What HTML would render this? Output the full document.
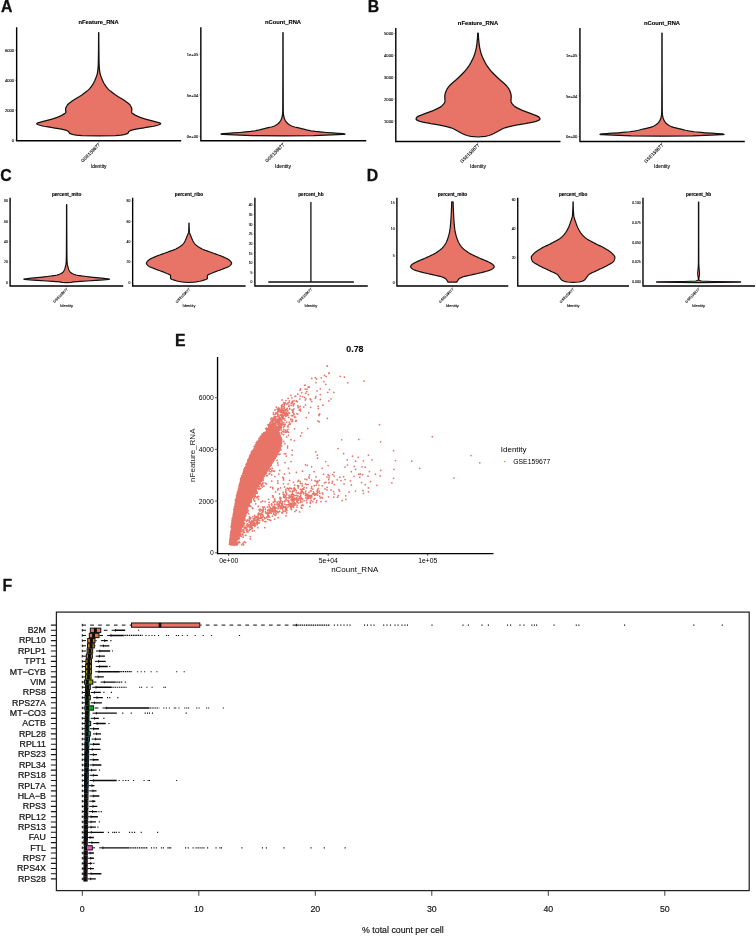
<!DOCTYPE html>
<html lang="en"><head><meta charset="utf-8"><title>QC figure</title>
<style>html,body{margin:0;padding:0;background:#fff;}body{width:756px;height:936px;overflow:hidden;}svg{display:block;font-family:'Liberation Sans', Arial, sans-serif;}</style></head><body>
<svg width="756" height="936" viewBox="0 0 756 936">
<rect width="756" height="936" fill="#fff"/>
<text x="0.95" y="11.9" font-size="15.8" text-anchor="start" font-weight="bold" fill="#111" stroke="#111" stroke-width="0.3">A</text>
<text x="367.7" y="11.9" font-size="15.8" text-anchor="start" font-weight="bold" fill="#111" stroke="#111" stroke-width="0.3">B</text>
<text x="0.2" y="180.8" font-size="15.8" text-anchor="start" font-weight="bold" fill="#111" stroke="#111" stroke-width="0.3">C</text>
<text x="366.7" y="180.8" font-size="15.8" text-anchor="start" font-weight="bold" fill="#111" stroke="#111" stroke-width="0.3">D</text>
<text x="174.9" y="346.4" font-size="15.8" text-anchor="start" font-weight="bold" fill="#111" stroke="#111" stroke-width="0.3">E</text>
<text x="2.45" y="591" font-size="15.8" text-anchor="start" font-weight="bold" fill="#111" stroke="#111" stroke-width="0.3">F</text>
<text x="98.6" y="24.2" font-size="5.8" text-anchor="middle" font-weight="bold" fill="#000" stroke="#000" stroke-width="0.12">nFeature_RNA</text>
<path d="M16.65 27.2 V140.8 H181.2" fill="none" stroke="#000" stroke-width="1.4" stroke-linejoin="miter"/>
<path d="M15.35 50.2H16.65" stroke="#111" stroke-width="0.55"/>
<text x="14.05" y="51.88" font-size="4.1" text-anchor="end" fill="#000" stroke="#000" stroke-width="0.1">6000</text>
<path d="M15.35 80.3H16.65" stroke="#111" stroke-width="0.55"/>
<text x="14.05" y="81.98" font-size="4.1" text-anchor="end" fill="#000" stroke="#000" stroke-width="0.1">4000</text>
<path d="M15.35 110.2H16.65" stroke="#111" stroke-width="0.55"/>
<text x="14.05" y="111.88" font-size="4.1" text-anchor="end" fill="#000" stroke="#000" stroke-width="0.1">2000</text>
<path d="M15.35 140.1H16.65" stroke="#111" stroke-width="0.55"/>
<text x="14.05" y="141.78" font-size="4.1" text-anchor="end" fill="#000" stroke="#000" stroke-width="0.1">0</text>
<path d="M98.6 32.7 L98.6 33.44 L98.6 34.18 L98.6 34.93 L98.6 35.67 L98.59 36.41 L98.59 37.15 L98.59 37.9 L98.59 38.64 L98.58 39.38 L98.58 40.12 L98.57 40.87 L98.57 41.61 L98.57 42.35 L98.56 43.09 L98.55 43.84 L98.55 44.58 L98.54 45.32 L98.54 46.06 L98.53 46.81 L98.52 47.55 L98.52 48.29 L98.51 49.03 L98.5 49.78 L98.5 50.52 L98.49 51.26 L98.48 52 L98.47 52.75 L98.47 53.49 L98.46 54.23 L98.45 54.97 L98.45 55 L98.44 55.72 L98.43 56.46 L98.42 57.2 L98.41 57.94 L98.4 58.69 L98.39 59.43 L98.38 60.17 L98.36 60.91 L98.35 61.66 L98.33 62.4 L98.31 63.14 L98.29 63.88 L98.27 64.63 L98.25 65.2 L98.24 65.37 L98.21 66.11 L98.17 66.85 L98.11 67.59 L98.04 68.34 L97.97 69.08 L97.88 69.82 L97.79 70.56 L97.69 71.31 L97.58 72.05 L97.5 72.6 L97.47 72.79 L97.32 73.53 L97.14 74.28 L96.93 75.02 L96.69 75.76 L96.43 76.5 L96.15 77.25 L95.85 77.99 L95.54 78.73 L95.23 79.47 L95 80 L94.91 80.22 L94.57 80.96 L94.22 81.7 L93.85 82.44 L93.45 83.19 L93.03 83.93 L92.58 84.67 L92.1 85.41 L91.59 86.16 L91.06 86.9 L90.6 87.5 L90.49 87.64 L89.85 88.38 L89.14 89.13 L88.36 89.87 L87.53 90.61 L86.64 91.35 L85.72 92.1 L84.76 92.84 L83.78 93.58 L82.78 94.32 L82 94.9 L81.77 95.07 L80.68 95.81 L79.5 96.55 L78.25 97.29 L76.97 98.04 L75.7 98.78 L74.46 99.52 L73.3 100.26 L72.23 101.01 L72.1 101.1 L71.22 101.75 L70.2 102.49 L69.22 103.23 L68.33 103.97 L67.6 104.72 L67.1 105.4 L67.07 105.46 L66.64 106.2 L66.24 106.94 L65.91 107.69 L65.69 108.43 L65.6 109.17 L65.6 109.2 L65.63 109.91 L65.69 110.66 L65.76 111.4 L65.8 112.14 L65.8 112.3 L65.52 112.88 L64.59 113.63 L63.35 114.37 L62.8 114.7 L62.1 115.11 L60.64 115.85 L58.94 116.6 L57.06 117.34 L55.04 118.08 L54.7 118.2 L52.75 118.82 L50.05 119.57 L47.17 120.31 L44.29 121.05 L42.3 121.6 L41.59 121.79 L38.74 122.54 L37.3 123.1 L37.05 123.28 L36.7 123.7 L36.92 124.02 L37.3 124.3 L38.27 124.76 L40.75 125.51 L42.3 125.9 L43.85 126.25 L48 126.99 L52.56 127.73 L54.7 128.1 L56.91 128.48 L61.41 129.22 L64.6 129.9 L64.81 129.96 L67.12 130.7 L68.55 131.45 L68.6 131.5 L68.97 132.19 L69.25 132.93 L69.5 133.3 L70.09 133.67 L72.5 134.42 L73.3 134.6 L76.5 135.16 L82 135.6 L98.7 135.9 L98.7 135.9 L115.4 135.6 L120.9 135.16 L124.1 134.6 L124.9 134.42 L127.31 133.67 L127.9 133.3 L128.15 132.93 L128.43 132.19 L128.8 131.5 L128.85 131.45 L130.28 130.7 L132.59 129.96 L132.8 129.9 L135.99 129.22 L140.49 128.48 L142.7 128.1 L144.84 127.73 L149.4 126.99 L153.55 126.25 L155.1 125.9 L156.65 125.51 L159.13 124.76 L160.1 124.3 L160.48 124.02 L160.7 123.7 L160.35 123.28 L160.1 123.1 L158.66 122.54 L155.81 121.79 L155.1 121.6 L153.11 121.05 L150.23 120.31 L147.35 119.57 L144.65 118.82 L142.7 118.2 L142.36 118.08 L140.34 117.34 L138.46 116.6 L136.76 115.85 L135.3 115.11 L134.6 114.7 L134.05 114.37 L132.81 113.63 L131.88 112.88 L131.6 112.3 L131.6 112.14 L131.64 111.4 L131.71 110.66 L131.77 109.91 L131.8 109.2 L131.8 109.17 L131.71 108.43 L131.49 107.69 L131.16 106.94 L130.76 106.2 L130.33 105.46 L130.3 105.4 L129.8 104.72 L129.07 103.97 L128.18 103.23 L127.2 102.49 L126.18 101.75 L125.3 101.1 L125.17 101.01 L124.1 100.26 L122.94 99.52 L121.7 98.78 L120.43 98.04 L119.15 97.29 L117.9 96.55 L116.72 95.81 L115.63 95.07 L115.4 94.9 L114.62 94.32 L113.62 93.58 L112.64 92.84 L111.68 92.1 L110.76 91.35 L109.87 90.61 L109.04 89.87 L108.26 89.13 L107.55 88.38 L106.91 87.64 L106.8 87.5 L106.34 86.9 L105.81 86.16 L105.3 85.41 L104.82 84.67 L104.37 83.93 L103.95 83.19 L103.55 82.44 L103.18 81.7 L102.83 80.96 L102.49 80.22 L102.4 80 L102.17 79.47 L101.86 78.73 L101.55 77.99 L101.25 77.25 L100.97 76.5 L100.71 75.76 L100.47 75.02 L100.26 74.28 L100.08 73.53 L99.93 72.79 L99.9 72.6 L99.82 72.05 L99.71 71.31 L99.61 70.56 L99.52 69.82 L99.43 69.08 L99.36 68.34 L99.29 67.59 L99.23 66.85 L99.19 66.11 L99.16 65.37 L99.15 65.2 L99.13 64.63 L99.11 63.88 L99.09 63.14 L99.07 62.4 L99.05 61.66 L99.04 60.91 L99.02 60.17 L99.01 59.43 L99 58.69 L98.99 57.94 L98.98 57.2 L98.97 56.46 L98.96 55.72 L98.95 55 L98.95 54.97 L98.94 54.23 L98.93 53.49 L98.93 52.75 L98.92 52 L98.91 51.26 L98.9 50.52 L98.9 49.78 L98.89 49.03 L98.88 48.29 L98.88 47.55 L98.87 46.81 L98.86 46.06 L98.86 45.32 L98.85 44.58 L98.85 43.84 L98.84 43.09 L98.83 42.35 L98.83 41.61 L98.83 40.87 L98.82 40.12 L98.82 39.38 L98.81 38.64 L98.81 37.9 L98.81 37.15 L98.81 36.41 L98.8 35.67 L98.8 34.93 L98.8 34.18 L98.8 33.44 L98.8 32.7 Z" fill="#E87468" stroke="#111" stroke-width="1.25" stroke-linejoin="round"/>
<path d="M98.7 141.4V142.6" stroke="#111" stroke-width="0.4"/>
<text x="100.4" y="145.1" font-size="4.59" text-anchor="end" fill="#000" stroke="#000" stroke-width="0.1" transform="rotate(-45 100.4 145.1)">GSE159677</text>
<text x="98.7" y="167.7" font-size="4.9" text-anchor="middle" fill="#000" stroke="#000" stroke-width="0.1">Identity</text>
<text x="283" y="24.2" font-size="5.8" text-anchor="middle" font-weight="bold" fill="#000" stroke="#000" stroke-width="0.12">nCount_RNA</text>
<path d="M200.85 27.2 V140.8 H366.2" fill="none" stroke="#000" stroke-width="1.4" stroke-linejoin="miter"/>
<path d="M199.55 54.3H200.85" stroke="#111" stroke-width="0.55"/>
<text x="198.25" y="55.98" font-size="4.1" text-anchor="end" fill="#000" stroke="#000" stroke-width="0.1">1e+05</text>
<path d="M199.55 95.2H200.85" stroke="#111" stroke-width="0.55"/>
<text x="198.25" y="96.88" font-size="4.1" text-anchor="end" fill="#000" stroke="#000" stroke-width="0.1">5e+04</text>
<path d="M199.55 136.1H200.85" stroke="#111" stroke-width="0.55"/>
<text x="198.25" y="137.78" font-size="4.1" text-anchor="end" fill="#000" stroke="#000" stroke-width="0.1">0e+00</text>
<path d="M282.9 32.7 L282.9 33.44 L282.9 34.18 L282.9 34.93 L282.9 35.67 L282.9 36.41 L282.9 37.15 L282.9 37.9 L282.9 38.64 L282.9 39.38 L282.9 40.12 L282.9 40.87 L282.9 41.61 L282.9 42.35 L282.9 43.09 L282.9 43.84 L282.9 44.58 L282.9 45.32 L282.9 46.06 L282.9 46.81 L282.9 47.55 L282.89 48.29 L282.89 49.03 L282.89 49.78 L282.89 50.52 L282.89 51.26 L282.89 52 L282.89 52.75 L282.89 53.49 L282.89 54.23 L282.89 54.97 L282.89 55.72 L282.89 56.46 L282.89 57.2 L282.89 57.94 L282.89 58.69 L282.88 59.43 L282.88 60.17 L282.88 60.91 L282.88 61.66 L282.88 62.4 L282.88 63.14 L282.88 63.88 L282.88 64.63 L282.88 65.37 L282.88 66.11 L282.87 66.85 L282.87 67.59 L282.87 68.34 L282.87 69.08 L282.87 69.82 L282.87 70.56 L282.87 71.31 L282.87 72.05 L282.86 72.79 L282.86 73.53 L282.86 74.28 L282.86 75.02 L282.86 75.76 L282.86 76.5 L282.86 77.25 L282.85 77.99 L282.85 78.73 L282.85 79.47 L282.85 80.22 L282.85 80.96 L282.85 81.7 L282.85 82.44 L282.84 83.19 L282.84 83.93 L282.84 84.67 L282.84 85.41 L282.84 86.16 L282.84 86.9 L282.83 87.64 L282.83 88.38 L282.83 89.13 L282.83 89.87 L282.83 90.61 L282.82 91.35 L282.82 92.1 L282.82 92.84 L282.82 93.58 L282.82 94.32 L282.81 95.07 L282.81 95.81 L282.81 96.55 L282.81 97.29 L282.81 98.04 L282.8 98.78 L282.8 99.52 L282.8 100 L282.8 100.26 L282.8 101.01 L282.79 101.75 L282.79 102.49 L282.79 103.23 L282.79 103.97 L282.78 104.72 L282.78 105.46 L282.77 106.2 L282.77 106.94 L282.76 107.69 L282.75 108.43 L282.75 109.17 L282.74 109.91 L282.73 110.66 L282.71 111.4 L282.7 112.14 L282.7 112.3 L282.68 112.88 L282.62 113.63 L282.53 114.37 L282.42 115.11 L282.28 115.85 L282.13 116.6 L282 117.2 L281.97 117.34 L281.76 118.08 L281.48 118.82 L281.14 119.57 L280.75 120.31 L280.3 121.05 L279.79 121.79 L279.5 122.2 L279.24 122.54 L278.54 123.28 L277.67 124.02 L276.61 124.76 L275.35 125.51 L274.6 125.9 L273.78 126.25 L271.33 126.99 L268.32 127.73 L265.2 128.48 L264.7 128.6 L262.34 129.22 L259.43 129.96 L255.84 130.7 L254.7 130.9 L250.74 131.45 L243.49 132.19 L239.9 132.5 L233.31 132.93 L227.5 133.3 L222.62 133.67 L221.7 133.8 L221 134.05 L221.7 134.3 L223.15 134.42 L233.7 134.8 L240.41 135.16 L252.3 135.6 L283 135.9 L283 135.9 L313.7 135.6 L325.59 135.16 L332.3 134.8 L342.85 134.42 L344.3 134.3 L345 134.05 L344.3 133.8 L343.38 133.67 L338.5 133.3 L332.69 132.93 L326.1 132.5 L322.51 132.19 L315.26 131.45 L311.3 130.9 L310.16 130.7 L306.57 129.96 L303.66 129.22 L301.3 128.6 L300.8 128.48 L297.68 127.73 L294.67 126.99 L292.22 126.25 L291.4 125.9 L290.65 125.51 L289.39 124.76 L288.33 124.02 L287.46 123.28 L286.76 122.54 L286.5 122.2 L286.21 121.79 L285.7 121.05 L285.25 120.31 L284.86 119.57 L284.52 118.82 L284.24 118.08 L284.03 117.34 L284 117.2 L283.87 116.6 L283.72 115.85 L283.58 115.11 L283.47 114.37 L283.38 113.63 L283.32 112.88 L283.3 112.3 L283.3 112.14 L283.29 111.4 L283.27 110.66 L283.26 109.91 L283.25 109.17 L283.25 108.43 L283.24 107.69 L283.23 106.94 L283.23 106.2 L283.22 105.46 L283.22 104.72 L283.21 103.97 L283.21 103.23 L283.21 102.49 L283.21 101.75 L283.2 101.01 L283.2 100.26 L283.2 100 L283.2 99.52 L283.2 98.78 L283.19 98.04 L283.19 97.29 L283.19 96.55 L283.19 95.81 L283.19 95.07 L283.18 94.32 L283.18 93.58 L283.18 92.84 L283.18 92.1 L283.18 91.35 L283.17 90.61 L283.17 89.87 L283.17 89.13 L283.17 88.38 L283.17 87.64 L283.16 86.9 L283.16 86.16 L283.16 85.41 L283.16 84.67 L283.16 83.93 L283.16 83.19 L283.15 82.44 L283.15 81.7 L283.15 80.96 L283.15 80.22 L283.15 79.47 L283.15 78.73 L283.15 77.99 L283.14 77.25 L283.14 76.5 L283.14 75.76 L283.14 75.02 L283.14 74.28 L283.14 73.53 L283.14 72.79 L283.13 72.05 L283.13 71.31 L283.13 70.56 L283.13 69.82 L283.13 69.08 L283.13 68.34 L283.13 67.59 L283.13 66.85 L283.12 66.11 L283.12 65.37 L283.12 64.63 L283.12 63.88 L283.12 63.14 L283.12 62.4 L283.12 61.66 L283.12 60.91 L283.12 60.17 L283.12 59.43 L283.11 58.69 L283.11 57.94 L283.11 57.2 L283.11 56.46 L283.11 55.72 L283.11 54.97 L283.11 54.23 L283.11 53.49 L283.11 52.75 L283.11 52 L283.11 51.26 L283.11 50.52 L283.11 49.78 L283.11 49.03 L283.11 48.29 L283.1 47.55 L283.1 46.81 L283.1 46.06 L283.1 45.32 L283.1 44.58 L283.1 43.84 L283.1 43.09 L283.1 42.35 L283.1 41.61 L283.1 40.87 L283.1 40.12 L283.1 39.38 L283.1 38.64 L283.1 37.9 L283.1 37.15 L283.1 36.41 L283.1 35.67 L283.1 34.93 L283.1 34.18 L283.1 33.44 L283.1 32.7 Z" fill="#E87468" stroke="#111" stroke-width="1.25" stroke-linejoin="round"/>
<path d="M283 141.4V142.6" stroke="#111" stroke-width="0.4"/>
<text x="284.7" y="145.1" font-size="4.59" text-anchor="end" fill="#000" stroke="#000" stroke-width="0.1" transform="rotate(-45 284.7 145.1)">GSE159677</text>
<text x="283" y="167.7" font-size="4.9" text-anchor="middle" fill="#000" stroke="#000" stroke-width="0.1">Identity</text>
<text x="478" y="24.8" font-size="5.8" text-anchor="middle" font-weight="bold" fill="#000" stroke="#000" stroke-width="0.12">nFeature_RNA</text>
<path d="M395.8 28 V141.5 H560.5" fill="none" stroke="#000" stroke-width="1.4" stroke-linejoin="miter"/>
<path d="M394.5 33.4H395.8" stroke="#111" stroke-width="0.55"/>
<text x="393.2" y="35.08" font-size="4.1" text-anchor="end" fill="#000" stroke="#000" stroke-width="0.1">5000</text>
<path d="M394.5 55.3H395.8" stroke="#111" stroke-width="0.55"/>
<text x="393.2" y="56.98" font-size="4.1" text-anchor="end" fill="#000" stroke="#000" stroke-width="0.1">4000</text>
<path d="M394.5 77.1H395.8" stroke="#111" stroke-width="0.55"/>
<text x="393.2" y="78.78" font-size="4.1" text-anchor="end" fill="#000" stroke="#000" stroke-width="0.1">3000</text>
<path d="M394.5 99H395.8" stroke="#111" stroke-width="0.55"/>
<text x="393.2" y="100.68" font-size="4.1" text-anchor="end" fill="#000" stroke="#000" stroke-width="0.1">2000</text>
<path d="M394.5 120.9H395.8" stroke="#111" stroke-width="0.55"/>
<text x="393.2" y="122.58" font-size="4.1" text-anchor="end" fill="#000" stroke="#000" stroke-width="0.1">1000</text>
<path d="M477.7 33.2 L477.69 33.95 L477.66 34.69 L477.63 35.44 L477.59 36.19 L477.54 36.93 L477.49 37.68 L477.43 38.43 L477.37 39.17 L477.3 39.92 L477.23 40.67 L477.15 41.41 L477.08 42.16 L477 42.9 L477 42.91 L476.92 43.65 L476.82 44.4 L476.71 45.15 L476.6 45.89 L476.47 46.64 L476.34 47.39 L476.19 48.14 L476.04 48.88 L475.88 49.63 L475.71 50.38 L475.53 51.12 L475.34 51.87 L475.15 52.62 L475.1 52.8 L474.94 53.36 L474.71 54.11 L474.46 54.86 L474.19 55.6 L473.89 56.35 L473.58 57.1 L473.25 57.84 L472.91 58.59 L472.55 59.34 L472.18 60.08 L471.79 60.83 L471.4 61.58 L471 62.32 L470.8 62.7 L470.6 63.07 L470.16 63.82 L469.71 64.56 L469.22 65.31 L468.72 66.06 L468.2 66.8 L467.65 67.55 L467.09 68.3 L466.51 69.04 L465.92 69.79 L465.31 70.54 L464.7 71.28 L464.6 71.4 L464.06 72.03 L463.38 72.78 L462.67 73.53 L461.94 74.27 L461.18 75.02 L460.41 75.77 L459.62 76.51 L458.83 77.26 L458.04 78.01 L457.25 78.75 L457.2 78.8 L456.44 79.5 L455.58 80.25 L454.7 80.99 L453.8 81.74 L452.92 82.49 L452.05 83.23 L451.24 83.98 L450.48 84.73 L449.81 85.47 L449.7 85.6 L449.19 86.22 L448.59 86.97 L448.02 87.71 L447.48 88.46 L446.99 89.21 L446.55 89.95 L446.19 90.7 L446 91.2 L445.91 91.45 L445.65 92.19 L445.41 92.94 L445.19 93.69 L445 94.43 L444.87 95.18 L444.81 95.93 L444.8 96.2 L444.81 96.67 L444.83 97.42 L444.87 98.17 L444.92 98.92 L444.96 99.66 L444.99 100.41 L445 101.1 L445 101.16 L444.87 101.9 L444.55 102.65 L444.08 103.4 L443.5 104.14 L442.85 104.89 L442.3 105.5 L442.17 105.64 L441.29 106.38 L440.14 107.13 L438.8 107.88 L437.33 108.62 L435.79 109.37 L434.9 109.8 L434.22 110.12 L432.4 110.86 L430.41 111.61 L428.32 112.36 L426.25 113.1 L424.31 113.85 L423.7 114.1 L422.45 114.6 L420.46 115.34 L418.62 116.09 L417.28 116.84 L416.9 117.2 L416.62 117.58 L416.19 118.33 L416 119.08 L416 119.1 L416.6 119.82 L418.06 120.57 L418.8 120.9 L419.98 121.32 L423.03 122.06 L426.73 122.81 L428.7 123.2 L430.65 123.56 L435.31 124.31 L439.83 125.05 L441.1 125.3 L443.43 125.8 L446.67 126.55 L449.46 127.29 L451 127.8 L451.63 128.04 L453.35 128.79 L454.82 129.53 L456.15 130.28 L457.49 131.03 L458.4 131.5 L458.93 131.77 L460.31 132.52 L461.68 133.27 L463.2 134.01 L464.6 134.6 L465.01 134.76 L466.98 135.51 L469.98 136.25 L470.8 136.4 L478 137 L478 137 L485.2 136.4 L486.02 136.25 L489.02 135.51 L490.99 134.76 L491.4 134.6 L492.8 134.01 L494.32 133.27 L495.69 132.52 L497.07 131.77 L497.6 131.5 L498.51 131.03 L499.85 130.28 L501.18 129.53 L502.65 128.79 L504.37 128.04 L505 127.8 L506.54 127.29 L509.33 126.55 L512.57 125.8 L514.9 125.3 L516.17 125.05 L520.69 124.31 L525.35 123.56 L527.3 123.2 L529.27 122.81 L532.97 122.06 L536.02 121.32 L537.2 120.9 L537.94 120.57 L539.4 119.82 L540 119.1 L540 119.08 L539.81 118.33 L539.38 117.58 L539.1 117.2 L538.72 116.84 L537.38 116.09 L535.54 115.34 L533.55 114.6 L532.3 114.1 L531.69 113.85 L529.75 113.1 L527.68 112.36 L525.59 111.61 L523.6 110.86 L521.78 110.12 L521.1 109.8 L520.21 109.37 L518.67 108.62 L517.2 107.88 L515.86 107.13 L514.71 106.38 L513.83 105.64 L513.7 105.5 L513.15 104.89 L512.5 104.14 L511.92 103.4 L511.45 102.65 L511.13 101.9 L511 101.16 L511 101.1 L511.01 100.41 L511.04 99.66 L511.08 98.92 L511.13 98.17 L511.17 97.42 L511.19 96.67 L511.2 96.2 L511.19 95.93 L511.13 95.18 L511 94.43 L510.81 93.69 L510.59 92.94 L510.35 92.19 L510.09 91.45 L510 91.2 L509.81 90.7 L509.45 89.95 L509.01 89.21 L508.52 88.46 L507.98 87.71 L507.41 86.97 L506.81 86.22 L506.3 85.6 L506.19 85.47 L505.52 84.73 L504.76 83.98 L503.95 83.23 L503.08 82.49 L502.2 81.74 L501.3 80.99 L500.42 80.25 L499.56 79.5 L498.8 78.8 L498.75 78.75 L497.96 78.01 L497.17 77.26 L496.38 76.51 L495.59 75.77 L494.82 75.02 L494.06 74.27 L493.33 73.53 L492.62 72.78 L491.94 72.03 L491.4 71.4 L491.3 71.28 L490.69 70.54 L490.08 69.79 L489.49 69.04 L488.91 68.3 L488.35 67.55 L487.8 66.8 L487.28 66.06 L486.78 65.31 L486.29 64.56 L485.84 63.82 L485.4 63.07 L485.2 62.7 L485 62.32 L484.6 61.58 L484.21 60.83 L483.82 60.08 L483.45 59.34 L483.09 58.59 L482.75 57.84 L482.42 57.1 L482.11 56.35 L481.81 55.6 L481.54 54.86 L481.29 54.11 L481.06 53.36 L480.9 52.8 L480.85 52.62 L480.66 51.87 L480.47 51.12 L480.29 50.38 L480.12 49.63 L479.96 48.88 L479.81 48.14 L479.66 47.39 L479.53 46.64 L479.4 45.89 L479.29 45.15 L479.18 44.4 L479.08 43.65 L479 42.91 L479 42.9 L478.92 42.16 L478.85 41.41 L478.77 40.67 L478.7 39.92 L478.63 39.17 L478.57 38.43 L478.51 37.68 L478.46 36.93 L478.41 36.19 L478.37 35.44 L478.34 34.69 L478.31 33.95 L478.3 33.2 Z" fill="#E87468" stroke="#111" stroke-width="1.25" stroke-linejoin="round"/>
<path d="M478 142V143.2" stroke="#111" stroke-width="0.4"/>
<text x="479.7" y="145.7" font-size="4.59" text-anchor="end" fill="#000" stroke="#000" stroke-width="0.1" transform="rotate(-45 479.7 145.7)">GSE159677</text>
<text x="478" y="168.3" font-size="4.9" text-anchor="middle" fill="#000" stroke="#000" stroke-width="0.1">Identity</text>
<text x="662" y="25" font-size="5.8" text-anchor="middle" font-weight="bold" fill="#000" stroke="#000" stroke-width="0.12">nCount_RNA</text>
<path d="M579.95 28 V141.5 H744.8" fill="none" stroke="#000" stroke-width="1.4" stroke-linejoin="miter"/>
<path d="M578.7 55H580" stroke="#111" stroke-width="0.55"/>
<text x="577.4" y="56.68" font-size="4.1" text-anchor="end" fill="#000" stroke="#000" stroke-width="0.1">1e+05</text>
<path d="M578.7 95.9H580" stroke="#111" stroke-width="0.55"/>
<text x="577.4" y="97.58" font-size="4.1" text-anchor="end" fill="#000" stroke="#000" stroke-width="0.1">5e+04</text>
<path d="M578.7 136.6H580" stroke="#111" stroke-width="0.55"/>
<text x="577.4" y="138.28" font-size="4.1" text-anchor="end" fill="#000" stroke="#000" stroke-width="0.1">0e+00</text>
<path d="M661.9 33 L661.9 33.74 L661.9 34.48 L661.9 35.23 L661.9 35.97 L661.9 36.71 L661.9 37.45 L661.9 38.2 L661.9 38.94 L661.9 39.68 L661.9 40.42 L661.9 41.17 L661.9 41.91 L661.9 42.65 L661.9 43.39 L661.9 44.14 L661.9 44.88 L661.9 45.62 L661.9 46.36 L661.9 47.11 L661.9 47.85 L661.89 48.59 L661.89 49.33 L661.89 50.08 L661.89 50.82 L661.89 51.56 L661.89 52.3 L661.89 53.05 L661.89 53.79 L661.89 54.53 L661.89 55.27 L661.89 56.02 L661.89 56.76 L661.89 57.5 L661.89 58.24 L661.89 58.99 L661.88 59.73 L661.88 60.47 L661.88 61.21 L661.88 61.96 L661.88 62.7 L661.88 63.44 L661.88 64.18 L661.88 64.93 L661.88 65.67 L661.88 66.41 L661.87 67.15 L661.87 67.89 L661.87 68.64 L661.87 69.38 L661.87 70.12 L661.87 70.86 L661.87 71.61 L661.87 72.35 L661.86 73.09 L661.86 73.83 L661.86 74.58 L661.86 75.32 L661.86 76.06 L661.86 76.8 L661.86 77.55 L661.85 78.29 L661.85 79.03 L661.85 79.77 L661.85 80.52 L661.85 81.26 L661.85 82 L661.85 82.74 L661.84 83.49 L661.84 84.23 L661.84 84.97 L661.84 85.71 L661.84 86.46 L661.84 87.2 L661.83 87.94 L661.83 88.68 L661.83 89.43 L661.83 90.17 L661.83 90.91 L661.82 91.65 L661.82 92.4 L661.82 93.14 L661.82 93.88 L661.82 94.62 L661.81 95.37 L661.81 96.11 L661.81 96.85 L661.81 97.59 L661.81 98.34 L661.8 99.08 L661.8 99.82 L661.8 100.3 L661.8 100.56 L661.8 101.31 L661.79 102.05 L661.79 102.79 L661.79 103.53 L661.79 104.27 L661.78 105.02 L661.78 105.76 L661.77 106.5 L661.77 107.24 L661.76 107.99 L661.75 108.73 L661.75 109.47 L661.74 110.21 L661.73 110.96 L661.71 111.7 L661.7 112.44 L661.7 112.6 L661.68 113.18 L661.62 113.93 L661.53 114.67 L661.42 115.41 L661.28 116.15 L661.13 116.9 L661 117.5 L660.97 117.64 L660.76 118.38 L660.48 119.12 L660.14 119.87 L659.75 120.61 L659.3 121.35 L658.79 122.09 L658.5 122.5 L658.24 122.84 L657.54 123.58 L656.67 124.32 L655.61 125.06 L654.35 125.81 L653.6 126.2 L652.78 126.55 L650.33 127.29 L647.32 128.03 L644.2 128.78 L643.7 128.9 L641.34 129.52 L638.43 130.26 L634.84 131 L633.7 131.2 L629.74 131.75 L622.49 132.49 L618.9 132.8 L612.31 133.23 L606.5 133.6 L601.62 133.97 L600.7 134.1 L600 134.35 L600.7 134.6 L602.15 134.72 L612.7 135.1 L619.41 135.46 L631.3 135.9 L662 136.2 L662 136.2 L692.7 135.9 L704.59 135.46 L711.3 135.1 L721.85 134.72 L723.3 134.6 L724 134.35 L723.3 134.1 L722.38 133.97 L717.5 133.6 L711.69 133.23 L705.1 132.8 L701.51 132.49 L694.26 131.75 L690.3 131.2 L689.16 131 L685.57 130.26 L682.66 129.52 L680.3 128.9 L679.8 128.78 L676.68 128.03 L673.67 127.29 L671.22 126.55 L670.4 126.2 L669.65 125.81 L668.39 125.06 L667.33 124.32 L666.46 123.58 L665.76 122.84 L665.5 122.5 L665.21 122.09 L664.7 121.35 L664.25 120.61 L663.86 119.87 L663.52 119.12 L663.24 118.38 L663.03 117.64 L663 117.5 L662.87 116.9 L662.72 116.15 L662.58 115.41 L662.47 114.67 L662.38 113.93 L662.32 113.18 L662.3 112.6 L662.3 112.44 L662.29 111.7 L662.27 110.96 L662.26 110.21 L662.25 109.47 L662.25 108.73 L662.24 107.99 L662.23 107.24 L662.23 106.5 L662.22 105.76 L662.22 105.02 L662.21 104.27 L662.21 103.53 L662.21 102.79 L662.21 102.05 L662.2 101.31 L662.2 100.56 L662.2 100.3 L662.2 99.82 L662.2 99.08 L662.19 98.34 L662.19 97.59 L662.19 96.85 L662.19 96.11 L662.19 95.37 L662.18 94.62 L662.18 93.88 L662.18 93.14 L662.18 92.4 L662.18 91.65 L662.17 90.91 L662.17 90.17 L662.17 89.43 L662.17 88.68 L662.17 87.94 L662.16 87.2 L662.16 86.46 L662.16 85.71 L662.16 84.97 L662.16 84.23 L662.16 83.49 L662.15 82.74 L662.15 82 L662.15 81.26 L662.15 80.52 L662.15 79.77 L662.15 79.03 L662.15 78.29 L662.14 77.55 L662.14 76.8 L662.14 76.06 L662.14 75.32 L662.14 74.58 L662.14 73.83 L662.14 73.09 L662.13 72.35 L662.13 71.61 L662.13 70.86 L662.13 70.12 L662.13 69.38 L662.13 68.64 L662.13 67.89 L662.13 67.15 L662.12 66.41 L662.12 65.67 L662.12 64.93 L662.12 64.18 L662.12 63.44 L662.12 62.7 L662.12 61.96 L662.12 61.21 L662.12 60.47 L662.12 59.73 L662.11 58.99 L662.11 58.24 L662.11 57.5 L662.11 56.76 L662.11 56.02 L662.11 55.27 L662.11 54.53 L662.11 53.79 L662.11 53.05 L662.11 52.3 L662.11 51.56 L662.11 50.82 L662.11 50.08 L662.11 49.33 L662.11 48.59 L662.1 47.85 L662.1 47.11 L662.1 46.36 L662.1 45.62 L662.1 44.88 L662.1 44.14 L662.1 43.39 L662.1 42.65 L662.1 41.91 L662.1 41.17 L662.1 40.42 L662.1 39.68 L662.1 38.94 L662.1 38.2 L662.1 37.45 L662.1 36.71 L662.1 35.97 L662.1 35.23 L662.1 34.48 L662.1 33.74 L662.1 33 Z" fill="#E87468" stroke="#111" stroke-width="1.25" stroke-linejoin="round"/>
<path d="M662 141.8V143" stroke="#111" stroke-width="0.4"/>
<text x="663.7" y="145.5" font-size="4.59" text-anchor="end" fill="#000" stroke="#000" stroke-width="0.1" transform="rotate(-45 663.7 145.5)">GSE159677</text>
<text x="662" y="168.1" font-size="4.9" text-anchor="middle" fill="#000" stroke="#000" stroke-width="0.1">Identity</text>
<text x="66.6" y="195.5" font-size="4.7" text-anchor="middle" font-weight="bold" fill="#000" stroke="#000" stroke-width="0.12">percent_mito</text>
<path d="M10.1 197.7 V286 H123.2" fill="none" stroke="#000" stroke-width="1.35" stroke-linejoin="miter"/>
<path d="M9.1 200.9H10.1" stroke="#111" stroke-width="0.55"/>
<text x="7.8" y="202.32" font-size="3.4" text-anchor="end" fill="#000" stroke="#000" stroke-width="0.1">80</text>
<path d="M9.1 221.3H10.1" stroke="#111" stroke-width="0.55"/>
<text x="7.8" y="222.72" font-size="3.4" text-anchor="end" fill="#000" stroke="#000" stroke-width="0.1">60</text>
<path d="M9.1 241.6H10.1" stroke="#111" stroke-width="0.55"/>
<text x="7.8" y="243.02" font-size="3.4" text-anchor="end" fill="#000" stroke="#000" stroke-width="0.1">40</text>
<path d="M9.1 261.7H10.1" stroke="#111" stroke-width="0.55"/>
<text x="7.8" y="263.12" font-size="3.4" text-anchor="end" fill="#000" stroke="#000" stroke-width="0.1">20</text>
<path d="M9.1 282.1H10.1" stroke="#111" stroke-width="0.55"/>
<text x="7.8" y="283.52" font-size="3.4" text-anchor="end" fill="#000" stroke="#000" stroke-width="0.1">0</text>
<path d="M66.55 204.5 L66.55 205.06 L66.55 205.63 L66.55 206.19 L66.55 206.75 L66.55 207.31 L66.55 207.88 L66.55 208.44 L66.55 209 L66.55 209.56 L66.55 210.13 L66.55 210.69 L66.55 211.25 L66.55 211.81 L66.55 212.38 L66.54 212.94 L66.54 213.5 L66.54 214.06 L66.54 214.63 L66.54 215.19 L66.54 215.75 L66.54 216.31 L66.54 216.88 L66.54 217.44 L66.54 218 L66.53 218.56 L66.53 219.13 L66.53 219.69 L66.53 220.25 L66.53 220.82 L66.53 221.38 L66.53 221.94 L66.53 222.5 L66.52 223.07 L66.52 223.63 L66.52 224.19 L66.52 224.75 L66.52 225.32 L66.52 225.88 L66.51 226.44 L66.51 227 L66.51 227.57 L66.51 228.13 L66.51 228.69 L66.5 229.25 L66.5 229.82 L66.5 230.38 L66.5 230.94 L66.5 231.5 L66.49 232.07 L66.49 232.63 L66.49 233.19 L66.49 233.75 L66.48 234.32 L66.48 234.88 L66.48 235.44 L66.48 236.01 L66.47 236.57 L66.47 237.13 L66.47 237.69 L66.47 238.26 L66.46 238.82 L66.46 239.38 L66.46 239.94 L66.45 240.51 L66.45 241.07 L66.45 241.63 L66.45 242.19 L66.44 242.76 L66.44 243.32 L66.44 243.88 L66.43 244.44 L66.43 245.01 L66.43 245.57 L66.42 246.13 L66.42 246.69 L66.42 247.26 L66.41 247.82 L66.41 248.38 L66.41 248.94 L66.4 249.51 L66.4 250 L66.4 250.07 L66.4 250.63 L66.39 251.19 L66.39 251.76 L66.38 252.32 L66.38 252.88 L66.37 253.45 L66.37 254.01 L66.36 254.57 L66.35 255.13 L66.34 255.7 L66.34 256.26 L66.33 256.82 L66.32 257.38 L66.31 257.95 L66.29 258.51 L66.28 259.07 L66.27 259.63 L66.25 260.2 L66.24 260.76 L66.22 261.32 L66.2 261.88 L66.2 261.9 L66.17 262.45 L66.12 263.01 L66.05 263.57 L65.97 264.13 L65.86 264.7 L65.75 265.26 L65.63 265.82 L65.49 266.38 L65.35 266.95 L65.2 267.51 L65.15 267.7 L65.05 268.07 L64.88 268.64 L64.68 269.2 L64.46 269.76 L64.2 270.32 L63.89 270.89 L63.53 271.45 L63.12 272.01 L63.05 272.1 L62.57 272.57 L61.76 273.14 L60.68 273.7 L59.33 274.26 L57.71 274.82 L57.15 275 L55.45 275.39 L51.76 275.95 L47.25 276.51 L44.05 276.9 L42.56 277.07 L37.06 277.64 L31.39 278.2 L29.55 278.4 L25.82 278.76 L23.85 279.1 L24.48 279.32 L30.04 279.89 L36.85 280.4 L37.49 280.45 L46.43 281.01 L52.85 281.4 L55.8 281.57 L60.15 281.9 L60.98 282.14 L62.25 282.5 L66.65 282.7 L66.65 282.7 L71.05 282.5 L72.32 282.14 L73.15 281.9 L77.5 281.57 L80.45 281.4 L86.87 281.01 L95.81 280.45 L96.45 280.4 L103.26 279.89 L108.82 279.32 L109.45 279.1 L107.48 278.76 L103.75 278.4 L101.91 278.2 L96.24 277.64 L90.74 277.07 L89.25 276.9 L86.05 276.51 L81.54 275.95 L77.85 275.39 L76.15 275 L75.59 274.82 L73.97 274.26 L72.62 273.7 L71.54 273.14 L70.73 272.57 L70.25 272.1 L70.18 272.01 L69.77 271.45 L69.41 270.89 L69.1 270.32 L68.84 269.76 L68.62 269.2 L68.42 268.64 L68.25 268.07 L68.15 267.7 L68.1 267.51 L67.95 266.95 L67.81 266.38 L67.67 265.82 L67.55 265.26 L67.44 264.7 L67.33 264.13 L67.25 263.57 L67.18 263.01 L67.13 262.45 L67.1 261.9 L67.1 261.88 L67.08 261.32 L67.06 260.76 L67.05 260.2 L67.03 259.63 L67.02 259.07 L67.01 258.51 L66.99 257.95 L66.98 257.38 L66.97 256.82 L66.96 256.26 L66.96 255.7 L66.95 255.13 L66.94 254.57 L66.93 254.01 L66.93 253.45 L66.92 252.88 L66.92 252.32 L66.91 251.76 L66.91 251.19 L66.9 250.63 L66.9 250.07 L66.9 250 L66.9 249.51 L66.89 248.94 L66.89 248.38 L66.89 247.82 L66.88 247.26 L66.88 246.69 L66.88 246.13 L66.87 245.57 L66.87 245.01 L66.87 244.44 L66.86 243.88 L66.86 243.32 L66.86 242.76 L66.85 242.19 L66.85 241.63 L66.85 241.07 L66.85 240.51 L66.84 239.94 L66.84 239.38 L66.84 238.82 L66.83 238.26 L66.83 237.69 L66.83 237.13 L66.83 236.57 L66.82 236.01 L66.82 235.44 L66.82 234.88 L66.82 234.32 L66.81 233.75 L66.81 233.19 L66.81 232.63 L66.81 232.07 L66.8 231.5 L66.8 230.94 L66.8 230.38 L66.8 229.82 L66.8 229.25 L66.79 228.69 L66.79 228.13 L66.79 227.57 L66.79 227 L66.79 226.44 L66.78 225.88 L66.78 225.32 L66.78 224.75 L66.78 224.19 L66.78 223.63 L66.78 223.07 L66.77 222.5 L66.77 221.94 L66.77 221.38 L66.77 220.82 L66.77 220.25 L66.77 219.69 L66.77 219.13 L66.77 218.56 L66.76 218 L66.76 217.44 L66.76 216.88 L66.76 216.31 L66.76 215.75 L66.76 215.19 L66.76 214.63 L66.76 214.06 L66.76 213.5 L66.76 212.94 L66.75 212.38 L66.75 211.81 L66.75 211.25 L66.75 210.69 L66.75 210.13 L66.75 209.56 L66.75 209 L66.75 208.44 L66.75 207.88 L66.75 207.31 L66.75 206.75 L66.75 206.19 L66.75 205.63 L66.75 205.06 L66.75 204.5 Z" fill="#E87468" stroke="#111" stroke-width="1.2" stroke-linejoin="round"/>
<path d="M66.65 286.5V287.5" stroke="#111" stroke-width="0.4"/>
<text x="68.06" y="289.57" font-size="3.5" text-anchor="end" fill="#000" stroke="#000" stroke-width="0.1" transform="rotate(-45 68.06 289.57)">GSE159677</text>
<text x="66.65" y="306.9" font-size="4" text-anchor="middle" fill="#000" stroke="#000" stroke-width="0.1">Identity</text>
<text x="189" y="195.5" font-size="4.7" text-anchor="middle" font-weight="bold" fill="#000" stroke="#000" stroke-width="0.12">percent_ribo</text>
<path d="M132.65 197.7 V286 H245.6" fill="none" stroke="#000" stroke-width="1.35" stroke-linejoin="miter"/>
<path d="M131.7 201H132.7" stroke="#111" stroke-width="0.55"/>
<text x="130.4" y="202.42" font-size="3.4" text-anchor="end" fill="#000" stroke="#000" stroke-width="0.1">80</text>
<path d="M131.7 221.5H132.7" stroke="#111" stroke-width="0.55"/>
<text x="130.4" y="222.92" font-size="3.4" text-anchor="end" fill="#000" stroke="#000" stroke-width="0.1">60</text>
<path d="M131.7 241.7H132.7" stroke="#111" stroke-width="0.55"/>
<text x="130.4" y="243.12" font-size="3.4" text-anchor="end" fill="#000" stroke="#000" stroke-width="0.1">40</text>
<path d="M131.7 262H132.7" stroke="#111" stroke-width="0.55"/>
<text x="130.4" y="263.42" font-size="3.4" text-anchor="end" fill="#000" stroke="#000" stroke-width="0.1">20</text>
<path d="M131.7 282.3H132.7" stroke="#111" stroke-width="0.55"/>
<text x="130.4" y="283.72" font-size="3.4" text-anchor="end" fill="#000" stroke="#000" stroke-width="0.1">0</text>
<path d="M188.9 223.2 L188.9 223.63 L188.9 224.05 L188.89 224.48 L188.89 224.91 L188.88 225.33 L188.87 225.76 L188.87 226.19 L188.86 226.61 L188.84 227.04 L188.83 227.47 L188.82 227.89 L188.8 228.32 L188.78 228.75 L188.77 229.17 L188.75 229.6 L188.73 230.03 L188.7 230.45 L188.68 230.88 L188.66 231.31 L188.65 231.4 L188.62 231.73 L188.55 232.16 L188.46 232.59 L188.34 233.01 L188.2 233.44 L188.05 233.87 L187.88 234.29 L187.7 234.72 L187.52 235.15 L187.33 235.57 L187.15 236 L186.97 236.43 L186.9 236.6 L186.8 236.85 L186.63 237.28 L186.47 237.71 L186.3 238.13 L186.13 238.56 L185.96 238.98 L185.78 239.41 L185.59 239.84 L185.4 240.26 L185.19 240.69 L184.98 241.12 L184.75 241.54 L184.51 241.97 L184.25 242.4 L183.97 242.82 L183.68 243.25 L183.5 243.5 L183.36 243.68 L183 244.1 L182.58 244.53 L182.12 244.96 L181.6 245.38 L181.05 245.81 L180.46 246.24 L179.83 246.66 L179.17 247.09 L178.47 247.52 L177.75 247.94 L177.01 248.37 L176.6 248.6 L176.23 248.8 L175.35 249.22 L174.35 249.65 L173.28 250.08 L172.14 250.5 L170.95 250.93 L169.75 251.36 L168.54 251.78 L167.35 252.21 L166.3 252.6 L166.2 252.64 L165.05 253.06 L163.86 253.49 L162.65 253.92 L161.44 254.34 L160.24 254.77 L159.06 255.2 L157.92 255.62 L156.84 256.05 L156 256.4 L155.82 256.48 L154.82 256.9 L153.81 257.33 L152.82 257.76 L151.87 258.18 L150.99 258.61 L150.2 259.04 L149.53 259.46 L149.1 259.8 L149 259.89 L148.51 260.32 L148.03 260.74 L147.58 261.17 L147.18 261.6 L146.84 262.02 L146.59 262.45 L146.44 262.88 L146.4 263.2 L146.4 263.3 L146.5 263.73 L146.72 264.16 L147.03 264.58 L147.41 265.01 L147.83 265.44 L148.2 265.8 L148.27 265.86 L148.84 266.29 L149.61 266.72 L150.52 267.14 L151.54 267.57 L152.63 267.99 L153.75 268.42 L154.87 268.85 L155.94 269.27 L156 269.3 L157.01 269.7 L158.14 270.13 L159.33 270.55 L160.54 270.98 L161.75 271.41 L162.93 271.83 L164.07 272.26 L165.14 272.69 L166.12 273.11 L166.3 273.2 L167.06 273.54 L168.09 273.97 L169.07 274.39 L169.89 274.82 L170.44 275.25 L170.6 275.6 L170.6 275.67 L170.6 276.1 L170.6 276.53 L170.6 276.95 L170.6 277.38 L170.6 277.81 L170.6 278.23 L170.6 278.4 L170.71 278.66 L171.3 279.09 L172.27 279.51 L173.49 279.94 L174.8 280.37 L174.9 280.4 L176.3 280.79 L178.28 281.22 L180.77 281.65 L181.8 281.8 L184.16 282.07 L189 282.5 L189 282.5 L193.84 282.07 L196.2 281.8 L197.23 281.65 L199.72 281.22 L201.7 280.79 L203.1 280.4 L203.2 280.37 L204.51 279.94 L205.73 279.51 L206.7 279.09 L207.29 278.66 L207.4 278.4 L207.4 278.23 L207.4 277.81 L207.4 277.38 L207.4 276.95 L207.4 276.53 L207.4 276.1 L207.4 275.67 L207.4 275.6 L207.56 275.25 L208.11 274.82 L208.93 274.39 L209.91 273.97 L210.94 273.54 L211.7 273.2 L211.88 273.11 L212.86 272.69 L213.93 272.26 L215.07 271.83 L216.25 271.41 L217.46 270.98 L218.67 270.55 L219.86 270.13 L220.99 269.7 L222 269.3 L222.06 269.27 L223.13 268.85 L224.25 268.42 L225.37 267.99 L226.46 267.57 L227.48 267.14 L228.39 266.72 L229.16 266.29 L229.73 265.86 L229.8 265.8 L230.17 265.44 L230.59 265.01 L230.97 264.58 L231.28 264.16 L231.5 263.73 L231.6 263.3 L231.6 263.2 L231.56 262.88 L231.41 262.45 L231.16 262.02 L230.82 261.6 L230.42 261.17 L229.97 260.74 L229.49 260.32 L229 259.89 L228.9 259.8 L228.47 259.46 L227.8 259.04 L227.01 258.61 L226.13 258.18 L225.18 257.76 L224.19 257.33 L223.18 256.9 L222.18 256.48 L222 256.4 L221.16 256.05 L220.08 255.62 L218.94 255.2 L217.76 254.77 L216.56 254.34 L215.35 253.92 L214.14 253.49 L212.95 253.06 L211.8 252.64 L211.7 252.6 L210.65 252.21 L209.46 251.78 L208.25 251.36 L207.05 250.93 L205.86 250.5 L204.72 250.08 L203.65 249.65 L202.65 249.22 L201.77 248.8 L201.4 248.6 L200.99 248.37 L200.25 247.94 L199.53 247.52 L198.83 247.09 L198.17 246.66 L197.54 246.24 L196.95 245.81 L196.4 245.38 L195.88 244.96 L195.42 244.53 L195 244.1 L194.64 243.68 L194.5 243.5 L194.32 243.25 L194.03 242.82 L193.75 242.4 L193.49 241.97 L193.25 241.54 L193.02 241.12 L192.81 240.69 L192.6 240.26 L192.41 239.84 L192.22 239.41 L192.04 238.98 L191.87 238.56 L191.7 238.13 L191.53 237.71 L191.37 237.28 L191.2 236.85 L191.1 236.6 L191.03 236.43 L190.85 236 L190.67 235.57 L190.48 235.15 L190.3 234.72 L190.12 234.29 L189.95 233.87 L189.8 233.44 L189.66 233.01 L189.54 232.59 L189.45 232.16 L189.38 231.73 L189.35 231.4 L189.34 231.31 L189.32 230.88 L189.3 230.45 L189.27 230.03 L189.25 229.6 L189.23 229.17 L189.22 228.75 L189.2 228.32 L189.18 227.89 L189.17 227.47 L189.16 227.04 L189.14 226.61 L189.13 226.19 L189.13 225.76 L189.12 225.33 L189.11 224.91 L189.11 224.48 L189.1 224.05 L189.1 223.63 L189.1 223.2 Z" fill="#E87468" stroke="#111" stroke-width="1.2" stroke-linejoin="round"/>
<path d="M189 286.6V287.6" stroke="#111" stroke-width="0.4"/>
<text x="190.41" y="289.67" font-size="3.5" text-anchor="end" fill="#000" stroke="#000" stroke-width="0.1" transform="rotate(-45 190.41 289.67)">GSE159677</text>
<text x="189" y="307" font-size="4" text-anchor="middle" fill="#000" stroke="#000" stroke-width="0.1">Identity</text>
<text x="310.9" y="195.5" font-size="4.7" text-anchor="middle" font-weight="bold" fill="#000" stroke="#000" stroke-width="0.12">percent_hb</text>
<path d="M254.9 197.7 V286 H367.8" fill="none" stroke="#000" stroke-width="1.35" stroke-linejoin="miter"/>
<path d="M253.8 205H254.8" stroke="#111" stroke-width="0.55"/>
<text x="252.5" y="206.42" font-size="3.4" text-anchor="end" fill="#000" stroke="#000" stroke-width="0.1">40</text>
<path d="M253.8 214.6H254.8" stroke="#111" stroke-width="0.55"/>
<text x="252.5" y="216.02" font-size="3.4" text-anchor="end" fill="#000" stroke="#000" stroke-width="0.1">35</text>
<path d="M253.8 224.3H254.8" stroke="#111" stroke-width="0.55"/>
<text x="252.5" y="225.72" font-size="3.4" text-anchor="end" fill="#000" stroke="#000" stroke-width="0.1">30</text>
<path d="M253.8 233.9H254.8" stroke="#111" stroke-width="0.55"/>
<text x="252.5" y="235.32" font-size="3.4" text-anchor="end" fill="#000" stroke="#000" stroke-width="0.1">25</text>
<path d="M253.8 243.5H254.8" stroke="#111" stroke-width="0.55"/>
<text x="252.5" y="244.92" font-size="3.4" text-anchor="end" fill="#000" stroke="#000" stroke-width="0.1">20</text>
<path d="M253.8 253.1H254.8" stroke="#111" stroke-width="0.55"/>
<text x="252.5" y="254.52" font-size="3.4" text-anchor="end" fill="#000" stroke="#000" stroke-width="0.1">15</text>
<path d="M253.8 262.8H254.8" stroke="#111" stroke-width="0.55"/>
<text x="252.5" y="264.22" font-size="3.4" text-anchor="end" fill="#000" stroke="#000" stroke-width="0.1">10</text>
<path d="M253.8 272.4H254.8" stroke="#111" stroke-width="0.55"/>
<text x="252.5" y="273.82" font-size="3.4" text-anchor="end" fill="#000" stroke="#000" stroke-width="0.1">5</text>
<path d="M253.8 282H254.8" stroke="#111" stroke-width="0.55"/>
<text x="252.5" y="283.42" font-size="3.4" text-anchor="end" fill="#000" stroke="#000" stroke-width="0.1">0</text>
<path d="M310.9 202V282M268.3 282H353.9" fill="none" stroke="#111" stroke-width="1.3"/>
<path d="M310.9 286.5V287.5" stroke="#111" stroke-width="0.4"/>
<text x="312.31" y="289.57" font-size="3.5" text-anchor="end" fill="#000" stroke="#000" stroke-width="0.1" transform="rotate(-45 312.31 289.57)">GSE159677</text>
<text x="310.9" y="306.9" font-size="4" text-anchor="middle" fill="#000" stroke="#000" stroke-width="0.1">Identity</text>
<text x="452.4" y="195.7" font-size="4.7" text-anchor="middle" font-weight="bold" fill="#000" stroke="#000" stroke-width="0.12">percent_mito</text>
<path d="M396.9 197.8 V286 H508.3" fill="none" stroke="#000" stroke-width="1.35" stroke-linejoin="miter"/>
<path d="M395.9 202.4H396.9" stroke="#111" stroke-width="0.55"/>
<text x="394.6" y="203.82" font-size="3.4" text-anchor="end" fill="#000" stroke="#000" stroke-width="0.1">15</text>
<path d="M395.9 228.9H396.9" stroke="#111" stroke-width="0.55"/>
<text x="394.6" y="230.32" font-size="3.4" text-anchor="end" fill="#000" stroke="#000" stroke-width="0.1">10</text>
<path d="M395.9 255.6H396.9" stroke="#111" stroke-width="0.55"/>
<text x="394.6" y="257.02" font-size="3.4" text-anchor="end" fill="#000" stroke="#000" stroke-width="0.1">5</text>
<path d="M395.9 282.2H396.9" stroke="#111" stroke-width="0.55"/>
<text x="394.6" y="283.62" font-size="3.4" text-anchor="end" fill="#000" stroke="#000" stroke-width="0.1">0</text>
<path d="M451.7 201.9 L451.69 202.48 L451.68 203.06 L451.66 203.63 L451.64 204.21 L451.63 204.79 L451.61 205.37 L451.59 205.94 L451.57 206.52 L451.55 207.1 L451.53 207.68 L451.5 208.25 L451.48 208.83 L451.45 209.41 L451.43 209.99 L451.4 210.57 L451.37 211.14 L451.34 211.72 L451.32 212.3 L451.29 212.88 L451.26 213.45 L451.22 214.03 L451.19 214.61 L451.16 215.19 L451.13 215.76 L451.1 216.3 L451.1 216.34 L451.06 216.92 L451.03 217.5 L451 218.08 L450.96 218.65 L450.92 219.23 L450.89 219.81 L450.85 220.39 L450.81 220.96 L450.76 221.54 L450.72 222.12 L450.68 222.7 L450.63 223.27 L450.58 223.85 L450.53 224.43 L450.47 225.01 L450.42 225.59 L450.36 226.16 L450.3 226.74 L450.24 227.32 L450.17 227.9 L450.1 228.47 L450.03 229.05 L450 229.3 L449.96 229.63 L449.87 230.21 L449.78 230.78 L449.68 231.36 L449.56 231.94 L449.45 232.52 L449.32 233.1 L449.18 233.67 L449.04 234.25 L448.89 234.83 L448.74 235.41 L448.57 235.98 L448.41 236.56 L448.23 237.14 L448.05 237.72 L447.87 238.29 L447.8 238.5 L447.68 238.87 L447.47 239.45 L447.25 240.03 L447.02 240.61 L446.77 241.18 L446.51 241.76 L446.23 242.34 L445.93 242.92 L445.61 243.49 L445.28 244.07 L444.93 244.65 L444.56 245.23 L444.17 245.81 L444.1 245.9 L443.74 246.38 L443.26 246.96 L442.74 247.54 L442.16 248.12 L441.54 248.69 L440.88 249.27 L440.17 249.85 L439.44 250.43 L438.67 251 L437.87 251.58 L437.05 252.16 L436.7 252.4 L436.19 252.74 L435.23 253.32 L434.19 253.89 L433.07 254.47 L431.9 255.05 L430.68 255.63 L429.43 256.2 L428.16 256.78 L426.89 257.36 L425.64 257.94 L425.5 258 L424.35 258.51 L422.99 259.09 L421.58 259.67 L420.17 260.25 L418.8 260.83 L417.51 261.4 L416.34 261.98 L416.3 262 L415.22 262.56 L414.11 263.14 L413.09 263.71 L412.24 264.29 L411.7 264.8 L411.64 264.87 L411.17 265.45 L410.79 266.02 L410.6 266.6 L410.6 266.7 L410.71 267.18 L411.09 267.76 L411.67 268.34 L412.36 268.91 L412.6 269.1 L413.23 269.49 L414.58 270.07 L416.31 270.65 L418.29 271.22 L420.37 271.8 L421.8 272.2 L422.45 272.38 L424.78 272.96 L427.33 273.53 L429.96 274.11 L432.53 274.69 L433 274.8 L435.09 275.27 L437.79 275.85 L440.28 276.42 L442.2 277 L442.2 277 L443.63 277.58 L444.83 278.16 L445.71 278.73 L445.9 278.9 L446.27 279.31 L446.68 279.89 L447.02 280.47 L447.36 281.04 L447.4 281.1 L447.74 281.62 L448.1 282.2 L456.7 282.2 L457.06 281.62 L457.4 281.1 L457.44 281.04 L457.78 280.47 L458.12 279.89 L458.53 279.31 L458.9 278.9 L459.09 278.73 L459.97 278.16 L461.17 277.58 L462.6 277 L462.6 277 L464.52 276.42 L467.01 275.85 L469.71 275.27 L471.8 274.8 L472.27 274.69 L474.84 274.11 L477.47 273.53 L480.02 272.96 L482.35 272.38 L483 272.2 L484.43 271.8 L486.51 271.22 L488.49 270.65 L490.22 270.07 L491.57 269.49 L492.2 269.1 L492.44 268.91 L493.13 268.34 L493.71 267.76 L494.09 267.18 L494.2 266.7 L494.2 266.6 L494.01 266.02 L493.63 265.45 L493.16 264.87 L493.1 264.8 L492.56 264.29 L491.71 263.71 L490.69 263.14 L489.58 262.56 L488.5 262 L488.46 261.98 L487.29 261.4 L486 260.83 L484.63 260.25 L483.22 259.67 L481.81 259.09 L480.45 258.51 L479.3 258 L479.16 257.94 L477.91 257.36 L476.64 256.78 L475.37 256.2 L474.12 255.63 L472.9 255.05 L471.73 254.47 L470.61 253.89 L469.57 253.32 L468.61 252.74 L468.1 252.4 L467.75 252.16 L466.93 251.58 L466.13 251 L465.36 250.43 L464.63 249.85 L463.92 249.27 L463.26 248.69 L462.64 248.12 L462.06 247.54 L461.54 246.96 L461.06 246.38 L460.7 245.9 L460.63 245.81 L460.24 245.23 L459.87 244.65 L459.52 244.07 L459.19 243.49 L458.87 242.92 L458.57 242.34 L458.29 241.76 L458.03 241.18 L457.78 240.61 L457.55 240.03 L457.33 239.45 L457.12 238.87 L457 238.5 L456.93 238.29 L456.75 237.72 L456.57 237.14 L456.39 236.56 L456.23 235.98 L456.06 235.41 L455.91 234.83 L455.76 234.25 L455.62 233.67 L455.48 233.1 L455.35 232.52 L455.24 231.94 L455.12 231.36 L455.02 230.78 L454.93 230.21 L454.84 229.63 L454.8 229.3 L454.77 229.05 L454.7 228.47 L454.63 227.9 L454.56 227.32 L454.5 226.74 L454.44 226.16 L454.38 225.59 L454.33 225.01 L454.27 224.43 L454.22 223.85 L454.17 223.27 L454.12 222.7 L454.08 222.12 L454.04 221.54 L453.99 220.96 L453.95 220.39 L453.91 219.81 L453.88 219.23 L453.84 218.65 L453.8 218.08 L453.77 217.5 L453.74 216.92 L453.7 216.34 L453.7 216.3 L453.67 215.76 L453.64 215.19 L453.61 214.61 L453.58 214.03 L453.54 213.45 L453.51 212.88 L453.48 212.3 L453.46 211.72 L453.43 211.14 L453.4 210.57 L453.37 209.99 L453.35 209.41 L453.32 208.83 L453.3 208.25 L453.27 207.68 L453.25 207.1 L453.23 206.52 L453.21 205.94 L453.19 205.37 L453.17 204.79 L453.16 204.21 L453.14 203.63 L453.12 203.06 L453.11 202.48 L453.1 201.9 Z" fill="#E87468" stroke="#111" stroke-width="1.2" stroke-linejoin="round"/>
<path d="M452.4 286.6V287.6" stroke="#111" stroke-width="0.4"/>
<text x="453.81" y="289.67" font-size="3.5" text-anchor="end" fill="#000" stroke="#000" stroke-width="0.1" transform="rotate(-45 453.81 289.67)">GSE159677</text>
<text x="452.4" y="307" font-size="4" text-anchor="middle" fill="#000" stroke="#000" stroke-width="0.1">Identity</text>
<text x="573.1" y="195.7" font-size="4.7" text-anchor="middle" font-weight="bold" fill="#000" stroke="#000" stroke-width="0.12">percent_ribo</text>
<path d="M517.75 197.8 V286 H629" fill="none" stroke="#000" stroke-width="1.35" stroke-linejoin="miter"/>
<path d="M516.8 199.3H517.8" stroke="#111" stroke-width="0.55"/>
<text x="515.5" y="200.72" font-size="3.4" text-anchor="end" fill="#000" stroke="#000" stroke-width="0.1">60</text>
<path d="M516.8 228.3H517.8" stroke="#111" stroke-width="0.55"/>
<text x="515.5" y="229.72" font-size="3.4" text-anchor="end" fill="#000" stroke="#000" stroke-width="0.1">40</text>
<path d="M516.8 257.2H517.8" stroke="#111" stroke-width="0.55"/>
<text x="515.5" y="258.62" font-size="3.4" text-anchor="end" fill="#000" stroke="#000" stroke-width="0.1">20</text>
<path d="M573 201.9 L573 202.48 L573 203.06 L572.99 203.64 L572.98 204.22 L572.97 204.8 L572.96 205.37 L572.95 205.95 L572.93 206.53 L572.92 207.11 L572.9 207.69 L572.87 208.27 L572.85 208.85 L572.83 209.43 L572.8 210.01 L572.77 210.59 L572.74 211.17 L572.71 211.75 L572.68 212.32 L572.65 212.9 L572.61 213.48 L572.57 214.06 L572.55 214.4 L572.53 214.64 L572.47 215.22 L572.38 215.8 L572.28 216.38 L572.15 216.96 L572.01 217.54 L571.85 218.12 L571.68 218.69 L571.5 219.27 L571.31 219.85 L571.11 220.43 L570.91 221.01 L570.71 221.59 L570.51 222.17 L570.32 222.75 L570.3 222.8 L570.12 223.33 L569.92 223.91 L569.71 224.49 L569.49 225.07 L569.26 225.64 L569.03 226.22 L568.78 226.8 L568.52 227.38 L568.26 227.96 L567.98 228.54 L567.69 229.12 L567.39 229.7 L567.07 230.28 L566.74 230.86 L566.6 231.1 L566.4 231.44 L566.03 232.02 L565.64 232.59 L565.22 233.17 L564.78 233.75 L564.31 234.33 L563.81 234.91 L563.28 235.49 L562.73 236.07 L562.14 236.65 L561.52 237.23 L561.1 237.6 L560.86 237.81 L560.1 238.39 L559.25 238.96 L558.32 239.54 L557.33 240.12 L556.28 240.7 L555.21 241.28 L554.11 241.86 L553.02 242.44 L551.95 243.02 L551.8 243.1 L550.86 243.6 L549.72 244.18 L548.53 244.76 L547.31 245.34 L546.09 245.91 L544.88 246.49 L543.7 247.07 L542.57 247.65 L541.5 248.23 L540.7 248.7 L540.52 248.81 L539.57 249.39 L538.64 249.97 L537.73 250.55 L536.86 251.13 L536.05 251.71 L535.3 252.28 L534.64 252.86 L534.2 253.3 L534.06 253.44 L533.5 254.02 L532.94 254.6 L532.41 255.18 L531.95 255.76 L531.59 256.34 L531.36 256.92 L531.3 257.4 L531.3 257.5 L531.35 258.08 L531.46 258.66 L531.62 259.23 L531.83 259.81 L532.07 260.39 L532.34 260.97 L532.4 261.1 L532.7 261.55 L533.3 262.13 L534.08 262.71 L535.01 263.29 L536.03 263.87 L537.09 264.45 L538.14 265.03 L538.8 265.4 L539.16 265.61 L540.21 266.18 L541.33 266.76 L542.5 267.34 L543.7 267.92 L544.94 268.5 L546.18 269.08 L547.42 269.66 L548.64 270.24 L549.83 270.82 L550 270.9 L551.05 271.4 L552.36 271.98 L553.68 272.55 L554.95 273.13 L556.09 273.71 L557.02 274.29 L557.4 274.6 L557.68 274.87 L558.19 275.45 L558.62 276.03 L559.02 276.61 L559.43 277.19 L559.6 277.4 L559.88 277.77 L560.28 278.35 L560.69 278.93 L561.19 279.5 L561.84 280.08 L562 280.2 L562.75 280.66 L564.18 281.24 L566.53 281.82 L567.5 282 L573.1 282.4 L573.1 282.4 L578.7 282 L579.67 281.82 L582.02 281.24 L583.45 280.66 L584.2 280.2 L584.36 280.08 L585.01 279.5 L585.51 278.93 L585.92 278.35 L586.32 277.77 L586.6 277.4 L586.77 277.19 L587.18 276.61 L587.58 276.03 L588.01 275.45 L588.52 274.87 L588.8 274.6 L589.18 274.29 L590.11 273.71 L591.25 273.13 L592.52 272.55 L593.84 271.98 L595.15 271.4 L596.2 270.9 L596.37 270.82 L597.56 270.24 L598.78 269.66 L600.02 269.08 L601.26 268.5 L602.5 267.92 L603.7 267.34 L604.87 266.76 L605.99 266.18 L607.04 265.61 L607.4 265.4 L608.06 265.03 L609.11 264.45 L610.17 263.87 L611.19 263.29 L612.12 262.71 L612.9 262.13 L613.5 261.55 L613.8 261.1 L613.86 260.97 L614.13 260.39 L614.37 259.81 L614.58 259.23 L614.74 258.66 L614.85 258.08 L614.9 257.5 L614.9 257.4 L614.84 256.92 L614.61 256.34 L614.25 255.76 L613.79 255.18 L613.26 254.6 L612.7 254.02 L612.14 253.44 L612 253.3 L611.56 252.86 L610.9 252.28 L610.15 251.71 L609.34 251.13 L608.47 250.55 L607.56 249.97 L606.63 249.39 L605.68 248.81 L605.5 248.7 L604.7 248.23 L603.63 247.65 L602.5 247.07 L601.32 246.49 L600.11 245.91 L598.89 245.34 L597.67 244.76 L596.48 244.18 L595.34 243.6 L594.4 243.1 L594.25 243.02 L593.18 242.44 L592.09 241.86 L590.99 241.28 L589.92 240.7 L588.87 240.12 L587.88 239.54 L586.95 238.96 L586.1 238.39 L585.34 237.81 L585.1 237.6 L584.68 237.23 L584.06 236.65 L583.47 236.07 L582.92 235.49 L582.39 234.91 L581.89 234.33 L581.42 233.75 L580.98 233.17 L580.56 232.59 L580.17 232.02 L579.8 231.44 L579.6 231.1 L579.46 230.86 L579.13 230.28 L578.81 229.7 L578.51 229.12 L578.22 228.54 L577.94 227.96 L577.68 227.38 L577.42 226.8 L577.17 226.22 L576.94 225.64 L576.71 225.07 L576.49 224.49 L576.28 223.91 L576.08 223.33 L575.9 222.8 L575.88 222.75 L575.69 222.17 L575.49 221.59 L575.29 221.01 L575.09 220.43 L574.89 219.85 L574.7 219.27 L574.52 218.69 L574.35 218.12 L574.19 217.54 L574.05 216.96 L573.92 216.38 L573.82 215.8 L573.73 215.22 L573.67 214.64 L573.65 214.4 L573.63 214.06 L573.59 213.48 L573.55 212.9 L573.52 212.32 L573.49 211.75 L573.46 211.17 L573.43 210.59 L573.4 210.01 L573.37 209.43 L573.35 208.85 L573.33 208.27 L573.3 207.69 L573.28 207.11 L573.27 206.53 L573.25 205.95 L573.24 205.37 L573.23 204.8 L573.22 204.22 L573.21 203.64 L573.2 203.06 L573.2 202.48 L573.2 201.9 Z" fill="#E87468" stroke="#111" stroke-width="1.2" stroke-linejoin="round"/>
<path d="M573.1 286.6V287.6" stroke="#111" stroke-width="0.4"/>
<text x="574.51" y="289.67" font-size="3.5" text-anchor="end" fill="#000" stroke="#000" stroke-width="0.1" transform="rotate(-45 574.51 289.67)">GSE159677</text>
<text x="573.1" y="307" font-size="4" text-anchor="middle" fill="#000" stroke="#000" stroke-width="0.1">Identity</text>
<text x="698.6" y="195.7" font-size="4.7" text-anchor="middle" font-weight="bold" fill="#000" stroke="#000" stroke-width="0.12">percent_hb</text>
<path d="M643 197.8 V286 H755" fill="none" stroke="#000" stroke-width="1.35" stroke-linejoin="miter"/>
<path d="M642 202.4H643" stroke="#111" stroke-width="0.55"/>
<text x="640.7" y="203.82" font-size="3.4" text-anchor="end" fill="#000" stroke="#000" stroke-width="0.1">0.100</text>
<path d="M642 222.4H643" stroke="#111" stroke-width="0.55"/>
<text x="640.7" y="223.82" font-size="3.4" text-anchor="end" fill="#000" stroke="#000" stroke-width="0.1">0.075</text>
<path d="M642 242.2H643" stroke="#111" stroke-width="0.55"/>
<text x="640.7" y="243.62" font-size="3.4" text-anchor="end" fill="#000" stroke="#000" stroke-width="0.1">0.050</text>
<path d="M642 262H643" stroke="#111" stroke-width="0.55"/>
<text x="640.7" y="263.42" font-size="3.4" text-anchor="end" fill="#000" stroke="#000" stroke-width="0.1">0.025</text>
<path d="M642 282H643" stroke="#111" stroke-width="0.55"/>
<text x="640.7" y="283.42" font-size="3.4" text-anchor="end" fill="#000" stroke="#000" stroke-width="0.1">0.000</text>
<path d="M698.4 201.9 L698.4 202.48 L698.4 203.06 L698.4 203.64 L698.4 204.22 L698.4 204.8 L698.4 205.38 L698.4 205.96 L698.4 206.54 L698.4 207.13 L698.4 207.71 L698.4 208.29 L698.4 208.87 L698.4 209.45 L698.4 210.03 L698.4 210.61 L698.4 211.19 L698.4 211.77 L698.4 212.35 L698.4 212.93 L698.4 213.51 L698.4 214.09 L698.4 214.67 L698.4 215.25 L698.4 215.83 L698.4 216.41 L698.4 216.99 L698.4 217.58 L698.4 218.16 L698.4 218.74 L698.4 219.32 L698.4 219.9 L698.4 220.48 L698.4 221.06 L698.4 221.64 L698.4 222.22 L698.4 222.8 L698.4 223.38 L698.4 223.96 L698.4 224.54 L698.4 225.12 L698.4 225.7 L698.39 226.28 L698.39 226.86 L698.39 227.45 L698.39 228.03 L698.39 228.61 L698.39 229.19 L698.39 229.77 L698.39 230.35 L698.39 230.93 L698.39 231.51 L698.39 232.09 L698.39 232.67 L698.39 233.25 L698.39 233.83 L698.39 234.41 L698.39 234.99 L698.39 235.57 L698.39 236.15 L698.39 236.73 L698.39 237.32 L698.39 237.9 L698.39 238.48 L698.39 239.06 L698.39 239.64 L698.38 240.22 L698.38 240.8 L698.38 241.38 L698.38 241.96 L698.38 242.54 L698.38 243.12 L698.38 243.7 L698.38 244.28 L698.38 244.86 L698.38 245.44 L698.38 246.02 L698.38 246.6 L698.38 247.18 L698.38 247.77 L698.37 248.35 L698.37 248.93 L698.37 249.51 L698.37 250.09 L698.37 250.67 L698.37 251.25 L698.37 251.83 L698.37 252.41 L698.37 252.99 L698.37 253.57 L698.37 254.15 L698.36 254.73 L698.36 255.31 L698.36 255.89 L698.36 256.47 L698.36 257.05 L698.36 257.64 L698.36 258.22 L698.36 258.8 L698.36 259.38 L698.35 259.96 L698.35 260.54 L698.35 261.12 L698.35 261.7 L698.35 262 L698.35 262.28 L698.34 262.86 L698.33 263.44 L698.31 264.02 L698.28 264.6 L698.26 265.18 L698.23 265.76 L698.2 266.34 L698.16 266.92 L698.13 267.51 L698.1 268 L698.09 268.09 L698.05 268.67 L698 269.25 L697.94 269.83 L697.89 270.41 L697.83 270.99 L697.78 271.57 L697.75 272 L697.74 272.15 L697.7 272.73 L697.67 273.31 L697.65 273.89 L697.65 274 L697.67 274.47 L697.75 275.05 L697.85 275.63 L697.9 276 L697.93 276.21 L698.03 276.79 L698.14 277.37 L698.22 277.96 L698.25 278.5 L698.25 278.54 L698.24 279.12 L698.21 279.7 L698.15 280.28 L698.15 280.3 L696.49 280.86 L695.6 281 L684.6 281.4 L682.61 281.44 L656.6 281.8 L656.6 282.02 L656.6 282.3 L698.6 282.6 L698.6 282.6 L740.6 282.3 L740.6 282.02 L740.6 281.8 L714.59 281.44 L712.6 281.4 L701.6 281 L700.71 280.86 L699.05 280.3 L699.05 280.28 L698.99 279.7 L698.96 279.12 L698.95 278.54 L698.95 278.5 L698.98 277.96 L699.06 277.37 L699.17 276.79 L699.27 276.21 L699.3 276 L699.35 275.63 L699.45 275.05 L699.53 274.47 L699.55 274 L699.55 273.89 L699.53 273.31 L699.5 272.73 L699.46 272.15 L699.45 272 L699.42 271.57 L699.37 270.99 L699.31 270.41 L699.26 269.83 L699.2 269.25 L699.15 268.67 L699.11 268.09 L699.1 268 L699.07 267.51 L699.04 266.92 L699 266.34 L698.97 265.76 L698.94 265.18 L698.92 264.6 L698.89 264.02 L698.87 263.44 L698.86 262.86 L698.85 262.28 L698.85 262 L698.85 261.7 L698.85 261.12 L698.85 260.54 L698.85 259.96 L698.84 259.38 L698.84 258.8 L698.84 258.22 L698.84 257.64 L698.84 257.05 L698.84 256.47 L698.84 255.89 L698.84 255.31 L698.84 254.73 L698.83 254.15 L698.83 253.57 L698.83 252.99 L698.83 252.41 L698.83 251.83 L698.83 251.25 L698.83 250.67 L698.83 250.09 L698.83 249.51 L698.83 248.93 L698.83 248.35 L698.82 247.77 L698.82 247.18 L698.82 246.6 L698.82 246.02 L698.82 245.44 L698.82 244.86 L698.82 244.28 L698.82 243.7 L698.82 243.12 L698.82 242.54 L698.82 241.96 L698.82 241.38 L698.82 240.8 L698.82 240.22 L698.81 239.64 L698.81 239.06 L698.81 238.48 L698.81 237.9 L698.81 237.32 L698.81 236.73 L698.81 236.15 L698.81 235.57 L698.81 234.99 L698.81 234.41 L698.81 233.83 L698.81 233.25 L698.81 232.67 L698.81 232.09 L698.81 231.51 L698.81 230.93 L698.81 230.35 L698.81 229.77 L698.81 229.19 L698.81 228.61 L698.81 228.03 L698.81 227.45 L698.81 226.86 L698.81 226.28 L698.8 225.7 L698.8 225.12 L698.8 224.54 L698.8 223.96 L698.8 223.38 L698.8 222.8 L698.8 222.22 L698.8 221.64 L698.8 221.06 L698.8 220.48 L698.8 219.9 L698.8 219.32 L698.8 218.74 L698.8 218.16 L698.8 217.58 L698.8 216.99 L698.8 216.41 L698.8 215.83 L698.8 215.25 L698.8 214.67 L698.8 214.09 L698.8 213.51 L698.8 212.93 L698.8 212.35 L698.8 211.77 L698.8 211.19 L698.8 210.61 L698.8 210.03 L698.8 209.45 L698.8 208.87 L698.8 208.29 L698.8 207.71 L698.8 207.13 L698.8 206.54 L698.8 205.96 L698.8 205.38 L698.8 204.8 L698.8 204.22 L698.8 203.64 L698.8 203.06 L698.8 202.48 L698.8 201.9 Z" fill="#E87468" stroke="#111" stroke-width="1.05" stroke-linejoin="round"/>
<path d="M698.6 286.6V287.6" stroke="#111" stroke-width="0.4"/>
<text x="700.01" y="289.67" font-size="3.5" text-anchor="end" fill="#000" stroke="#000" stroke-width="0.1" transform="rotate(-45 700.01 289.67)">GSE159677</text>
<text x="698.6" y="307" font-size="4" text-anchor="middle" fill="#000" stroke="#000" stroke-width="0.1">Identity</text>
<text x="354.9" y="351.5" font-size="8.9" text-anchor="middle" font-weight="bold" fill="#111" stroke="#000" stroke-width="0.12">0.78</text>
<path d="M217.55 357 V553.6 H493.5" fill="none" stroke="#000" stroke-width="1.35" stroke-linejoin="miter"/>
<path d="M215 552.8H217.2" stroke="#111" stroke-width="0.7"/>
<text x="213.8" y="555.2" font-size="6.8" text-anchor="end" fill="#000">0</text>
<path d="M215 501.1H217.2" stroke="#111" stroke-width="0.7"/>
<text x="213.8" y="503.5" font-size="6.8" text-anchor="end" fill="#000">2000</text>
<path d="M215 449.4H217.2" stroke="#111" stroke-width="0.7"/>
<text x="213.8" y="451.8" font-size="6.8" text-anchor="end" fill="#000">4000</text>
<path d="M215 397.7H217.2" stroke="#111" stroke-width="0.7"/>
<text x="213.8" y="400.1" font-size="6.8" text-anchor="end" fill="#000">6000</text>
<path d="M228.7 553.6V555.9" stroke="#111" stroke-width="0.7"/>
<text x="228.7" y="562.6" font-size="6.8" text-anchor="middle" fill="#000">0e+00</text>
<path d="M328.2 553.6V555.9" stroke="#111" stroke-width="0.7"/>
<text x="328.2" y="562.6" font-size="6.8" text-anchor="middle" fill="#000">5e+04</text>
<path d="M427.7 553.6V555.9" stroke="#111" stroke-width="0.7"/>
<text x="427.7" y="562.6" font-size="6.8" text-anchor="middle" fill="#000">1e+05</text>
<text x="354.7" y="572.2" font-size="8" text-anchor="middle" fill="#000">nCount_RNA</text>
<text x="194.8" y="455.2" font-size="8" text-anchor="middle" fill="#222" transform="rotate(-90 194.8 455.2)">nFeature_RNA</text>
<text x="500.8" y="452.3" font-size="8" text-anchor="start" fill="#000">Identity</text>
<circle cx="504.7" cy="461.6" r="0.75" fill="#E87468"/>
<text x="513.3" y="464" font-size="6.8" text-anchor="start" fill="#000">GSE159677</text>
<path d="M229.1 544.74 L230.38 534.49 L232.09 523.8 L234.44 509.91 L237.65 494.96 L240.85 482.14 L245.13 469.32 L250.47 457.14 L255.81 446.45 L261.15 437.91 L266.71 430.43 L270.98 427.65 L277.39 428.93 L282.09 439.4 L280.38 449.44 L275.68 457.99 L269.49 467.82 L263.08 478.5 L256.67 489.19 L250.26 502.01 L244.91 514.83 L239.79 529.15 L236.79 538.76 L235.3 544.74 Z" fill="#E87468" stroke="#E87468" stroke-width="1" stroke-linejoin="round"/>
<path d="M242.76 491.92h0M243.87 487.72h0M239.47 487.02h0M290.28 423.95h0M239.89 487.97h0M252.01 457.68h0M238.08 502.74h0M250.2 464.25h0M237.58 512.51h0M237.03 515.81h0M269.92 423.53h0M260.11 449.99h0M276.73 422.73h0M240.6 498.63h0M240.25 483.25h0M239.74 503.48h0M260.96 444.54h0M239.65 512.2h0M244.12 470.48h0M247.48 466.84h0M260.43 447.7h0M240.64 494.65h0M243.91 508.44h0M239.05 491.53h0M245.28 478.55h0M232.3 544.5h0M235.96 544.15h0M253.11 462.11h0M249.97 458.91h0M254.42 449.34h0M237.04 511.77h0M235.44 544.81h0M240.18 488.9h0M245.42 486.63h0M295.61 417.35h0M243.32 529.79h0M240.22 507.73h0M240.87 523.33h0M254.6 486.55h0M240.11 504.43h0M239.75 504.67h0M244.63 499.93h0M276.32 422.56h0M256 445.81h0M240.45 501.75h0M248.37 467.17h0M252.88 483.07h0M252.06 459.36h0M247.99 511.38h0M239.76 494.23h0M233.03 532.97h0M271.76 432.75h0M242.88 482.13h0M248.75 462.84h0M246.89 520.94h0M256.68 474.13h0M258.28 460.15h0M251.85 459.9h0M268.19 430.76h0M267.57 464.19h0M241.82 476.96h0M239.5 486.4h0M246.61 476.27h0M247.98 468.06h0M263.19 442.89h0M247.06 500.53h0M252.08 473.68h0M241.44 479.73h0M252.33 479.68h0M237.41 507.58h0M247.96 499.15h0M242.47 479.64h0M236.77 509.46h0M237.14 495.78h0M243.49 506.19h0M289.78 409.09h0M273.44 425.46h0M237.87 494.47h0M255.39 463.47h0M299.86 398.85h0M254.61 447.45h0M233.48 544.34h0M269.08 437.35h0M234.56 510.44h0M237.59 493.93h0M239.51 508.36h0M260.48 517.84h0M235.03 544.83h0M263.3 436.54h0M267.01 468.29h0M246.32 482.62h0M242.39 486h0M256.78 483.54h0M242.71 521.97h0M242.18 483.02h0M259.63 474.82h0M276.71 422.95h0M258.04 479.92h0M245.75 471.28h0M236.64 542.5h0M239.97 487.45h0M239.34 496.34h0M240.58 485.22h0M243.76 489.85h0M237.53 525.16h0M246.8 486.88h0M243.2 537.15h0M271.72 470.31h0M241.58 502.69h0M265.9 434.47h0M256.21 482.98h0M236.78 503.45h0M247.88 464.71h0M234.56 527.01h0M240.57 534.62h0M246.5 463.55h0M262.72 442.17h0M252.06 494.82h0M268.41 450.15h0M233.31 530.9h0M239.9 505.96h0M237.77 500.62h0M233.98 544.7h0M253.09 450.68h0M239.24 530.32h0M245.19 491.3h0M238.9 505.43h0M263.34 480.2h0M242.54 523.34h0M242.03 502.43h0M237.87 533.56h0M239.46 494.57h0M297.77 394.21h0M237.24 500.74h0M241.77 491.33h0M246.5 464.66h0M256.25 490.31h0M260.15 446.21h0M239.94 500.91h0M249.21 484.53h0M232.19 518.35h0M243.92 519.32h0M237.08 507.8h0M300.6 388.97h0M234.44 544.9h0M239.97 498.77h0M236.38 506.18h0M232 531.58h0M242.35 477.74h0M255.05 452.22h0M239.51 524.89h0M273.22 427.78h0M269.08 454.47h0M249.87 475.73h0M251.16 461.01h0M253.65 478.36h0M281.04 449.91h0M256.81 468.36h0M257.36 461.31h0M244.04 482.5h0M233.97 527.96h0M256.71 465.72h0M240.83 500.8h0M244.74 483.35h0M233.55 542.29h0M245.08 484.8h0M250 499.52h0M246.87 490.54h0M256.95 483.51h0M237.48 501.83h0M256.23 451.21h0M238.93 491.63h0M235.58 505.08h0M249.58 474.3h0M238.43 510.62h0M237.66 502.34h0M236.77 543.13h0M234.87 519.18h0M238.98 489.42h0M243.52 471.8h0M249.11 480.18h0M263.82 432.7h0M244.03 484.64h0M239.64 499.11h0M234.45 516.7h0M277.65 415.97h0M272.09 433.26h0M315.38 377.6h0M238.53 500.9h0M306.72 391.69h0M247.28 473.77h0M241.12 528.75h0M263.37 446.6h0M263.77 476.12h0M295.12 396.41h0M236.05 507.16h0M267.14 432.93h0M261.79 436.29h0M249.84 501.04h0M240.87 482.41h0M272.52 431.94h0M254.83 449.19h0M240.76 510.23h0M247.14 499.95h0M241.62 481.25h0M232.85 544.54h0M245.76 481.17h0M258.93 476.25h0M246.57 487.23h0M281.41 405.76h0M239.95 518.26h0M238.76 511.12h0M251.97 478.34h0M265.97 458.04h0M248.61 469.19h0M239.4 531.63h0M239.81 491.44h0M238.64 514.73h0M237.12 544.84h0M250.15 473.37h0M238.89 491.49h0M245.74 467.63h0M269.98 439.15h0M234.43 544.32h0M293.32 404.47h0M285.17 402.8h0M251.47 462.78h0M269.06 469.81h0M234.2 518.04h0M247.06 488.72h0M247.33 498.96h0M234.83 526.05h0M271.74 428.34h0M243.9 477.79h0M233.86 544.64h0M240.88 522.51h0M252.76 453.83h0M239.85 529.26h0M247.8 489.22h0M260 437.05h0M254.37 451.98h0M242.93 496.29h0M255.03 484.13h0M241.65 477.49h0M243.2 515h0M260.62 461.08h0M258.01 468.15h0M238.42 489.15h0M236.51 505.78h0M246.25 466.09h0M266.51 447.1h0M242.63 508.04h0M247.05 480.85h0M264.03 443.44h0M245.52 490.74h0M254.47 453.31h0M246.72 476.82h0M258.5 444.53h0M265.82 451.36h0M247.64 494.64h0M291.61 421.44h0M254.49 468.51h0M235.24 503.88h0M252.58 495.54h0M240.71 486.61h0M248.14 469.69h0M271.98 437.75h0M280.87 426.35h0M253.8 470.44h0M329.12 372.94h0M263.92 486.21h0M275.59 425.45h0M269.36 438.24h0M243.06 478.93h0M256.97 463.25h0M248.7 484.67h0M260.43 468.43h0M249.94 468.97h0M259.48 483.47h0M239.8 483.41h0M248.8 505.62h0M243.43 476.13h0M236.83 506.18h0M234.37 537.1h0M255.79 458.34h0M247.5 482.25h0M233.85 520.28h0M247.04 468.37h0M233.83 530.48h0M250 460.11h0M245.96 469.83h0M240.4 500.75h0M268.49 499.28h0M244.33 505.25h0M250.78 506.37h0M237.39 502.17h0M285.29 414.59h0M238.78 505.26h0M242.28 485.46h0M241.24 504.73h0M262.67 501.19h0M245.43 513.11h0M252.24 460.95h0M250.02 479.69h0M247.96 486.4h0M232.09 522.87h0M251.67 469.46h0M243.13 484.27h0M238.06 514.33h0M232.22 540.67h0M251.72 457.12h0M293.52 413.39h0M234.01 540.77h0M243.17 483.11h0M243.58 473.09h0M247.37 479.82h0M237.39 493.47h0M246.39 467.77h0M240.55 482.66h0M252.25 454.17h0M310.9 399.75h0M244.47 476.94h0M253.74 454.32h0M243.02 510.35h0M230.95 544.59h0M257.67 476.75h0M242.69 480.6h0M244 496.11h0M269.15 471.01h0M236.36 505.2h0M250.33 467.67h0M241.23 493.99h0M282.2 410.18h0M239.51 495.42h0M241.6 491.08h0M251.34 458.99h0M249.4 461.02h0M237.9 493.27h0M233.86 527.63h0M234.99 533.54h0M245.32 491.34h0M238.64 542.73h0M239.24 496.77h0M248.09 505.12h0M244.36 516.36h0M250.56 499.42h0M240.2 520.25h0M243.7 484.96h0M243.38 517.61h0M246.59 466.41h0M250.8 467.59h0M235.56 521.22h0M245.93 499.12h0M247.79 462.27h0M256.33 461.88h0M249.89 505.67h0M246.12 480.26h0M250.38 471.18h0M267.78 448.3h0M267.84 430.72h0M246.74 480.14h0M249.85 460.47h0M232.92 520.14h0M246.51 477.58h0M244.62 469.67h0M238.91 498.54h0M237.36 498.63h0M249.45 461.04h0M282.06 414.86h0M259.1 458.4h0M264.51 434.85h0M231.7 524.64h0M238.59 501.9h0M248.12 472.17h0M260.88 440.56h0M252.66 453.07h0M232.21 544.21h0M238.39 517.42h0M280.52 425.23h0M249.75 465.81h0M247.22 465.81h0M256.1 449.18h0M238.34 504.13h0M246.62 467.55h0M240.4 523.01h0M238.6 511.04h0M242.03 498.66h0M262.14 446.53h0M251.89 459.14h0M241.06 489.19h0M252.61 474.19h0M242.5 511.7h0M237.6 495.86h0M239.66 507.32h0M233.73 531.41h0M252.23 482.88h0M250.42 471.57h0M289.21 424.17h0M247.88 470.63h0M239.51 492.85h0M240.67 515.94h0M242.69 495.98h0M269.14 447.17h0M257.76 446.79h0M238.21 490.93h0M241.73 508.17h0M245.61 475.67h0M236.03 499.59h0M256.87 491.66h0M240.89 507.48h0M260.15 460.06h0M255.95 451.85h0M241.43 484.86h0M233.91 521.54h0M246.38 469.68h0M237.55 523.87h0M233.57 513.83h0M260.77 464.82h0M244.29 487.6h0M260.18 465.75h0M243.07 481.25h0M259.03 458.48h0M245.5 485.54h0M254.82 475.56h0M249.75 471h0M239.04 522.25h0M241.73 476.04h0M248.13 474.42h0M248.74 474.21h0M274.71 443.18h0M244.08 516.11h0M239.68 493.43h0M236.77 500.84h0M277.06 413.79h0M275.6 416.65h0M252.17 490.46h0M255.38 484.31h0M241.26 491.4h0M236.56 503.92h0M249.39 506.06h0M236.61 540.79h0M285.75 432.26h0M283.49 441.73h0M241.91 487.76h0M252.26 464.27h0M271.54 420.31h0M252.97 493.89h0M240.85 480.18h0M246.01 470.79h0M268.22 442.73h0M241.51 513.73h0M267.53 463.63h0M237.25 498.28h0M243.67 476h0M239.19 509.01h0M244.17 486.92h0M233.44 544.14h0M243.15 489.69h0M239.58 523.86h0M241.4 493.79h0M240.93 479.12h0M255.15 450.22h0M253.92 480.41h0M250.3 461.49h0M235.43 543.79h0M235.43 544.05h0M234.71 524.87h0M253.58 463.99h0M246.7 467.01h0M239.59 533.53h0M256.19 488.17h0M262.99 444.78h0M252.67 456.97h0M234.22 524.15h0M250.38 474.57h0M240.79 517.56h0M237.01 518.1h0M234.71 531.61h0M259.56 456.27h0M268.12 436.36h0M253 460.56h0M232.74 520.27h0M239.04 487.56h0M231.77 527.11h0M244.88 467.59h0M246.63 488.17h0M243.02 543.18h0M254.66 446.75h0M234.75 520.1h0M255.2 465.86h0M243.77 487.45h0M242.98 475.19h0M327.37 366.08h0M253.74 457.19h0M247.14 498.8h0M260.96 441.48h0M248.08 469.11h0M247.81 461.9h0M244.71 479.87h0M247.92 466.31h0M244.44 516.76h0M236.55 516.91h0M239.14 502.93h0M247.44 504.12h0M255.77 454.81h0M233.69 522.19h0M242.95 484.5h0M248.24 463.55h0M242.36 495.66h0M238.5 528.22h0M244.01 486.6h0M240.66 487.14h0M241.74 497.83h0M240.17 484.86h0M242.01 486.74h0M245.21 498.89h0M242.22 495.45h0M285.21 410.35h0M298.82 407.6h0M248.09 466.27h0M242.93 534.93h0M240.69 486.06h0M240.66 480.4h0M247.01 480.06h0M241.26 511.01h0M245.21 472.31h0M247.89 484.24h0M248.73 462.07h0M290.8 419.15h0M243.15 477.47h0M249.24 493.02h0M262.13 452.82h0M240.94 509.58h0M242.08 514.38h0M251.43 480.14h0M237.19 502.92h0M265.17 450.88h0M244.41 513.84h0M247.7 470.58h0M251.37 474.29h0M281.56 429.87h0M244.41 472.83h0M238.76 533.79h0M269.83 473.41h0M245.26 488.76h0M257.59 448.81h0M252.49 455.06h0M246.92 476.71h0M242.31 480.07h0M267.41 475.61h0M236.08 499.05h0M236.4 510.39h0M244.25 477.7h0M246.96 495.26h0M268.18 433.06h0M239.04 514.86h0M234.37 520.88h0M251.98 470.95h0M288.6 432.16h0M271.6 425.03h0M251.6 459.07h0M246.36 508.49h0M250.55 472.91h0M243.22 524.03h0M250.29 499.81h0M261.9 479.41h0M231.69 522.91h0M238.48 527.79h0M255.52 490.37h0M262.67 471.45h0M239.98 528.72h0M262.22 448.93h0M239.38 523.15h0M236.03 507.08h0M233.14 538.06h0M243.26 510.91h0M266.95 447.81h0M257.08 452.8h0M275.09 433.28h0M271.42 418.01h0M232.51 527.74h0M241.93 495.33h0M257.75 452.14h0M280.77 428.23h0M259.24 443.8h0M239.59 487.75h0M239.19 509.78h0M282.48 411.86h0M258.33 467.94h0M236.22 519.64h0M242.91 486.06h0M239.35 513.5h0M243.34 508.47h0M241.24 482.24h0M245.25 468.28h0M231.27 526.78h0M233.96 519.92h0M241.18 505.86h0M254.21 467.63h0M277.08 460.49h0M259.69 451.24h0M248 481.96h0M243.34 504.77h0M257.18 454.63h0M257.21 444.19h0M315.96 382.62h0M242.22 497.16h0M240.34 494.58h0M259.76 476.42h0M250.04 468.45h0M253.68 454.83h0M236.22 506.01h0M232.34 534.76h0M247.43 480.28h0M246.78 483.04h0M249.83 466.73h0M235.57 524.72h0M256.67 448.27h0M241.77 511.99h0M252.78 456.16h0M273.89 447.79h0M264.78 436.93h0M242.83 493.73h0M263.07 440.73h0M261.73 510h0M256.25 463.19h0M240.08 488.42h0M242.29 488.8h0M236.71 523.13h0M262.07 435.67h0M237.25 505.7h0M250.68 466.12h0M234.49 514.9h0M252.27 481.56h0M235.4 515.82h0M236.23 507.04h0M287.58 446.08h0M278.96 425.25h0M235.31 544.09h0M241.62 478.43h0M236.7 506.37h0M273.78 428.61h0M248 487.81h0M263.72 440.06h0M245.02 513.31h0M243.05 493.73h0M260.04 453.77h0M254.59 488.04h0M300.48 409.3h0M259.37 480.71h0M241.23 489.81h0M255.58 455.14h0M265.92 473.31h0M247.37 489.72h0M292.21 401.41h0M271.12 438.21h0M235.39 535.63h0M242.92 476.32h0M240.77 484.92h0M255.66 466.65h0M242.73 489.75h0M239.89 508.2h0M234.39 517.45h0M241.42 479.65h0M267.26 444.29h0M252.3 460.8h0M234.25 541.05h0M273.31 427.04h0M238.79 491.28h0M241.61 475.81h0M240.65 503.76h0M243.18 486.14h0M258.61 446.52h0M243.93 472.78h0M239.62 496.57h0M241.9 522.07h0M238.12 523.96h0M281.93 422.91h0M237.94 523.07h0M245.23 474.23h0M246.15 479.18h0M234.98 540.02h0M238.34 495.14h0M232.37 518.7h0M245.19 468.97h0M270.91 437.81h0M278.85 420.5h0M241.31 488.18h0M243.73 487h0M249.91 480.88h0M238.97 496.02h0M236.08 503.38h0M241.04 495.12h0M297.05 413.73h0M254.56 456.52h0M258.41 489.06h0M281.4 411.88h0M251.09 490.73h0M244.89 485.57h0M264.48 433.65h0M239.06 522.12h0M261.6 465.16h0M238.94 511.03h0M237.46 495.8h0M289.36 400.8h0M246.23 472.31h0M282.16 424.54h0M232.33 529.76h0M249.08 487.18h0M242.16 480.87h0M235.64 530.68h0M240.68 496.08h0M241.99 479.78h0M257.56 450.51h0M241.15 498.71h0M254.51 470.11h0M234.4 535.63h0M256.56 472.95h0M239.32 502.33h0M240.61 497.07h0M240.02 488.64h0M260.99 458.2h0M239.38 531.3h0M258.15 442.22h0M249.3 466.99h0M245.64 486.33h0M238.89 488.85h0M236.6 495.11h0M239.83 491.92h0M242.36 525.04h0M244.24 471.85h0M244.83 477.22h0M260.1 449.66h0M234.87 508.65h0M236.45 518.48h0M232.25 521.61h0M238.5 535.31h0M240 525.48h0M239.18 518.55h0M240.77 493.29h0M261.64 436.14h0M238.27 537.32h0M248.26 495.11h0M233.43 538.23h0M242.64 479.87h0M242.15 518.73h0M281.71 445.78h0M235.78 521.34h0M258.63 496.74h0M261.14 451.57h0M245.26 510.38h0M242.68 482.9h0M256.72 444.72h0M238.01 500.82h0M238.5 523.88h0M231.83 536.22h0M268.47 454.48h0M251.55 477.82h0M251.95 469.79h0M256.64 454.88h0M258.94 444.19h0M278.07 428.43h0M241.39 501.81h0M254.07 466.28h0M230.85 544.2h0M281.7 416.37h0M243.03 474.97h0M247.14 477.68h0M277.65 440.65h0M236.44 541.32h0M270.81 430.82h0M281.14 432.87h0M236.59 498.92h0M242.31 480.9h0M238.53 499.04h0M245.87 507.5h0M236.25 504.19h0M243.74 477.93h0M244.13 504.86h0M255.76 459.89h0M244.71 484.09h0M234.94 541.46h0M285.35 424.12h0M240.75 501.24h0M241.02 519.01h0M241.49 502.73h0M242.69 492.68h0M240.81 501.37h0M255.9 446.78h0M276.09 424.98h0M271.72 439.7h0M266.01 460.92h0M249.95 458.22h0M244.5 489.21h0M239.98 528.42h0M234.69 525.84h0M268.55 428.61h0M241.77 544.68h0M282.61 418.26h0M264.32 432.5h0M257.05 474.03h0M294.44 440.7h0M236.17 506.33h0M269.21 431.35h0M273.73 437.89h0M242.05 508.3h0M254.25 485.31h0M253.6 460.03h0M278.03 465.01h0M230.49 535.07h0M233.62 527.61h0M253.43 451.2h0M246.11 512.3h0M235.19 510.02h0M240.41 500.47h0M242.95 504.97h0M256.64 465.4h0M253.53 481.3h0M283.65 434.57h0M257.67 445.48h0M245.43 479.79h0M266.39 441.94h0M235.26 543.43h0M238.4 495.81h0M253.84 498.53h0M254.55 460.02h0M248.06 482.15h0M262.15 487.1h0M239.5 510.31h0M261.15 454.01h0M256.27 479.76h0M273.47 418.89h0M255.25 459.36h0M250.87 488.3h0M232.15 523.73h0M235.33 525.16h0M248.9 458.43h0M244.61 492.88h0M258.18 456.84h0M236.61 513.45h0M244.72 505.57h0M237.34 499.64h0M240.03 519.6h0M238.73 510.52h0M244.91 489.42h0M250.68 472.37h0M243.16 515.11h0M254.09 446.3h0M244.15 490.84h0M242.48 523.56h0M255.05 461.02h0M235.71 508.83h0M246.14 486.19h0M245.98 476.43h0M259.62 469.09h0M291.91 409.75h0M254.37 473.78h0M277.02 450.79h0M252.54 451.58h0M236.54 544.23h0M279.09 441.1h0M237.28 500.82h0M247.15 464.61h0M246.75 470.29h0M234.44 544.09h0M246.98 465.88h0M265.43 452.69h0M245.12 483.56h0M253.95 454.85h0M260.16 438.07h0M243.84 516.87h0M257.09 478.71h0M259.43 457.56h0M244.55 487.07h0M238.98 533.18h0M233.46 541.5h0M243.87 500.39h0M242.03 492.5h0M244.23 471.86h0M259.99 462.27h0M250.21 479.71h0M237.15 495.65h0M238.8 495.89h0M239.71 505.19h0M237.38 521.25h0M258.1 473.38h0M243.65 471.56h0M248.34 481.28h0M234.47 513.53h0M245.63 471.97h0M242.38 479.82h0M279.06 417.16h0M264.26 441.89h0M242.3 515.87h0M233.53 516.84h0M261.61 450.96h0M244.33 479.75h0M244.22 501.29h0M263.21 448.19h0M234.81 506.72h0M234.68 530.1h0M247.87 462.21h0M237.64 499.46h0M248.64 477.61h0M257.19 458.97h0M250.56 457.88h0M231.79 527.41h0M240.56 500.67h0M243.47 478.36h0M249.82 459.09h0M241.43 489.12h0M254.13 459.8h0M274.99 424.13h0M245.5 503.61h0M235.53 532.48h0M270.12 435.3h0M285.86 414.63h0M253.13 470.16h0M245.46 487.17h0M255.45 464.3h0M246.03 488.23h0M231.99 537.72h0M231.76 544.2h0M242.99 507.32h0M246.85 472.65h0M239.55 496.14h0M248.07 477.76h0M262.21 437.23h0M247.65 489.52h0M253.94 458.46h0M246.17 469.02h0M251.05 473.49h0M237.61 491.74h0M246.32 479.81h0M288.98 405.2h0M258.51 479.17h0M242.85 519.06h0M246.01 470.86h0M256.13 455.5h0M258.09 448.18h0M255.49 475.81h0M238.38 530.47h0M259.26 462.8h0M249.95 461.67h0M257.89 452.98h0M252.62 482.68h0M255.8 459.14h0M244.7 478.96h0M242.77 488.62h0M278.32 407.92h0M259.66 443.09h0M236.41 508.29h0M237.63 504.12h0M264.6 435.52h0M236.63 502.53h0M246.05 471.21h0M238.6 493.52h0M244.43 492.24h0M253.19 490.34h0M269.9 446.66h0M254.53 457.48h0M244.87 471.18h0M250.18 488.87h0M246.98 491.48h0M235.61 536.04h0M232.6 528.28h0M272.98 438.86h0M237.92 508.29h0M250.78 470.64h0M271.94 443.84h0M249.87 466.86h0M242.65 487.92h0M261.47 470.33h0M241.37 523.33h0M240.06 502.56h0M239.05 509.01h0M261.5 462.33h0M235.23 516.94h0M250.42 458.33h0M293.95 408.75h0M247.78 468.78h0M255.06 477.7h0M270.24 438.23h0M237.63 542.32h0M244.61 497.02h0M234.11 533.45h0M239.53 517.88h0M274.02 434.59h0M234.76 512.15h0M249.14 463.88h0M253.95 451.98h0M239.32 519.64h0M239.03 487.43h0M251.44 460.33h0M249.52 466.53h0M244.52 512.43h0M249.09 493.96h0M295.62 421.13h0M249.4 460.49h0M240.36 516.03h0M244.84 519.47h0M252.29 476.97h0M231.99 520.33h0M271.27 441h0M239.64 542.69h0M264.77 442.18h0M256.21 452.44h0M244.47 479.03h0M267.56 431.61h0M238.4 524.01h0M246.79 507.24h0M257.35 464.52h0M271.45 449.94h0M237.71 505.42h0M241.32 498.31h0M261.31 440.43h0M300.6 410.94h0M240.18 487.73h0M238.1 496.11h0M245.56 478.42h0M285.78 416.29h0M241.49 501.61h0M286.67 436.99h0M244.34 494.26h0M246.79 474.42h0M245.98 511.72h0M243.89 475.68h0M252.16 454.58h0M240.43 533.1h0M293.33 405.97h0M236.31 522.8h0M244.44 512.41h0M239.34 517.22h0M243.72 493.19h0M244.03 486.4h0M251.29 452.29h0M246.37 510.37h0M238.45 536.1h0M233.12 533.23h0M262.28 462.51h0M242.68 481.73h0M235.05 507.19h0M239.95 486.25h0M263.83 460.2h0M252.78 470.07h0M256.22 484.61h0M235.14 544.3h0M241.95 503.07h0M265.2 483.07h0M234.06 510.99h0M232.4 518.85h0M238.31 489.02h0M270.51 434.77h0M253.68 453.74h0M238.02 495.84h0M238.56 510.07h0M235.22 529.66h0M236.37 501.87h0M260.27 453.36h0M240.95 486.79h0M237.67 499.48h0M285.77 453.85h0M242.94 511.65h0M253.05 458.5h0M246.51 477.22h0M251.85 458.67h0M247.34 482.81h0M238.96 520.9h0M267.05 443.31h0M236.99 526.73h0M265.81 452.71h0M287.88 403.02h0M237.73 497.92h0M247.6 489.22h0M254.36 530.83h0M271.62 442.47h0M261.28 472.42h0M254.22 468.11h0M248.72 460.16h0M244.91 498.84h0M252.45 461.45h0M236.37 517.74h0M266.86 428.59h0M255.42 482.66h0M242.08 480.36h0M275.11 426.14h0M253.78 464.02h0M238.62 533.89h0M240.97 523.18h0M247.39 502.64h0M256.58 445.77h0M237.13 512.77h0M242.44 503.41h0M256.16 457.86h0M239.93 514.68h0M258.74 451.31h0M245.6 478.37h0M257.4 468.3h0M245.64 467.35h0M281.33 410.7h0M244.54 509.88h0M238.81 500.99h0M240.98 483.24h0M239.44 503.53h0M251.59 466.73h0M239 503.58h0M237.67 494.49h0M239.62 505.42h0M239.56 492.54h0M245.77 515.28h0M234.64 525.73h0M253.94 468.97h0M239.1 497.45h0M238.85 488.32h0M256.34 443.62h0M270.06 422.85h0M240.8 524.81h0M250.63 486.73h0M250.26 467.09h0M243.45 508.09h0M257.06 462.15h0M242.46 493.79h0M258.95 440.07h0M250.61 488.77h0M241.29 490.58h0M239.04 505.33h0M251.22 483.77h0M236.56 506.39h0M238.4 530.68h0M232.87 543.67h0M242.74 494.8h0M241.98 483.13h0M237.44 544.09h0M263.58 468.55h0M241.32 485.53h0M325.87 384.28h0M242.96 498.29h0M259.78 456.16h0M264.42 436.05h0M264.13 451.32h0M258.38 473.47h0M248.02 501.98h0M260.06 477.58h0M254.99 447.86h0M253.44 479.88h0M252.94 483.04h0M259.65 480.17h0M266.82 459.38h0M245.19 479.4h0M261.39 485.26h0M234.38 509.21h0M272.49 422.97h0M310.57 407.27h0M240.5 503.56h0M247.47 468.88h0M236.13 507.29h0M245.58 486.12h0M265.52 435.51h0M236.05 526.28h0M261.53 463.45h0M242.3 522.46h0M250.3 536.56h0M237.27 537.5h0M238.27 495.31h0M232.37 537.47h0M240.09 502.05h0M250.5 471.14h0M254.16 496.65h0M262.87 483.24h0M239.08 541.66h0M291.89 397.81h0M248.53 461.09h0M238.29 497.88h0M238.76 534.22h0M259.41 441h0M243.95 470.85h0M238.64 502.74h0M240.59 500.55h0M235.24 520.46h0M237.86 493.47h0M243.76 473.46h0M244.87 477.1h0M245 520.22h0M236.16 523.31h0M230.96 544.83h0M237.32 495.67h0M235.62 524.36h0M240.28 481.88h0M231.74 533.7h0M263.65 437.04h0M247.5 498.96h0M252.21 465.03h0M251.06 472.36h0M236.36 537.9h0M235.34 508.95h0M319.28 421.82h0M247.06 482.73h0M275.61 418.47h0M239.86 485.12h0M245.12 510.91h0M257.96 470.47h0M232.83 544.62h0M248.19 462.77h0M264.86 438.84h0M250.14 465.34h0M239.35 497.95h0M248.3 497.28h0M258.99 454.15h0M235.64 503.11h0M243.77 473.62h0M241.32 490.88h0M309.22 387.05h0M245.52 513.28h0M248.12 475.13h0M255.28 461.95h0M254.87 446.74h0M230.76 544.8h0M244.06 493.23h0M238.65 502.23h0M237.35 492.99h0M237.08 532.79h0M251.18 458.36h0M249.06 481.43h0M251.05 469.83h0M243.44 523.2h0M264.73 527.74h0M255.08 456.62h0M256 479.09h0M236.49 507.27h0M243.8 478.61h0M236.04 501.34h0M241.27 494.87h0M267.12 434.81h0M245.93 489.69h0M242.58 481.77h0M255.64 472.69h0M248.41 461.23h0M251.31 482.52h0M240.19 515.9h0M232.12 521.03h0M288.13 426.78h0M271.64 426.78h0M262.3 452.97h0M238.32 532.59h0M248.82 480.2h0M241.3 495.07h0M245.9 501.36h0M242.84 503.21h0M236.33 544.58h0M236.37 500.61h0M234.12 517.06h0M236.68 535.11h0M247.34 467.53h0M234.16 515.97h0M237.51 494.89h0M257.81 485.07h0M249.12 472.35h0M278.28 422.99h0M280.25 414.88h0M263.17 435.97h0M233 537.85h0M248.98 468.9h0M243.65 520.29h0M240.76 494.96h0M246.84 472.5h0M250.86 474.61h0M233.23 519.52h0M264.04 435.07h0M294.09 414.41h0M258.48 461.95h0M283.64 441.4h0M237.96 491.12h0M235.72 503.36h0M253.75 454.66h0M254.27 470.74h0M248.98 466.44h0M233.42 544.38h0M255.23 452.08h0M234.37 544.45h0M238.97 492.54h0M258.72 483.15h0M267.95 448.62h0M257.31 451.91h0M256.88 464.95h0M240.99 483.12h0M234.14 523.51h0M252.22 461.98h0M251.97 465.93h0M247.43 476.61h0M236.28 534.1h0M250.86 479.32h0M257.46 463.8h0M239.72 499.52h0M256.08 459.51h0M239.26 490.81h0M235.42 499.8h0M266.93 441.31h0M235.32 544.67h0M243 506.65h0M264.22 438.07h0M250.47 468.22h0M234.14 512.05h0M252.24 457.15h0M253.26 488.02h0M242.24 520.11h0M243.1 513.92h0M248.57 483.05h0M239.06 496.25h0M247.32 466.89h0M238.95 500.81h0M243.97 488.77h0M240.51 522.11h0M230.73 544.49h0M236.96 500.93h0M244.67 508.56h0M245.06 473.37h0M234.71 515.8h0M241.16 489.3h0M232.58 535.6h0M253.53 473.09h0M240.6 487.84h0M242.85 473.25h0M233.19 544.14h0M254.25 455.41h0M248.05 476.42h0M262.04 438.08h0M235.53 504.05h0M246.04 487.73h0M257.06 455.07h0M257.73 445.59h0M242.15 482.96h0M280.53 419.77h0M262.66 444.91h0M235.95 509.18h0M257.15 493.16h0M279.64 443.76h0M238.97 497.3h0M252.51 471.41h0M266.46 455.68h0M317.86 420.89h0M234.9 521.98h0M245.11 508.97h0M245.81 485.08h0M260.54 439.38h0M242.52 493.96h0M248.22 463.56h0M263.58 438.64h0M254.94 468.23h0M243.88 501.53h0M257.64 457.94h0M244.57 481.29h0M254.72 460.66h0M294.29 403.86h0M270.55 447.57h0M245.16 499.92h0M250.34 468.92h0M308.38 394.72h0M244.35 485.24h0M288.85 406.39h0M238.77 539.01h0M254.49 461.95h0M235.86 510.89h0M280.33 412.44h0M235.85 503.83h0M269.47 424.68h0M240.78 488.18h0M253.82 477.01h0M253.21 452.31h0M241.28 499.72h0M238.48 496.81h0M235.7 510.64h0M292.26 450.33h0M232.77 541.91h0M291.46 415.61h0M240.13 528.23h0M266.21 452.22h0M235.07 539.15h0M232.23 518.47h0M260.63 478.32h0M234.23 511.3h0M251.87 479.62h0M253 450.3h0M262.68 444.64h0M245.44 485.54h0M302.52 396.54h0M240.91 510.46h0M252.16 507.78h0M247.5 486.66h0M276.73 426.79h0M248.64 484.01h0M241.68 501.2h0M237.75 534.73h0M242.71 481.49h0M239.08 486h0M243.1 478.46h0M251.73 469.62h0M233.4 525.49h0M238.54 505.73h0M260.98 459.46h0M247.39 464.17h0M239.18 505.92h0M237.68 508.59h0M247.25 496.17h0M238.54 513.67h0M256.35 458.33h0M234.17 535.1h0M244.09 477.42h0M238.53 492.06h0M237.43 503.58h0M235.7 531.52h0M241.62 501.28h0M255.31 447.74h0M248.81 513.81h0M239.65 509.93h0M240.23 525.96h0M239.98 485.79h0M266.2 456.68h0M259.07 461.93h0M241.62 517.44h0M235.23 524.6h0M252.09 479.08h0M265.71 451.34h0M254.38 482.56h0M234.07 515.58h0M239.86 532.91h0M235.97 542.55h0M243.99 519.12h0M234.96 515.21h0M264.51 453.19h0M249.31 466.66h0M251.95 456.33h0M253.2 470.12h0M247.62 493.74h0M242.9 475.82h0M305.6 393.46h0M255.6 447.54h0M254.02 452.28h0M310.19 398.97h0M261.66 472.28h0M241.64 488.33h0M242.81 517.25h0M256.67 466.07h0M240.3 483.5h0M270.08 465.67h0M274.15 423.67h0M252.07 464.31h0M254.37 455.42h0M237.69 505.12h0M277.5 412.95h0M248.67 476.74h0M283.7 431.43h0M257.43 478.35h0M272.95 440.21h0M240.65 482.97h0M261.34 438.05h0M241.16 494.02h0M263.92 437.6h0M247.1 479.03h0M237.72 525.64h0M232.86 544.67h0M235.2 532.98h0M262.85 442.61h0M236.48 531.8h0M241.27 495.93h0M264.03 454.62h0M235.15 504.73h0M287.95 429.32h0M243.2 488.24h0M258 458.83h0M258.73 447.36h0M259.68 470.05h0M244.9 476.48h0M236.62 521.4h0M257.67 496.43h0M257.25 471.71h0M240.43 494.86h0M269.89 426.06h0M249.16 459.22h0M254.62 460.87h0M259.82 480.42h0M242.41 493.21h0M248.61 488.51h0M240.31 511.51h0M247.7 486.84h0M250.8 496.81h0M257 457.86h0M250.31 454.51h0M250.82 455.5h0M256.93 479.34h0M245.26 505.12h0M259.14 470.06h0M244.66 476.26h0M261.38 438.14h0M241.21 504.72h0M240.86 483.34h0M242.57 490.76h0M242.51 502.8h0M258.9 461.55h0M253.57 475.26h0M258.44 450.86h0M251.06 473.1h0M243.33 514.49h0M242.68 481.29h0M300.07 409.25h0M247.5 462.05h0M237.11 495.36h0M260.8 453.16h0M245.65 509.6h0M236.27 506.43h0M258.93 459.54h0M234.11 524.61h0M279.05 439.08h0M253.61 464.47h0M246.21 511.2h0M232.16 524.71h0M255.42 458.78h0M246.24 500.27h0M248.14 510.58h0M239.92 509.34h0M244.15 496.13h0M267.36 434.64h0M264.98 432.69h0M285.14 409.76h0M236.72 512.94h0M238.24 516.84h0M249.37 492.49h0M251.22 501.49h0M251.58 453.72h0M260.78 443.86h0M238.78 521.8h0M240.8 493.57h0M253.78 471.33h0M252.04 458.3h0M233.07 544.52h0M254.41 463.27h0M241.41 517.66h0M244.42 485.45h0M237.62 518.17h0M236.18 514.87h0M240.44 495.42h0M242.96 512.2h0M236.85 503.98h0M246.33 494.35h0M277.87 430.38h0M246.4 476.5h0M255.65 475.88h0M240.12 510.56h0M295.71 396.05h0M245.36 502.3h0M281.33 412.27h0M239.41 506.38h0M241.75 481.58h0M237.38 506.89h0M243.05 508.26h0M265.44 438.16h0M244.09 499.46h0M240.69 506.72h0M255.25 453.82h0M272.9 432.63h0M269.79 434.01h0M239.92 520.44h0M254.85 448.57h0M257.57 451.7h0M261.82 444.69h0M269.37 451.73h0M238.84 496.35h0M239.55 520.05h0M308.68 387.06h0M250.56 458.59h0M258.88 450.45h0M249.23 475.07h0M233.54 513.16h0M243.68 523h0M254.76 455.04h0M246.03 488.33h0M256.22 459.51h0M249.84 469.4h0M240.13 500.93h0M245.33 469.21h0M317.04 390.98h0M248.48 496.81h0M248.14 464.87h0M242.72 484.55h0M238.69 527.94h0M260.93 456.03h0M244.97 489.3h0M249.88 498.05h0M278.97 428.28h0M284.96 443.65h0M258.9 466.27h0M235.52 510.72h0M239.12 507.66h0M238.52 491.82h0M234.95 521.83h0M272.91 418.18h0M300.21 406.33h0M261.85 451.52h0M248.96 460.21h0M255.21 480.3h0M240.84 492.78h0M260.8 455.01h0M239.44 502.82h0M249.27 467.17h0M243.01 496.66h0M257.8 457.41h0M238.6 521.99h0M254.8 456.9h0M242.09 482.27h0M269.43 430.11h0M258.16 452.31h0M259.31 486.96h0M235.5 509.29h0M235.47 513.78h0M242.02 489.22h0M240.13 489.49h0M234.71 507.44h0M238.84 519.05h0M236.89 527.64h0M251.56 467.17h0M247.6 472.52h0M245.54 494.57h0M251.82 454.22h0M248.86 482.38h0M271.56 448.04h0M262.97 443.1h0M294.59 428.75h0M254.21 480.1h0M275.1 422.78h0M240.31 510.21h0M266.09 437.13h0M236.92 505.83h0M257.39 474.98h0M241.81 484.03h0M311.75 378.46h0M250.82 490.37h0M241.41 486.06h0M283.93 429.53h0M247.71 462.34h0M251.66 472.79h0M259.22 468.89h0M231.06 544.89h0M264.46 452.19h0M234.83 514.62h0M277.19 419.4h0M269.08 463.55h0M267.59 450.77h0M259.01 474.38h0M243.85 525.17h0M245.11 497.85h0M256.65 478.47h0M232.77 517.87h0M243.36 492.29h0M235.37 534.12h0M252.6 461.61h0M256.19 452.93h0M250.38 463.31h0M243.79 495.22h0M239.67 494.39h0M239.11 490.83h0M254.81 455.14h0M247.63 478.08h0M252.51 479.85h0M241.68 510.26h0M261.23 473h0M234.87 529.35h0M256.23 471.25h0M247.27 480.27h0M236.3 506.83h0M241 507.26h0M235.83 513.74h0M233.86 514.07h0M274.91 476.61h0M271.8 423.84h0M234.4 520.3h0M253.63 449.14h0M263.73 447.8h0M247.64 484.85h0M233.91 525.33h0M236.48 513.75h0M259.47 440.66h0M254.47 455.11h0M245.03 488.66h0M253.18 457.52h0M263.63 443.87h0M261.5 480.91h0M239.13 485.99h0M248.23 459.72h0M266.57 441.93h0M248.39 468.24h0M240.5 501.83h0M238.77 495.36h0M244.63 488.84h0M285.11 462.63h0M248.56 477.93h0M255 447.92h0M250.79 454.49h0M248.28 463.99h0M235.22 516.63h0M247.85 485.3h0M236.64 517.69h0M240.61 516.72h0M243.68 496.39h0M238.9 512.46h0M262.97 482.25h0M266.24 459.52h0M245.35 476.63h0M248.84 480.02h0M244.74 513.93h0M238.92 498.63h0M242.29 502.96h0M247.76 479.34h0M252.91 476.16h0M271.46 439.82h0M234.89 523.82h0M260.94 436.11h0M248.78 471.97h0M253.66 478.57h0M241.36 483.95h0M241 499.59h0M248.41 468.8h0M247.01 464.1h0M242.48 482.55h0M259.57 464.35h0M251.43 453.63h0M243.44 480.46h0M236.06 513.03h0M269.06 425.5h0M237.51 511.91h0M249.91 489.75h0M249.38 461.26h0M240.44 482.26h0M244.65 495.99h0M248.14 471.13h0M257.55 479.24h0M242.55 510.57h0M243.8 480.89h0M248.41 478.72h0M244.87 479.94h0M248.69 491.43h0M241.67 480.07h0M237.87 536.47h0M244.4 488.13h0M237.81 508.07h0M279.85 426.92h0M294.51 416.98h0M293.17 410.65h0M250.49 498.27h0M246.84 465.61h0M245.97 497.41h0M240.78 485.8h0M240.7 531.29h0M273.52 431.04h0M242.19 475.63h0M237.64 536.51h0M248.6 478.07h0M244.21 494.59h0M290.67 419.59h0M242.64 494.01h0M255.66 448.79h0M251.33 473.33h0M272.34 468.33h0M248.68 463.3h0M246.78 504.55h0M243.54 476.34h0M244.42 480.45h0M286.86 413.55h0M247.11 502.36h0M239.26 496.25h0M243.13 484.85h0M271.67 436.34h0M237.15 506.14h0M257.54 442.91h0M245.07 477.67h0M250.17 456.79h0M244.14 488.06h0M267.07 449.6h0M238.93 501.35h0M236.39 504.93h0M258.16 458.9h0M254.6 462.37h0M238.61 497.18h0M241.81 495.02h0M252.04 467.26h0M247.21 520.03h0M234.73 518.84h0M240.04 492.88h0M241.69 515.8h0M234.25 540.28h0M258.43 499.47h0M231.15 526.04h0M246.59 484.53h0M240.38 514.88h0M265.31 434.64h0M260.91 446.56h0M240.61 479.41h0M238.6 497.15h0M239.95 502.27h0M262.12 434.71h0M237.03 539.35h0M278.14 426.7h0M256.13 445.16h0M246.49 489.87h0M241.17 478.37h0M275.12 433.52h0M300.07 390.2h0M234.87 523.23h0M258.97 471.34h0M236.59 510.77h0M262.67 458.06h0M244.4 490.31h0M233.99 520.17h0M244.65 508.26h0M239.33 493.47h0M262.11 433.82h0M239.22 538.29h0M270.97 440.07h0M275.36 445.47h0M255.95 460.5h0M263.79 454.67h0M235.45 513.7h0M259.01 440.14h0M237.73 522.27h0M243.13 475.06h0M244.93 483.22h0M246.63 470.8h0M246.8 478.33h0M239.33 493.02h0M279.88 454.22h0M236.69 519.91h0M255.51 479.13h0M249.7 492.38h0M304.52 397.49h0M242.83 487.9h0M240.27 498.09h0M254.66 489.34h0M263.35 438.91h0M253.93 458.99h0M244.46 493.96h0M235.6 526.46h0M237.34 539.55h0M261.65 441.8h0M240.22 497.64h0M287.15 431.78h0M304.54 385.37h0M237.02 499.9h0M255.03 454.06h0M249.12 475.95h0M252.35 489.56h0M243.75 510.98h0M243.52 482.96h0M255.27 481.77h0M256.06 468.61h0M247.43 495.02h0M242.02 518.56h0M257.38 446.64h0M255.15 496.44h0M252.48 488.24h0M232.28 520.27h0M248.73 490.29h0M237.01 508.8h0M250.55 482.18h0M256.65 455.2h0M265.4 452.61h0M246.54 474.96h0M256.42 449.05h0M253.32 467.18h0M286.69 422.09h0M247.41 468.59h0M243.68 478.39h0M236.16 508.87h0M263.59 440.53h0M242.87 484.75h0M247.33 475.14h0M237 517.16h0M249.01 502.46h0M246 504.61h0M264.95 436.95h0M253.33 461.14h0M268.03 428.55h0M239.46 517.7h0M241.9 503.58h0M250.79 461.81h0M261.75 466.73h0M268.98 427.7h0M239.79 522.4h0M241.26 507.2h0M246.41 488.27h0M255.3 457.59h0M238.65 510.73h0M243.2 487.2h0M265.67 438.4h0M247.92 478.31h0M238.95 520.08h0M240.17 490.38h0M258.19 473.02h0M260.17 457.19h0M259.53 488.95h0M242.65 523.23h0M268.68 436.63h0M239.89 496.63h0M245.77 471.43h0M242.96 505.26h0M246.48 493.48h0M242.99 509.09h0M249.45 505.17h0M241.24 486.16h0M235.62 506.26h0M242.6 496h0M281.48 417.5h0M242.2 498.53h0M240.51 530.32h0M240.07 484.61h0M244.49 468.93h0M244.68 469.81h0M250.87 472.67h0M240.97 481.5h0M239.92 486.24h0M249.9 464.11h0M293.06 410.2h0M238.6 520.06h0M240.95 505.83h0M245.41 535.34h0M256.17 478.98h0M241.54 521.49h0M238.13 538.92h0M259.43 458.22h0M243.14 491.1h0M272.64 424.79h0M289.43 413.21h0M257.92 461.65h0M244.72 469.63h0M239.76 484.4h0M305.26 400.12h0M239.9 519.25h0M238.76 501.03h0M254.94 446.77h0M255.63 472.52h0M236.92 528.84h0M240.89 518.26h0M265.15 443.47h0M241.36 528.79h0M257.18 459.83h0M242.59 506.3h0M268.56 428.48h0M234.77 544.18h0M241.01 519.92h0M285.01 424.68h0M251.09 457.87h0M245.91 480.8h0M243.62 478.21h0M258.18 461.1h0M242.96 480.04h0M237.52 542.82h0M235.51 511.19h0M276.63 447.89h0M279.74 411h0M242.12 516.47h0M249.62 456.76h0M235.11 544.82h0M239.79 530.07h0M242.78 477.62h0M236.75 522.5h0M246.22 468.25h0M236.65 497.05h0M241.78 482.95h0M249.05 466.57h0M286.27 456.09h0M241.15 500.28h0M246.53 475.53h0M244.95 511.09h0M245.62 477.07h0M249.36 490.2h0M234.26 544.57h0M251.35 490.99h0M231.15 544.39h0M253.22 483.34h0M269.33 432.65h0M254.02 468.3h0M250.29 457.01h0M237.67 493.13h0M237.43 496.55h0M237.71 496.13h0M237.33 535.5h0M265.02 441.89h0M255.74 493.35h0M260.83 461.17h0M234.99 534.5h0M248.94 477.27h0M260.31 452.26h0M238.59 492.29h0M258.91 441.87h0M247.19 484.84h0M238 495.29h0M248.01 461.47h0M255.99 445.78h0M246.18 506.72h0M256.58 446.91h0M242.87 490.8h0M239.46 510.6h0M297.86 405.74h0M256.44 487.85h0M284.96 420.33h0M242.78 493.86h0M249.56 470.72h0M247.48 489.91h0M252.44 467.57h0M284.36 415.11h0M284.34 453.65h0M248.53 460h0M237.61 494.03h0M260.22 513.97h0M266.82 467.41h0M251.31 464.65h0M234.87 520.55h0M256.26 478.33h0M250.34 456.63h0M240.67 505.91h0M257.88 470.03h0M239.61 493.93h0M252.34 479.16h0M283.86 403.12h0M246.25 466.72h0M234.71 512.95h0M247.9 463.95h0M249.73 463.42h0M252.49 483.83h0M255.01 449.69h0M250.47 466.06h0M244.73 493.93h0M235.18 520.2h0M244.62 491.97h0M252.28 470.52h0M243.72 483.38h0M233.8 509.08h0M247.49 520h0M256.17 454.01h0M244.54 474.93h0M260.46 465.15h0M291.28 403.14h0M237.95 491.76h0M246.7 468.36h0M253.9 474.38h0M240.73 484.35h0M239.55 485.38h0M242.73 491.86h0M240.59 525.85h0M242.64 492.32h0M239.57 506.99h0M251.01 481.36h0M240.96 504.47h0M260.13 465.28h0M237.54 509.58h0M247.31 482.38h0M243.88 522.33h0M242.71 508.86h0M257.18 443.42h0M250.51 489.04h0M232.93 544.25h0M248.22 462.88h0M248.87 474.12h0M279.89 411.21h0M250.4 490.74h0M238.16 511.45h0M288.14 415.12h0M251.67 469.72h0M237.05 543.37h0M256.55 452.77h0M255.96 453.5h0M232.83 544.17h0M248.47 482.95h0M257.67 496.48h0M277.61 423.12h0M297.77 406.1h0M296.1 421.02h0M234.92 544.71h0M249.23 467.13h0M254.28 449.61h0M244.72 472.46h0M257.84 476.92h0M289.07 413.1h0M244.77 495.31h0M242.42 496.49h0M252.07 458.18h0M263.07 461.04h0M275.72 420.28h0M294.12 400.77h0M245.83 535.48h0M246.35 477.36h0M243.43 485.02h0M241.67 483.49h0M250.68 455.99h0M266.48 444.35h0M249.28 466.77h0M245.89 473.57h0M318.16 408.52h0M251.98 490.68h0M245.11 473.17h0M271.24 431.96h0M238.99 537.5h0M235.7 521.51h0M239.28 491.7h0M253.84 451.54h0M236.05 507.83h0M233.81 514.85h0M239.6 505.1h0M233.34 526.53h0M248.87 502.17h0M250.16 470.48h0M239.61 484.48h0M297.28 401.71h0M240.2 510.48h0M249.4 479.61h0M250.82 464.54h0M236.63 532.97h0M244.13 475.53h0M240.31 500.04h0M241.52 496.06h0M258.44 452.13h0M265.16 433.58h0M257.25 453.18h0M248.67 480.6h0M239.64 528.3h0M259.09 455.11h0M259.89 470.15h0M257.99 472.56h0M272.06 422.38h0M266.45 472.95h0M251.04 467.76h0M242.8 476.15h0M255.08 452.4h0M251.9 473.6h0M236.61 518.02h0M243.67 490.23h0M237.81 529.07h0M257.17 441.27h0M249.01 490.32h0M241.98 494.1h0M237.11 544.52h0M241.82 486.16h0M247.78 469.18h0M287.6 426.54h0M249.02 458.95h0M263.54 470.11h0M306.96 389.17h0M255.65 503.85h0M243.55 473.47h0M240.32 531.43h0M250.27 477.15h0M241.85 490.73h0M242.8 483.13h0M255.77 481.8h0M236.91 517.1h0M253.24 462.9h0M245.09 477.89h0M283.35 413.09h0M239.74 484.34h0M246.72 479.83h0M271 432.29h0M267.13 442.29h0M243.04 481.84h0M247.89 470.76h0M254.98 494.02h0M250.58 463.74h0M249.01 473.72h0M232.77 544.37h0M237.23 500.29h0M232.88 522.78h0M236.53 537.2h0M243.75 517.12h0M250.17 463.24h0M262.99 454.3h0M272.6 450.16h0M255.91 487.44h0M253.85 454.28h0M240.79 486.1h0M242.47 503.43h0M257.06 443.81h0M238.21 512.54h0M263.14 454.28h0M259.79 440.12h0M238.47 506.79h0M243 489.75h0M244.21 473.69h0M252.82 470.26h0M245.22 516.25h0M242.21 507.96h0M267.47 453.29h0M248.84 494.49h0M247.61 495.31h0M249.04 462.42h0M248.64 476.9h0M270.77 429.91h0M270.78 418.79h0M252.15 473.73h0M239.04 510.11h0M263.9 439.49h0M237.81 509.49h0M271.77 436.16h0M257.39 459.14h0M258.19 471.46h0M253.97 455.08h0M238.12 511h0M244.36 478.23h0M249.49 516.64h0M284.44 426.14h0M254.68 455.9h0M236.03 505.16h0M234.89 516.53h0M250.12 494.36h0M239.74 517.06h0M244.84 480.73h0M237.75 506.25h0M265.12 441.3h0M233.96 533.42h0M244.28 541.84h0M256.72 447.39h0M245.68 475.8h0M239.24 503.31h0M240.18 502.7h0M235.43 502.92h0M240.73 504.52h0M238.42 535.6h0M261.78 440.41h0M237.12 505.19h0M242.51 526.94h0M247.39 483.81h0M272.98 458.35h0M286.28 409.66h0M244.22 487.26h0M261.03 444.52h0M247.59 472.51h0M253.14 489.47h0M235.39 531.04h0M249.15 473.63h0M243.41 481.06h0M261.35 438.95h0M242.48 499.7h0M276.33 438.82h0M234.96 519.76h0M275.7 452.05h0M232.81 530.16h0M279.84 440.39h0M278.37 421.65h0M238.8 511.43h0M252.07 496.58h0M250.19 468.16h0M242.25 487.09h0M240.19 507.87h0M242.01 505.44h0M262.25 441.36h0M236.35 499.23h0M247.44 466.84h0M285.67 430.8h0M252.24 453.46h0M239.73 520.32h0M244.32 470.77h0M235.86 501.2h0M258.79 469.61h0M236.06 514.24h0M252.36 453.97h0M244.06 507.61h0M237.08 510.89h0M240.68 507.56h0M244.66 468.97h0M242.59 521.8h0M275.25 432.12h0M255.72 480.25h0M268.75 457.15h0M238.8 529.91h0M245.34 507.74h0M278.87 423.74h0M239.57 506.51h0M241.63 512.44h0M296.16 420.41h0M239.64 494.95h0M239.43 534.71h0M248.49 496.36h0M239.61 496.09h0M251.95 461.49h0M255.75 464.54h0M256.54 475.75h0M243.75 511.18h0M238.89 497.74h0M241.79 481.85h0M240.6 527.02h0M285.85 413.83h0M253.91 456.44h0M250.1 493.26h0M241.54 478.59h0M235.5 518.18h0M254.89 461.97h0M241.97 511.49h0M272.74 436.91h0M247.38 488.45h0M236.27 498.88h0M255.5 447.08h0M245.68 473.59h0M247.32 467.54h0M236.34 544.54h0M238.73 516.56h0M237.85 499h0M236.43 515.12h0M244.7 486.16h0M249.31 488.89h0M231.27 527.14h0M247.55 499.41h0M246.29 498.01h0M268.7 426.47h0M245.82 499.4h0M279.84 422.56h0M239.91 494.18h0M245.47 471.21h0M242.88 491.35h0M245.99 495.5h0M238.15 502.14h0M244.18 485.01h0M242.86 494.67h0M237.73 491.93h0M242.33 489.14h0M243.89 474.78h0M246.52 525.27h0M252.89 453.99h0M241.06 486.22h0M245.73 496.76h0M239.2 516.04h0M260.91 478.38h0M243.42 493.88h0M266.7 432.98h0M242.19 500.32h0M251.6 468.9h0M250.11 495.37h0M245.24 477.82h0M315.84 396.71h0M241.38 484.11h0M252.94 483.38h0M235.82 507.77h0M237.54 517.19h0M244.95 468.17h0M231.04 532.19h0M238.9 490.71h0M257.32 469.65h0M237.06 507.95h0M238.89 509.4h0M272.93 421.14h0M232.98 526.54h0M272.69 433.56h0M272.25 423.71h0M242.28 480.65h0M242.27 475.62h0M237.63 504.55h0M243.87 469.57h0M243.92 494.81h0M255.06 495.86h0M243.36 479.59h0M239.2 502.09h0M254.64 458.49h0M245.05 491.14h0M248.96 487.31h0M246.98 472.35h0M236.48 519.69h0M250.16 500.81h0M247.45 487.66h0M254.7 456h0M249.09 461.57h0M241.87 489.26h0M254.65 459.05h0M238.8 535.39h0M252.04 464.26h0M261.19 485.94h0M250.45 461.17h0M234.46 516.46h0M238.79 523.96h0M238.29 506.32h0M259.53 460.29h0M258.15 441.54h0M247.21 495.73h0M233.95 545.02h0M247.77 459.89h0M245.54 490.72h0M267.77 429.11h0M248.92 502.14h0M258.39 488.99h0M243.4 509.66h0M242.62 491.73h0M239.4 496.18h0M239.41 498.82h0M267.15 466.66h0M263.32 458.77h0M245.61 470.7h0M241.23 486.19h0M237.53 499.19h0M251.03 496.31h0M258.32 458.73h0M236.66 495.87h0M263.82 456.94h0M236.86 519.28h0M244.98 478.88h0M274.74 426.96h0M245.32 487.9h0M242.05 477.02h0M266.52 475.63h0M240.46 484.79h0M244.43 471.61h0M238.09 492.52h0M257.14 447.98h0M241.44 500.77h0M286.41 412.12h0M248.04 471.63h0M236.81 543.33h0M277.85 420.82h0M251.15 466.64h0M259.84 474.96h0M249.6 456.04h0M253.65 484.3h0M299.25 410h0M235.76 506.46h0M263.66 434.08h0M233.01 517.56h0M243.56 514.83h0M249.99 477.34h0M234.47 506.66h0M262.87 458.77h0M243.63 472.87h0M237.41 500.64h0M239 524.59h0M246.82 487.18h0M247.08 490.91h0M250.76 492.11h0M247.26 470.88h0M251.27 477.54h0M242.96 510.96h0M269.17 439.23h0M237.47 525.15h0M303.77 407.05h0M233.95 509.85h0M237.63 519.98h0M243.32 482.9h0M266.84 459.07h0M242.49 488.88h0M270.92 431.31h0M262.76 479.33h0M306.28 417.62h0M287.48 447.88h0M242.77 486.93h0M237.74 517.73h0M241.46 520.56h0M244.31 498.23h0M256.72 497.08h0M270.17 422.77h0M242.27 500.96h0M248.18 474.97h0M241.55 496.83h0M239.07 503.43h0M245.96 479.9h0M249.64 476.25h0M247.16 489.2h0M238.97 532.14h0M288.1 398.42h0M235.78 538.53h0M246.82 492.05h0M240.24 508.6h0M243 486.89h0M233.13 531.49h0M235.42 526.52h0M243.68 514.84h0M248.09 464.94h0M245 493.49h0M238.04 491.73h0M233.03 515.2h0M247.86 500.8h0M264.19 471.42h0M234.4 544.62h0M256.48 445.9h0M251.69 471.85h0M270.95 450.17h0M237.56 531.01h0M236.45 503.25h0M253.53 473.82h0M243.68 500.1h0M252.32 479.36h0M246.59 486.35h0M292.52 402.82h0M257.03 443.8h0M248.31 475.08h0M236.44 510.8h0M233.73 526.99h0M244.88 477.01h0M240.64 490.62h0M244.8 482.95h0M239.46 508.1h0M238.8 505.98h0M292.63 401.41h0M234.05 529.13h0M247.22 467.47h0M243.27 486.12h0M253.68 452.99h0M264.25 450.5h0M246.05 464.5h0M244.66 491.11h0M237.93 497.4h0M273.74 438.75h0M240.85 478.11h0M253.71 457.99h0M241.06 495.01h0M233.37 516.32h0M240.98 512.41h0M234.07 510.4h0M238.67 531.47h0M268.3 440.3h0M254.46 452.45h0M236.54 527.61h0M242.23 518.19h0M235.78 516.38h0M250.05 461.85h0M270.64 425.22h0M253.57 451.29h0M250.12 457.03h0M268.23 466.12h0M248.23 464.46h0M235.08 519.93h0M239.54 502.19h0M232.58 544.23h0M274.14 428.99h0M268.57 468.63h0M254 452.47h0M245.64 470.86h0M236.6 505.23h0M274.51 471.07h0M239.66 514.19h0M256.6 452.08h0M239.75 501.98h0M243.36 483.42h0M255.67 473.52h0M298.29 407.66h0M238.45 495.43h0M234.26 544.11h0M238.64 501.08h0M233.24 541.43h0M246.88 470.06h0M246.61 479.21h0M239.63 496.2h0M239.55 519.2h0M235.16 513.25h0M244.14 523.54h0M241.83 483.49h0M257.83 527.74h0M249.99 481.4h0M249.48 467.65h0M248.61 468.26h0M238.72 506.12h0M237.44 498.21h0M241.57 492.23h0M265.83 435.85h0M240.22 486.34h0M247.16 463.72h0M249.58 458.59h0M242.55 477.93h0M305.43 404.88h0M250.57 480.92h0M269.35 433.93h0M233.59 516.05h0M232.64 519.64h0M241.58 520.94h0M260.45 439.52h0M285.81 430.1h0M233.93 544.31h0M236.36 506.79h0M241.69 479.78h0M241.46 504.1h0M278.19 411.46h0M239.31 532.34h0M246.85 495.68h0M273.01 444.66h0M267.79 519.47h0M240.14 499.05h0M246.56 488.11h0M252.11 479.76h0M235.31 510.88h0M247.73 469.65h0M242.13 490.98h0M263.14 456.37h0M253.78 486.93h0M258.05 485.51h0M289.71 408.66h0M275.34 429.03h0M240.31 500.66h0M245.08 476.85h0M235.49 507.02h0M250.51 465.14h0M249.74 495.03h0M252.96 508.73h0M319.72 413.88h0M246.1 466.74h0M243.83 496.86h0M233.09 544.9h0M242.87 515.82h0M237.56 515.24h0M245.15 475.27h0M240.16 491.34h0M253.42 482.59h0M237.21 528.29h0M250.07 462.86h0M251.06 454.35h0M238.62 495.75h0M319.06 415.6h0M254.94 453.51h0M254.39 481.34h0M232.4 531.11h0M242.64 492.18h0M242.46 507.09h0M249.86 465.2h0M241.61 509.22h0M238.53 516.84h0M240.46 489.03h0M243.05 495.91h0M265.47 442.1h0M243.02 480.24h0M238.94 503.44h0M244.28 475.32h0M240.94 524.12h0M296.23 401.14h0M253.89 452.94h0M241.95 513.05h0M255.48 454.26h0M251.3 455.33h0M251.89 478.25h0M251.79 466.69h0M247.38 512.23h0M237.65 505.24h0M236.71 500.81h0M268.89 440.77h0M240.42 487.53h0M240.81 484.57h0M237.58 514.39h0M259.37 465.1h0M263.65 453.5h0M235.92 509.4h0M242.77 481.17h0M242.06 476.29h0M249.13 478.59h0M250.2 470.72h0M248.29 469.07h0M245.54 472.67h0M241.99 482.19h0M273.16 421.19h0M238.28 503.88h0M245.83 470.46h0M250.04 495.59h0M250.79 489h0M236.05 540.7h0M236.17 504.67h0M274.21 420.26h0M300.14 396.1h0M261.36 460.13h0M244.83 518.45h0M307.71 428.53h0M249.76 474.48h0M266.24 447.2h0M238.79 504.44h0M247.5 496.89h0M252.32 478.3h0M243.17 525.66h0M258.72 465.68h0M274.51 439.09h0M282.88 410.35h0M238.56 510.19h0M246.49 512.74h0M296.54 400.92h0M246.11 477.32h0M248.34 468.97h0M237.35 504.4h0M235.9 540.37h0M282.86 406.69h0M252.6 496.51h0M237.73 511.54h0M278.97 409.6h0M252.16 522.04h0M243.91 497.88h0M262.58 445.17h0M236.69 518.93h0M243.97 486.79h0M239.52 502.46h0M321.21 377.78h0M253.63 499.98h0M247.04 466.27h0M235.26 511.73h0M241.35 482.49h0M242.41 512.92h0M237.02 502.96h0M238.98 493.75h0M291.17 405.18h0M238.13 502.23h0M259.25 471.78h0M273.82 430.98h0M245.52 475.83h0M272.49 423.59h0M242.78 489.83h0M268.11 442.28h0M240.11 488.27h0M282.02 423.86h0M238.41 492.3h0M242.45 497h0M249.47 492.29h0M246.21 504.49h0M234.88 533h0M251.15 500.4h0M243.78 480.34h0M259.95 457.94h0M249.84 458.45h0M250.74 460.14h0M242.16 515.21h0M247.95 511.42h0M241.06 518.19h0M245.13 506.17h0M244.39 491.63h0M242.57 519.69h0M242.08 484.59h0M262.34 468.04h0M253.21 452.01h0M234.5 530.63h0M248.4 480.37h0M241.69 482.93h0M239 494.58h0M261.88 471.88h0M234.08 511.43h0M248.94 475.4h0M254.36 465.58h0M239.81 486.99h0M258.66 488.72h0M233.46 544.95h0M242.06 481.26h0M239.17 504.5h0M245.53 468.34h0M258.06 488.52h0M236.12 509.21h0M246.08 508.94h0M241.14 506.51h0M237.07 496.36h0M236.23 531.01h0M250.85 502.6h0M273.82 425.91h0M251.83 481.36h0M247.34 473.78h0M236.98 501.09h0M245.45 485.76h0M240.37 499.99h0M239.19 490.64h0M244.71 494.49h0M308.8 412.84h0M238.59 493.82h0M258.3 468.25h0M234.27 510.16h0M242.82 482.76h0M240.5 524.75h0M233.11 521.86h0M249.54 478.3h0M238.03 517.03h0M235.55 509.07h0M256.19 452.73h0M241.74 496.38h0M235.84 544.6h0M240.22 490.61h0M246.57 479.97h0M263.96 446.41h0M244.99 501.08h0M241.9 519.31h0M234.52 518.87h0M240.63 506.4h0M249.91 478.01h0M240.01 497.79h0M268.39 451.8h0M235.28 516.42h0M238.52 496.71h0M238.56 507.75h0M238 492.81h0M249.71 462.44h0M271.85 434.17h0M235.93 506.17h0M244.52 482.44h0M245.88 470.2h0M240.66 495.93h0M237.61 531.61h0M255.46 492.58h0M233.85 542.37h0M292.5 421.47h0M236.2 500.11h0M251.99 458.17h0M245.61 481.83h0M239.37 519.03h0M262.8 464h0M242.38 501.47h0M274.6 427.99h0M234.62 513.95h0M301.78 432.82h0M237.84 504.29h0M241.4 501.47h0M249.95 494.34h0M242.03 505.59h0M237.71 518.21h0M242.08 482.77h0M255.26 446.53h0M247.59 464.85h0M251.68 453.31h0M265.63 436.2h0M242.63 512.43h0M254.64 456.96h0M243.03 481.96h0M241.9 527.15h0M237.16 517.77h0M264.62 442.71h0M267.27 442.3h0M241.53 485.36h0M263.91 436.75h0M251.94 480.44h0M232.88 544.21h0M253.41 490.06h0M250.07 481.44h0M252.45 453.6h0M249.8 493.92h0M290.92 439.73h0M281.91 433.95h0M240.16 527.46h0M247.88 472.83h0M267.58 465.59h0M238.99 488.68h0M261.67 460.55h0M264.58 452.76h0M241.82 481.86h0M241.67 513.87h0M241.6 513.09h0M234.92 513.46h0M233.83 540.05h0M239.42 485.39h0M235.98 526.52h0M265.84 454.31h0M255.64 468.26h0M265.96 465.47h0M264.03 441.51h0M256.74 467.06h0M235.73 522.85h0M234.28 516.7h0M251.38 468.2h0M235.64 537.07h0M241.48 499.31h0M253.98 465.47h0M270.6 439.47h0M236.43 512.81h0M276.36 428.43h0M245.64 488.34h0M268.79 434.45h0M236.17 498.78h0M254.35 497.5h0M238.34 497.83h0M292.47 412.18h0M255.55 444.83h0M248.36 475.03h0M305.19 385.03h0M234.36 522.64h0M256.32 451.2h0M251.53 482.75h0M237.49 510.57h0M237.35 544.38h0M235.99 512.7h0M239.95 492.78h0M242.19 502.62h0M236.45 519.67h0M242.04 505.69h0M245.77 483.54h0M250.5 482.91h0M250.44 497.28h0M261.77 472.92h0M234.69 527.31h0M252.77 456.45h0M254.19 473.47h0M272.17 428.82h0M243.89 487.23h0M241.12 502.39h0M242.99 492.5h0M248.89 477.83h0M248.59 459.99h0M246.93 497.41h0M257.81 449.36h0M240.6 492.5h0M292.82 411.72h0M247.49 472.77h0M283.63 418.63h0M247.39 503.78h0M250.18 485.58h0M251.36 453.66h0M278.15 409.51h0M234 537.33h0M252.03 479.37h0M236.27 518.97h0M238.88 534.99h0M249.35 500.02h0M234.96 523.65h0M239.38 536.05h0M261.09 443.45h0M248.15 478.07h0M244.37 512.32h0M259.7 456.07h0M245.24 489.08h0M260.11 463.09h0M234.07 530.93h0M243.35 481.79h0M246.56 466.3h0M243.72 485.4h0M245.06 490.04h0M237.94 504.78h0M252.62 482.9h0M274.76 424.66h0M272.75 452.4h0M238.76 500.25h0M239.35 524.16h0M248.04 494.69h0M265.69 428.57h0M248.37 460.29h0M247.17 483.83h0M242.61 495.13h0M249.96 474.09h0M252.75 464.97h0M231.58 541.6h0M287.8 410.85h0M237.08 504.97h0M260.91 484.12h0M239.94 534.71h0M238.21 505.75h0M282.16 399.95h0M244.87 477.27h0M246.26 465.83h0M245.75 489.86h0M236.9 500.36h0M249.38 460.52h0M241.48 497.15h0M246.4 475.86h0M238.73 516.2h0M250.57 475.19h0M256.27 484.51h0M242 488.97h0M237.94 494.54h0M237.65 503.32h0M234.3 536.6h0M316.48 378.89h0M240.59 512.23h0M261.68 460.01h0M266.99 448.03h0M244.28 505.74h0M236.72 514.65h0M249.31 487.5h0M242.52 480.97h0M300.57 435.95h0M255.2 495.14h0M249.95 502.06h0M245.1 486.57h0M255.71 451.7h0M237.9 496.04h0M246.58 474.97h0M275.51 426.37h0M245.41 479.78h0M249.91 493.86h0M241.28 481.55h0M243.6 512.18h0M281.38 410.15h0M305.11 389.03h0M243.1 495.23h0M235.89 517.18h0M243.38 474.77h0M239.11 519.78h0M239.29 524.75h0M284.98 412.24h0M250.66 479.76h0M235.15 503.9h0M232.44 537.58h0M246.49 513.53h0M254.09 464.16h0M246.23 474.43h0M245.18 477.2h0M249.91 487.82h0M239.53 496.44h0M245 489.19h0M242.32 508.79h0M246.65 466.86h0M248.15 485.74h0M248.79 479.02h0M240.99 487.26h0M258.3 458.86h0M239.42 524.4h0M277.32 427.12h0M245.14 491.15h0M267 462.82h0M265.24 432.64h0M243.95 487.05h0M277.7 416.04h0M266.36 483.89h0M240.96 497.76h0M247.81 480.55h0M250.65 493.49h0M252.17 469.62h0M262.33 464.28h0M260.75 443.16h0M237.2 523.12h0M252.29 478.28h0M258.45 446.23h0M241.96 478.55h0M247.51 477.37h0M244.92 469.95h0M244.07 475.69h0M324.49 375.49h0M251.14 461.58h0M262.24 454.64h0M244.07 496.22h0M238.3 531.14h0M243.6 544.97h0M252.73 474.4h0M240.55 512.23h0M235.44 520.44h0M237.89 495.58h0M236.5 507.55h0M235.4 544.66h0M235.7 502.4h0M247.54 508.94h0M237.62 503.89h0M264.89 435.24h0M241.83 516.32h0M239.32 507.42h0M285.89 410.08h0M240.89 496h0M244.27 507.32h0M239.71 489.79h0M268.11 433.03h0M262.39 464.41h0M238.73 521.59h0M270.58 468.92h0M234.24 545.02h0M247.48 489.42h0M271.08 465.41h0M240.49 497.29h0M241.61 478.13h0M235.15 544.93h0M239.21 525.89h0M278.96 416.2h0M261.27 484.08h0M247.94 498.66h0M241.33 524.05h0M260.62 461.14h0M246.43 503.35h0M237.17 535.28h0M241.88 501.4h0M235.06 523.33h0M237.77 527.1h0M326.12 376.57h0M243.22 506.91h0M243.08 496.98h0M242.13 478.3h0M238.74 496.67h0M265.5 467.92h0M238.47 520.06h0M243.83 495.65h0M279.17 429.56h0M236.91 524.52h0M241.54 483.49h0M237.25 501.86h0M240.81 523.89h0M239.93 519.61h0M258.19 442.95h0M244.75 471.92h0M240.12 485h0M237.75 496.22h0M253.81 482.36h0M246.29 471.8h0M239.16 520.44h0M259.36 462.61h0M243.34 504.27h0M244.59 488.92h0M235.32 534.53h0M244.93 469.68h0M239.22 507.7h0M261.46 449.67h0M265.67 434.12h0M252.08 464.98h0M241.3 512.86h0M268.83 463.73h0M242.11 482.33h0M262.54 447.67h0M241.02 494.89h0M261.02 446.73h0M251.28 485.42h0M237.19 532.46h0M240.2 521.17h0M237.94 520.81h0M237.69 528.69h0M235.48 544.96h0M262.24 453h0M243 483.56h0M237.3 515.11h0M282.25 421.67h0M242.42 497.78h0M252.2 471.16h0M244.28 479.11h0M239.02 502.79h0M242.26 530.02h0M278.45 408.49h0M235.38 504.94h0M232.89 544.79h0M235.9 519.74h0M251.72 478.48h0M240.06 483.69h0M251.92 458.48h0M245.92 474.08h0M262.75 462.12h0M283.4 427.48h0M275.49 430.13h0M240.71 491.91h0M234.72 544.9h0M267.69 467.62h0M250.1 475.71h0M254.82 490.57h0M242.31 484.03h0M241.69 503h0M250.89 481.09h0M244.48 483.12h0M246.04 500.33h0M273.83 443.52h0M235.79 503.37h0M236.34 531.92h0M249.92 470.1h0M245.17 510.16h0M249.25 498.82h0M268.96 474.1h0M248.38 470.99h0M249.91 456.19h0M277.72 462.9h0M239.4 484.76h0M258.02 441.51h0M301.64 392.64h0M278.95 454.54h0M234.16 514.91h0M236.84 544.79h0M241.3 502.8h0M257.74 448.11h0M249.63 474.68h0M239.45 502.9h0M266.41 454.1h0M251.06 463.84h0M235.21 529.34h0M244.73 477.81h0M242.87 475.85h0M260.08 442.15h0M247.08 485.11h0M247.28 469.99h0M265.59 432.82h0M281.41 443.3h0M245.03 474.69h0M271.28 426.51h0M259.53 454.06h0M235.69 505.97h0M242.95 504.4h0M252.56 458.96h0M236.27 544.14h0M245.48 482.57h0M252.93 475.61h0M242.64 508.19h0M245.22 483.15h0M235.88 523.09h0M246.1 474.02h0M246.12 467.51h0M247.74 500.78h0M246.1 489.28h0M235.67 524.16h0M251.11 479.13h0M236.49 530.43h0M243.24 521.2h0M247.69 511.9h0M243.36 481.74h0M242.32 505.06h0M246.28 484.23h0M244.75 479.68h0M241.57 525.65h0M258.89 438.52h0M254.79 451.54h0M235.79 539.09h0M271.51 429.24h0M267.28 437.75h0M237.75 510.94h0M262.45 440.98h0M243.35 491.74h0M247.32 463.92h0M251.06 456.92h0M237.54 518.74h0M237.37 518.8h0M235.73 520.34h0M267.2 439.21h0M261.39 466.7h0M259.27 480.56h0M264.22 453.81h0M268.55 431h0M254.54 456.01h0M250.49 462.69h0M234.68 538.85h0M262.37 438.78h0M243.61 499.31h0M246.08 472.12h0M238.84 518.1h0M247.5 482.98h0M247.58 483.73h0M235.72 517.14h0M237.58 510.11h0M234.84 536.22h0M244.42 495.6h0M240.12 513.17h0M297.72 414.03h0M235.57 525.59h0M248.9 481.94h0M256.08 445.26h0M235.51 507.63h0M235.38 516.13h0M234.38 527.99h0M237.65 521.37h0M242.87 475.89h0M245.56 542.47h0M264.77 458.65h0M266.88 444.96h0M271.65 474.89h0M254.86 501.21h0M286.72 415.8h0M255.14 478.14h0M249.32 461.27h0M268.05 463.92h0M239.04 521.25h0M242.7 511.61h0M249.72 487.96h0M270.06 435.96h0M241.25 525.25h0M235.43 512.59h0M247.54 485.82h0M244.48 477.25h0M234.73 538.9h0M276.79 441.71h0M247.27 473.8h0M262.58 484.85h0M245.18 479.95h0M269.65 429.03h0M241.39 491.5h0M242.2 521.55h0M236.94 510.32h0M239.44 500.69h0M242.55 522.36h0M247.43 464.22h0M260.68 488.61h0M239.5 517.64h0M257.09 497.84h0M256.23 442.72h0M230.52 544.5h0M238.1 491.43h0M272.81 426.69h0M249.97 497.33h0M248.86 481.13h0M235.87 508.63h0M235.02 530.43h0M264.65 454.89h0M256.24 480.78h0M289.67 408.61h0M235.56 517.25h0M244.24 496.24h0M255.03 461.6h0M251.39 492.82h0M241.35 487.72h0M244.05 480.56h0M240.81 499.57h0M235.48 522.67h0M266.64 449.03h0M250.28 481.13h0M245.39 500.43h0M246.39 480.38h0M278.36 429.75h0M254.73 458.88h0M251.66 451.38h0M235.95 509.68h0M236.94 513.54h0M239.46 495.78h0M259.66 458.82h0M250.06 478.12h0M249.7 471.39h0M239.72 498.59h0M236.1 528.61h0M244.32 492.77h0M239.11 502.79h0M233.51 515.18h0M235.55 500.48h0M263.55 439.61h0M242.54 491.35h0M235.56 529.99h0M250.33 538.93h0M244.45 517.8h0M239.48 503.25h0M249.29 483.23h0M253.48 461.96h0M236.6 530.88h0M240.27 481.86h0M255.2 459.25h0M280.62 410.63h0M271.58 428.85h0M286.8 414.26h0M270.33 433.83h0M275.74 419.49h0M271.76 432.8h0M269.36 461.15h0M279.25 408.85h0M274.43 427.41h0M264.97 440.26h0M275.61 424.91h0M266.63 437.77h0M270.6 443.53h0M268.71 440.03h0M287.66 426.63h0M275.29 423.78h0M271.62 427.09h0M261.73 443.23h0M274.46 423.32h0M275.01 409.93h0M282.28 404.73h0M274.25 425.22h0M271.59 430.06h0M281.89 408.79h0M273.14 454.98h0M278.49 439.4h0M273.31 423.12h0M283.6 411.18h0M270.57 444.08h0M273.37 412.82h0M278.29 419.68h0M282.01 412.95h0M281.65 407.4h0M275.84 417.12h0M274.3 431.76h0M292.82 415.64h0M278.65 430.85h0M286.94 415.44h0M261.76 456.7h0M275.69 435.16h0M267.89 443.36h0M266.54 429.46h0M281.33 416.07h0M267.31 439.85h0M277.78 424.66h0M277.11 429.52h0M266.96 457.65h0M268.64 441.06h0M266.95 436.42h0M271.64 430.16h0M283.05 418.97h0M274.02 420.03h0M279.03 432.83h0M278.61 419.86h0M288.51 435.33h0M279.8 422.04h0M281.73 425.46h0M266.55 452h0M288.74 417.47h0M284.04 432.03h0M274.43 429.25h0M284.31 408.42h0M272.61 426.54h0M276.69 428.9h0M267.33 432.82h0M279.65 428.61h0M275.69 428.66h0M273.24 423.42h0M270.4 430.66h0M271.09 427.6h0M285.91 400.57h0M278.68 423.09h0M272.16 425.3h0M270.23 429.66h0M274.92 429.96h0M262.99 438.09h0M274.02 423.61h0M278.73 422.78h0M278.12 447.59h0M276.22 427.39h0M269.8 439.24h0M281.29 410.55h0M275.8 438.17h0M267.52 429.03h0M264.67 437.74h0M284.02 424.26h0M276.06 412.91h0M273.08 420.61h0M264.76 452.28h0M265.03 448.13h0M277.62 411.34h0M284.6 413.39h0M273.22 428.6h0M288.24 412.84h0M277.11 409.17h0M266.52 438.96h0M284.43 413.29h0M275.14 417.8h0M261.58 441.74h0M286.78 404.37h0M272.81 427.95h0M287.14 408.36h0M265.05 442.46h0M282.78 424.68h0M287.16 413.8h0M272.61 443.82h0M280.32 410.11h0M272.01 430.38h0M277.61 416.35h0M271.17 421.19h0M280.33 424.14h0M265.47 436.8h0M270.53 424.7h0M269.99 434.1h0M269.51 432.94h0M264.98 442.1h0M276.53 421.28h0M275.2 421.6h0M292.37 419.52h0M277.58 421.55h0M284.19 407.1h0M290.87 395.47h0M267.32 432.41h0M267.67 442.05h0M273.63 435.84h0M278.21 418.81h0M269.11 445.85h0M271.93 421.93h0M266.44 443.67h0M289.11 402.48h0M275.51 423.37h0M268.61 437.14h0M272.2 422.03h0M281.55 407.23h0M266.54 430.31h0M262.26 436.87h0M274.49 420.39h0M283.02 409.02h0M268.55 441.33h0M279.01 426.58h0M281.2 427.37h0M276.89 442.93h0M281.57 419.59h0M274.1 430.99h0M271.07 433.49h0M281.23 420.13h0M265.04 452.24h0M273.34 432.56h0M271.34 437.75h0M274.55 424.37h0M279.86 422.78h0M272.68 439.28h0M278.16 414.29h0M279.34 423.47h0M268.06 424.56h0M268.48 435.24h0M265.77 437.61h0M270.66 430.55h0M275.09 425.27h0M287.66 410.22h0M267.07 463.23h0M272.54 437.79h0M261.17 464.16h0M272.83 431.71h0M267.8 428.38h0M278.86 418.54h0M276 437.27h0M271.61 437.56h0M274.25 416.53h0M271.43 421.03h0M268.98 435.65h0M272.88 419.29h0M278.91 426.91h0M275.71 419.02h0M274.02 419.04h0M270.12 455.72h0M274.26 429.77h0M285.11 403.38h0M280.83 427.8h0M279.55 430.12h0M275.94 413.12h0M289.32 422.21h0M277.08 428.88h0M264.68 440.08h0M266.42 429.36h0M266.42 448.82h0M277.49 416.57h0M281.36 414.69h0M281.16 426.8h0M263.8 458.83h0M284.69 414.99h0M277.32 431.4h0M278.1 434.48h0M279.41 417.73h0M269.13 426.05h0M275.64 430.29h0M274.94 423.45h0M284.03 412.8h0M270.15 427.5h0M284.64 418.74h0M283.22 416.15h0M280.27 427.83h0M271.96 421.53h0M267.91 452.21h0M271.82 420.76h0M288.41 402.8h0M269.23 436.77h0M281.04 420.02h0M273.19 430.16h0M280.3 418.25h0M272.89 441.84h0M266.18 441.48h0M283.76 422.86h0M264.33 442.98h0M269.93 442.39h0M286.5 404.11h0M270.21 444.59h0M264.41 434.78h0M279.73 420.19h0M269.78 429.45h0M284.21 405.26h0M268.84 437.7h0M268.43 432.21h0M264.87 442.62h0M272.05 427.41h0M280.11 429.77h0M272.02 424.78h0M270.92 438.69h0M265.9 452.06h0M262.86 478.67h0M264.07 446.72h0M268.06 424.91h0M280.43 415.13h0M278.22 410.67h0M271.58 423.92h0M281.48 423.54h0M273.98 423.49h0M278.09 411.88h0M266.29 428h0M266.85 438.18h0M265.36 449.78h0M269.75 433.26h0M271.65 428.52h0M279.23 420.02h0M280.17 426.99h0M267.28 433.17h0M272.79 426.32h0M267.09 434.84h0M276.25 407.1h0M265.59 436.53h0M283.17 417.28h0M279.72 420h0M274.98 424.59h0M282.23 424.56h0M275.93 437.13h0M274.29 427.87h0M274.92 418.22h0M271.31 427.56h0M271.09 421.4h0M273.64 432.31h0M269.85 436.16h0M260.81 447.98h0M276.64 413.23h0M274.28 431.64h0M260.99 452.07h0M275.12 414.42h0M279.07 408.46h0M278.29 419.74h0M283.67 410.53h0M277.63 448.36h0M284.03 404.79h0M281.64 417.22h0M277.77 422.96h0M283.95 402.66h0M272.32 426.69h0M267.52 464.35h0M264.81 434.65h0M270.85 447.32h0M262.54 440.53h0M266.26 435.06h0M276.41 432.3h0M277.92 424.4h0M268.9 448.76h0M274.42 429.87h0M261.11 445.06h0M279.89 420.78h0M268.79 428.15h0M274.52 423.94h0M269.75 432.05h0M284.2 415.39h0M269.14 433.87h0M264.03 453.33h0M265.24 436.35h0M277.23 433.67h0M260.92 458.36h0M267.16 446.67h0M271.74 429.22h0M264.66 443.2h0M277.8 419.67h0M282.76 415.24h0M281.31 409.05h0M287.96 425.86h0M268.37 431.36h0M270.76 436.8h0M285.78 409.81h0M273.59 414.42h0M275.23 435.28h0M274.35 418.12h0M267.2 452.15h0M263.23 443.86h0M274.98 427.43h0M281.31 420.69h0M281.04 411.45h0M272.43 430.31h0M281.9 415.16h0M278 421.08h0M280.76 419.64h0M270.41 450.54h0M287.19 431.04h0M281.28 407.93h0M263.06 447.83h0M272.11 427.83h0M279.91 417.85h0M268.65 443.45h0M275.28 423.38h0M288.87 424.29h0M274.1 419.07h0M270.02 439.59h0M282.45 431.61h0M267.64 432.48h0M268.75 513.08h0M304.06 487.25h0M281.25 507.81h0M302.14 485.94h0M300.01 497.95h0M308.52 498.48h0M298.26 498.73h0M292.74 501.45h0M316.03 493.86h0M334.35 484.73h0M269.07 510.75h0M273.22 497.35h0M292.99 497.73h0M275.72 515.09h0M296.26 490.69h0M296.84 501.44h0M294.03 495.43h0M276.83 504.05h0M296.13 510.23h0M315.79 494.6h0M292.29 491.98h0M319.84 493.21h0M283.54 506.52h0M296.7 500.08h0M272.44 495.8h0M269.48 519.86h0M305.41 495.59h0M275.02 510.19h0M288.62 504.4h0M296.39 499.25h0M304 500.51h0M287.97 507.09h0M291.41 500.51h0M276.14 513.86h0M308.57 497.34h0M271.12 510.17h0M280.45 502.87h0M275.18 508.66h0M289.48 488.11h0M300.68 502.1h0M302.58 488.93h0M289.84 491.1h0M285.36 511.36h0M324.57 482.81h0M300.44 500.61h0M317.31 495.07h0M307.24 495.31h0M275.05 510.13h0M293.73 500.21h0M279.38 493.94h0M291.23 495.38h0M312.94 501.55h0M293.45 495.17h0M290.45 505.49h0M301.81 508.15h0M286.05 515.83h0M292.95 503.05h0M281.19 506.2h0M289.81 503.93h0M307.49 494.97h0M282.71 504.82h0M279.69 511.32h0M316.24 485.18h0M283.66 497.18h0M260.7 515.47h0M298.1 493.22h0M319.27 491.14h0M313.67 493.75h0M325.87 482.33h0M277.96 504.91h0M299.68 511.99h0M306.7 479.66h0M275.99 513.73h0M351.38 484.97h0M307.51 494.48h0M302.08 501.81h0M294.95 499.79h0M303.24 492.3h0M273.6 512.96h0M328.12 474.5h0M262.22 519.75h0M291.8 498.6h0M288.96 497.12h0M282.89 510.94h0M302.98 492.52h0M301.03 492.49h0M326.92 477h0M294.29 498.39h0M269.6 506.58h0M277.64 511.54h0M301.56 505.32h0M274.71 507.41h0M292.16 497.95h0M317.17 490.14h0M285.35 496.76h0M294.82 498.54h0M282.72 501.66h0M316.78 500.51h0M279.54 502.93h0M290.73 507.92h0M330.99 489.93h0M294.53 498.91h0M310.26 502.01h0M328.44 496.79h0M292.19 497.35h0M306.56 484.57h0M298.62 485.91h0M314.59 495.35h0M288.1 504.61h0M345.88 499.29h0M302.43 498.8h0M288.2 500.63h0M271.67 503.75h0M285.83 499.05h0M308.01 484.31h0M337.5 497.29h0M282.61 509.08h0M294.94 504.98h0M275.22 508.47h0M263.33 507.67h0M285.89 490.81h0M294.83 511.53h0M288.8 501.61h0M290.95 499.35h0M283.23 492.28h0M283.55 511.39h0M283.2 494.2h0M293.29 482.26h0M278.1 512.72h0M274.73 498.96h0M311.36 488.46h0M293.28 503.36h0M322.35 498.01h0M325.02 488.95h0M280.48 501.76h0M285.98 499.3h0M292.83 504.86h0M311.71 497.43h0M292.18 500.39h0M311.94 495.83h0M302.96 505.46h0M286.6 512.95h0M297.1 502.09h0M279.8 506.19h0M305.74 491.4h0M340.99 480.56h0M314.57 493.44h0M262.7 512.56h0M288.31 502.29h0M284.35 497.69h0M332.73 474.55h0M296.72 499.6h0M272.05 509.04h0M288.51 500.5h0M291.65 488.67h0M290.12 488.21h0M297.04 505.16h0M280.79 501.22h0M333.71 497.15h0M290.01 505.07h0M292.52 491.62h0M310.43 496.25h0M294.22 487.82h0M306.26 493.84h0M349.1 491.89h0M320.96 501.58h0M258.66 517.99h0M291.53 504.42h0M333.59 491.51h0M271.27 513.01h0M290.33 491.4h0M284 507.16h0M262.34 510.87h0M300.42 489.44h0M297.83 495.98h0M285.91 489.04h0M293.2 494.5h0M286.84 497.55h0M308.92 495.17h0M286.81 510.58h0M345.67 495.77h0M296.44 495.4h0M269.67 517.03h0M275.42 512.02h0M315 480.68h0M310.41 503.28h0M293.69 501.34h0M310.44 498.42h0M308.94 476.76h0M298.02 493.17h0M292.34 493.61h0M307.65 496.61h0M298.39 492.9h0M273.66 512.44h0M328.79 479.74h0M262.69 511.29h0M315.02 498.35h0M317.67 482.42h0M302.18 483.75h0M312.65 493.88h0M278.92 501.38h0M265.91 521.58h0M277 504.51h0M326.02 501.43h0M296.94 507.08h0M298.25 487.69h0M291.36 494.5h0M274.52 500.23h0M301.1 491.41h0M276.77 511.92h0M270.04 511.16h0M298.23 487.91h0M282.71 507.87h0M284.76 500.85h0M269.11 502.42h0M299.8 493.68h0M302.91 504.94h0M303.25 489.18h0M293.48 507.32h0M280.81 500.55h0M316.18 502.48h0M298.93 498.81h0M286.21 492.88h0M307.21 498.9h0M274.61 519h0M321.97 497.44h0M280.06 508.07h0M269.41 506.59h0M327.05 489.91h0M282.69 508.95h0M263.3 516.19h0M306.35 500.73h0M298.3 486.34h0M257.8 519.11h0M298.22 503.06h0M285.42 506.5h0M286.73 508.88h0M284.21 494.65h0M295.71 503.39h0M295.82 499.45h0M314.77 493.87h0M300.31 502.39h0M322.4 493.02h0M284.13 497.18h0M308.23 497.89h0M275.04 507.15h0M287.81 500.47h0M272.93 509.28h0M268.16 512.67h0M291.87 496.66h0M293.14 498.03h0M268.48 513.2h0M308.13 496.76h0M292.65 497.75h0M262.76 514.88h0M280.56 499.47h0M295.06 504.06h0M289.81 496.42h0M313.47 491.84h0M342.21 500.51h0M311.23 495.28h0M286.66 504.98h0M274.58 508.78h0M270.63 511.23h0M302.21 499.42h0M288.93 488.63h0M294.36 499.85h0M297.83 481.44h0M310.49 490.97h0M323.47 474.13h0M293.16 496.32h0M310.22 495.79h0M271.36 504.75h0M332.55 481.41h0M311.15 500.46h0M306.83 495.67h0M281.56 503.6h0M273.59 512.21h0M310.22 496.14h0M283.72 506.54h0M275.84 510.93h0M281.49 507.9h0M256.6 520.78h0M294.51 504.39h0M319.79 496.19h0M298.05 492.92h0M285.5 508.17h0M282.35 503.28h0M304.96 479.08h0M274.86 501.64h0M272.95 506.77h0M268.66 509.38h0M266.34 517.63h0M294.44 504.85h0M334.08 476.08h0M274.47 506.09h0M285.25 510.18h0M258.09 523.15h0M274.05 507.98h0M311.73 486.67h0M284.67 501.62h0M274.74 514.81h0M345.07 479.58h0M271.34 510.12h0M288.31 489.98h0M280.37 508.69h0M301.14 507.25h0M278.23 506.99h0M281.5 504.53h0M296.77 497.51h0M290.49 506.28h0M300.11 481.48h0M278.13 503.91h0M278.13 508.65h0M279.14 504.43h0M285.69 491.96h0M291.44 504.04h0M290.41 497.17h0M301.07 493.57h0M293.07 499.21h0M268.29 516.75h0M298.32 500.25h0M279.38 511.27h0M322.16 468.36h0M306.93 502.82h0M298.35 487.83h0M334.12 494.11h0M288.9 498.06h0M316.27 481.28h0M299.33 497.09h0M300.46 498.8h0M301.85 489.72h0M265.33 509.18h0M270.37 512.32h0M280.88 497.88h0M317.91 492.26h0M285.63 495.78h0M283.76 495.96h0M305.98 494.23h0M280.56 501.98h0M274.76 507.81h0M294.98 498.24h0M301.17 492.63h0M289.08 495.23h0M281.42 504.97h0M259.28 518.23h0M279.55 506.02h0M313.64 493.47h0M275.27 501.45h0M307.35 498.38h0M286.27 498.76h0M278.12 488.73h0M294.81 495.63h0M285.92 509.32h0M279.88 498.57h0M293.77 505.65h0M276.71 511.38h0M305.93 497.61h0M303.6 493.83h0M339.62 491.12h0M297.35 501.98h0M264.84 518.73h0M277.21 502.17h0M273.18 508.24h0M305.25 493.12h0M279.55 506.42h0M337.19 479.75h0M309.3 496.36h0M309.91 506.56h0M338.25 495.69h0M289.36 505.96h0M267.69 510.38h0M302.27 491.11h0M338.95 489.68h0M295.39 489.14h0M318.3 488.3h0M268.04 514.54h0M327.13 487.44h0M317.72 489.53h0M317.4 492.88h0M279.94 497.27h0M320.24 497.99h0M272.68 511.01h0M281.7 505.62h0M289.95 503.05h0M307.45 496.07h0M302.66 498.76h0M311.12 490.79h0M280.4 502.64h0M292.98 490.76h0M300.49 483.43h0M293.86 488.83h0M281.22 507.73h0M317.64 495.2h0M291.47 509.6h0M287.43 488.02h0M344.02 483.88h0M296.18 492.79h0M289.43 497.86h0M292.14 494.58h0M322.84 493.97h0M284.82 504.21h0M292.39 506.21h0M286.66 494.66h0M318.99 485.29h0M274.78 504.23h0M273.66 514.12h0M328.96 482.9h0M306.58 487.85h0M311.53 480.09h0M309.39 496.95h0M265.57 512.37h0M278.12 517.64h0M290.89 505.25h0M288.07 483.92h0M317.12 491.48h0M281.84 512.74h0M259.22 509.64h0M309.17 478h0M291.44 503.36h0M286.52 493.46h0M298.32 500.16h0M270.55 507.98h0M285.98 500.71h0M308.91 492.41h0M291.23 508.93h0M297.89 495.5h0M275.29 511.77h0M294.52 502.99h0M305.82 497.86h0M272.22 511.28h0M303.91 489.02h0M312.91 489.09h0M281.81 506.42h0M282.56 512.97h0M274.22 510.64h0M329.04 477.77h0M314.01 499.24h0M322.15 485.79h0M274.1 506.71h0M316 476.8h0M300.79 495.66h0M286.16 507.39h0M350.43 480.83h0M332.03 483.23h0M271.96 505.07h0M291.48 507.07h0M300.25 496.67h0M295.93 498.91h0M301.24 497.88h0M253.78 523.93h0M252.94 525.08h0M256.91 516.32h0M266.95 517.13h0M243.51 531.72h0M250.32 522.88h0M242.32 534.05h0M262.78 514.95h0M262.63 506.86h0M258.38 519.43h0M271.22 513.2h0M243.77 530.52h0M254.94 518.96h0M254.57 515.39h0M250.64 518.38h0M243.25 532.04h0M253.38 520.77h0M249.69 519.55h0M252.17 521.56h0M244.59 523.44h0M275.1 507.71h0M251.05 525.17h0M248.38 526.07h0M251.26 522.01h0M244.57 528.74h0M254.43 518.23h0M252.32 531.09h0M247.07 531.63h0M249.81 521.56h0M269.26 509.97h0M245.62 527.2h0M250.21 526.44h0M272.42 510.55h0M250.91 522.82h0M255.43 525.38h0M266.41 513.27h0M261.32 513.71h0M249.81 527.62h0M252.32 522.11h0M258.56 514.4h0M260.64 509.48h0M246.91 531.81h0M244.19 532.05h0M250.27 524.99h0M269.36 513.06h0M258.71 518.12h0M256.76 521.3h0M263.07 520.85h0M252.62 522.98h0M257.27 518.58h0M250.37 529.54h0M258.65 513h0M252.07 527.52h0M249.59 518.99h0M257.22 524.64h0M254.32 524.88h0M246.54 528.65h0M259.09 513.2h0M257.36 517.32h0M260.1 509.04h0M249.28 522.19h0M268.9 515.29h0M247.14 525.86h0M254.42 519.4h0M247.39 523.91h0M252.42 525.05h0M260.93 515.82h0M259.49 510.34h0M259.53 522.79h0M241.43 536.32h0M264.39 517.62h0M252.35 521.91h0M261.93 512.7h0M256.92 519.52h0M270.38 508.74h0M251.83 526.33h0M257.85 517.63h0M265.5 511.26h0M254.3 523.96h0M242.87 533.82h0M257.81 522.48h0M263.21 510.93h0M260.99 501.99h0M260.89 517.08h0M246.48 527.88h0M267.71 514.56h0M254.68 523h0M258.18 514.04h0M248.14 531.84h0M245.51 527.77h0M246.23 530h0M256.23 517.31h0M251.1 523.7h0M267.88 515.65h0M262.6 520.25h0M246.58 521.43h0M247.37 530.1h0M264.35 507.15h0M255.82 516.92h0M255.62 517.3h0M262.76 519.72h0M244.36 527.07h0M260.91 514.88h0M249.46 527.76h0M240.9 535.92h0M259.9 511.17h0M249.14 520.67h0M265.09 501.5h0M250.37 527.09h0M259.11 513.63h0M248.61 524.72h0M253.51 522.02h0M254.05 522.49h0M265 521.5h0M249.8 517.63h0M250.29 524.28h0M258.02 518.81h0M250.92 518.06h0M244.34 528.27h0M259.34 513.73h0M267.54 507.24h0M258.26 506.39h0M249.04 518.77h0M263.19 509.49h0M272.23 508.68h0M267.81 512.31h0M252.22 528.27h0M247.7 526.7h0M254.96 519.84h0M257.44 520.61h0M262.42 517.43h0M259.6 520.57h0M252.45 522.62h0M244.32 532.15h0M278.31 506.05h0M256.6 522.86h0M241.62 531.55h0M253.82 520.85h0M258.93 520.1h0M249.22 530.3h0M253.3 518.88h0M254.07 524.24h0M254.84 526.28h0M256.48 521.49h0M254.2 525.6h0M261.34 518.15h0M260.8 518.29h0M251.94 524.63h0M255.98 523.45h0M254.96 524.83h0M272.39 516.03h0M251.43 526.6h0M266 513.31h0M250.04 526.31h0M268.2 513.42h0M270.74 520.49h0M245.11 527.28h0M251.41 527.86h0M251.76 520.79h0M266.89 517.07h0M276.42 507.85h0M267.89 513.22h0M255.05 516.74h0M242.41 527.06h0M252.84 516.75h0M255.11 520.32h0M258.57 517.87h0M258.49 515.76h0M258.04 514.6h0M251.75 528.96h0M277.8 480.88h0M314.14 471.7h0M305.41 483.92h0M296.41 472.38h0M272.63 487.43h0M302.46 471.18h0M359.82 477.15h0M288.42 468.44h0M291.03 461.6h0M347.43 465.06h0M289.51 473.18h0M278.76 474h0M315.82 451.76h0M317.52 458.17h0M273.29 496.08h0M328.03 474.77h0M365.24 467.13h0M297.48 485.62h0M283.5 483.76h0M272.91 488.86h0M280.53 487.97h0M352.51 456.2h0M351.26 471.71h0M277.82 483.23h0M371.95 459.78h0M311.59 466.86h0M347.22 459.79h0M328.12 465.56h0M289.61 480.48h0M343.59 476.63h0M294.47 490.11h0M277.7 489.93h0M329.18 475.99h0M343.58 453.69h0M283.59 479.94h0M329.04 482.37h0M305.51 464.79h0M358.18 457.37h0M284.49 473.91h0M273.22 471h0M284.54 486.98h0M294.01 491.07h0M298.45 480.26h0M339.87 477.21h0M279.74 470.48h0M368.41 455.11h0M317.33 455.17h0M354.38 466.26h0M309.48 474.85h0M354.09 476.31h0M268.86 504.77h0M292.06 454.96h0M282.62 477.38h0M294.71 485h0M319.4 480.4h0M325.67 461.55h0M273.23 502.13h0M275.59 491.99h0M345.03 467.04h0M314.24 485.7h0M317.65 481.23h0M270.93 471.73h0M369.44 471.56h0M360.46 473.91h0M307.29 465.32h0M316.89 482.89h0M283.48 478.22h0M334 472.3h0M271.73 481.23h0M270.51 487.05h0M326.92 366.11h0M328.85 373.38h0M340.17 376.37h0M344.44 377.22h0M347.86 382.78h0M364.1 381.07h0M323.93 381.71h0M308.12 387.05h0M320.3 388.76h0M329.49 389.62h0M327.78 392.39h0M333.76 392.39h0M320.3 394.53h0M315.38 398.16h0M305.98 398.8h0M320.3 399.44h0M330.98 398.8h0M328.85 400.94h0M311.75 401.58h0M322.86 405.21h0M318.16 406.28h0M318.8 414.83h0M327.35 418.46h0M379.49 424.66h0M341.67 439.83h0M358.76 439.4h0M380.56 441.75h0M338.03 448.59h0M393.59 450.73h0M395.51 460.56h0M411.75 461.2h0M419.66 468.25h0M355.56 461.2h0M363.46 460.77h0M361.97 466.75h0M355.56 469.32h0M380.77 470.38h0M394.02 469.32h0M358.76 474.23h0M362.61 474.66h0M367.95 476.15h0M375.43 474.02h0M380.13 475.94h0M393.59 478.29h0M391.88 482.78h0M361.54 482.56h0M370.51 481.5h0M376.92 485.34h0M365.17 484.7h0M368.38 487.91h0M363.03 490.68h0M355.56 491.11h0M368.38 491.75h0M363.46 493.46h0M432.3 436.7h0M453.9 478h0M471 455.5h0M479.8 462.8h0" stroke="#E87468" stroke-width="1.75" stroke-linecap="round" fill="none"/>
<rect x="56.4" y="612.1" width="692.8" height="278.5" fill="none" stroke="#222" stroke-width="1.25"/>
<path d="M50.9 625.1H56.4M50.9 630.28H56.4M50.9 635.46H56.4M50.9 640.64H56.4M50.9 645.82H56.4M50.9 651H56.4M50.9 656.18H56.4M50.9 661.36H56.4M50.9 666.54H56.4M50.9 671.72H56.4M50.9 676.9H56.4M50.9 682.08H56.4M50.9 687.26H56.4M50.9 692.44H56.4M50.9 697.62H56.4M50.9 702.8H56.4M50.9 707.98H56.4M50.9 713.16H56.4M50.9 718.34H56.4M50.9 723.52H56.4M50.9 728.7H56.4M50.9 733.88H56.4M50.9 739.06H56.4M50.9 744.24H56.4M50.9 749.42H56.4M50.9 754.6H56.4M50.9 759.78H56.4M50.9 764.96H56.4M50.9 770.14H56.4M50.9 775.32H56.4M50.9 780.5H56.4M50.9 785.68H56.4M50.9 790.86H56.4M50.9 796.04H56.4M50.9 801.22H56.4M50.9 806.4H56.4M50.9 811.58H56.4M50.9 816.76H56.4M50.9 821.94H56.4M50.9 827.12H56.4M50.9 832.3H56.4M50.9 837.48H56.4M50.9 842.66H56.4M50.9 847.84H56.4M50.9 853.02H56.4M50.9 858.2H56.4M50.9 863.38H56.4M50.9 868.56H56.4M50.9 873.74H56.4M50.9 878.92H56.4" stroke="#1a1a1a" stroke-width="1.1" fill="none"/>
<text x="45.8" y="633.13" font-size="8.8" text-anchor="end" fill="#111" stroke="#111" stroke-width="0.22">B2M</text>
<text x="45.8" y="643.49" font-size="8.8" text-anchor="end" fill="#111" stroke="#111" stroke-width="0.22">RPL10</text>
<text x="45.8" y="653.85" font-size="8.8" text-anchor="end" fill="#111" stroke="#111" stroke-width="0.22">RPLP1</text>
<text x="45.8" y="664.21" font-size="8.8" text-anchor="end" fill="#111" stroke="#111" stroke-width="0.22">TPT1</text>
<text x="45.8" y="674.57" font-size="8.8" text-anchor="end" fill="#111" stroke="#111" stroke-width="0.22">MT−CYB</text>
<text x="45.8" y="684.93" font-size="8.8" text-anchor="end" fill="#111" stroke="#111" stroke-width="0.22">VIM</text>
<text x="45.8" y="695.29" font-size="8.8" text-anchor="end" fill="#111" stroke="#111" stroke-width="0.22">RPS8</text>
<text x="45.8" y="705.65" font-size="8.8" text-anchor="end" fill="#111" stroke="#111" stroke-width="0.22">RPS27A</text>
<text x="45.8" y="716.01" font-size="8.8" text-anchor="end" fill="#111" stroke="#111" stroke-width="0.22">MT−CO3</text>
<text x="45.8" y="726.37" font-size="8.8" text-anchor="end" fill="#111" stroke="#111" stroke-width="0.22">ACTB</text>
<text x="45.8" y="736.73" font-size="8.8" text-anchor="end" fill="#111" stroke="#111" stroke-width="0.22">RPL28</text>
<text x="45.8" y="747.09" font-size="8.8" text-anchor="end" fill="#111" stroke="#111" stroke-width="0.22">RPL11</text>
<text x="45.8" y="757.45" font-size="8.8" text-anchor="end" fill="#111" stroke="#111" stroke-width="0.22">RPS23</text>
<text x="45.8" y="767.81" font-size="8.8" text-anchor="end" fill="#111" stroke="#111" stroke-width="0.22">RPL34</text>
<text x="45.8" y="778.17" font-size="8.8" text-anchor="end" fill="#111" stroke="#111" stroke-width="0.22">RPS18</text>
<text x="45.8" y="788.53" font-size="8.8" text-anchor="end" fill="#111" stroke="#111" stroke-width="0.22">RPL7A</text>
<text x="45.8" y="798.89" font-size="8.8" text-anchor="end" fill="#111" stroke="#111" stroke-width="0.22">HLA−B</text>
<text x="45.8" y="809.25" font-size="8.8" text-anchor="end" fill="#111" stroke="#111" stroke-width="0.22">RPS3</text>
<text x="45.8" y="819.61" font-size="8.8" text-anchor="end" fill="#111" stroke="#111" stroke-width="0.22">RPL12</text>
<text x="45.8" y="829.97" font-size="8.8" text-anchor="end" fill="#111" stroke="#111" stroke-width="0.22">RPS13</text>
<text x="45.8" y="840.33" font-size="8.8" text-anchor="end" fill="#111" stroke="#111" stroke-width="0.22">FAU</text>
<text x="45.8" y="850.69" font-size="8.8" text-anchor="end" fill="#111" stroke="#111" stroke-width="0.22">FTL</text>
<text x="45.8" y="861.05" font-size="8.8" text-anchor="end" fill="#111" stroke="#111" stroke-width="0.22">RPS7</text>
<text x="45.8" y="871.41" font-size="8.8" text-anchor="end" fill="#111" stroke="#111" stroke-width="0.22">RPS4X</text>
<text x="45.8" y="881.77" font-size="8.8" text-anchor="end" fill="#111" stroke="#111" stroke-width="0.22">RPS28</text>
<text x="82.3" y="912.2" font-size="8.8" text-anchor="middle" fill="#111" stroke="#111" stroke-width="0.15">0</text>
<text x="198.8" y="912.2" font-size="8.8" text-anchor="middle" fill="#111" stroke="#111" stroke-width="0.15">10</text>
<text x="315.3" y="912.2" font-size="8.8" text-anchor="middle" fill="#111" stroke="#111" stroke-width="0.15">20</text>
<text x="431.8" y="912.2" font-size="8.8" text-anchor="middle" fill="#111" stroke="#111" stroke-width="0.15">30</text>
<text x="548.3" y="912.2" font-size="8.8" text-anchor="middle" fill="#111" stroke="#111" stroke-width="0.15">40</text>
<text x="664.8" y="912.2" font-size="8.8" text-anchor="middle" fill="#111" stroke="#111" stroke-width="0.15">50</text>
<path d="M82.3 890.6V895.8M198.8 890.6V895.8M315.3 890.6V895.8M431.8 890.6V895.8M548.3 890.6V895.8M664.8 890.6V895.8" stroke="#2a2a2a" stroke-width="0.9" fill="none"/>
<text x="402.9" y="933" font-size="8.8" text-anchor="middle" fill="#111" stroke="#111" stroke-width="0.15">% total count per cell</text>
<rect x="131.5" y="622.95" width="68.3" height="4.3" fill="#e96f66" stroke="#0a0a0a" stroke-width="0.95"/>
<path d="M160 622.95V627.25" stroke="#0a0a0a" stroke-width="2.6"/>
<rect x="90.3" y="628.13" width="10.5" height="4.3" fill="#e47453" stroke="#0a0a0a" stroke-width="0.95"/>
<path d="M95.4 628.13V632.43" stroke="#0a0a0a" stroke-width="2.9"/>
<rect x="89.3" y="633.31" width="9.7" height="4.3" fill="#df793d" stroke="#0a0a0a" stroke-width="0.95"/>
<path d="M93.6 633.31V637.61" stroke="#0a0a0a" stroke-width="2.9"/>
<rect x="87.7" y="638.49" width="7.3" height="4.3" fill="#d97e1a" stroke="#0a0a0a" stroke-width="0.95"/>
<path d="M91.5 638.49V642.79" stroke="#0a0a0a" stroke-width="2.9"/>
<rect x="87.5" y="643.67" width="6.8" height="4.3" fill="#d28300" stroke="#0a0a0a" stroke-width="0.95"/>
<path d="M91.1 643.67V647.97" stroke="#0a0a0a" stroke-width="2.9"/>
<rect x="87.1" y="648.85" width="5.6" height="4.3" fill="#cb8700" stroke="#0a0a0a" stroke-width="0.95"/>
<path d="M89.9 648.85V653.15" stroke="#0a0a0a" stroke-width="2.9"/>
<rect x="86.3" y="654.03" width="6" height="4.3" fill="#c38c00" stroke="#0a0a0a" stroke-width="0.95"/>
<path d="M89.5 654.03V658.33" stroke="#0a0a0a" stroke-width="2.9"/>
<rect x="85.9" y="659.21" width="5.6" height="4.3" fill="#ba9000" stroke="#0a0a0a" stroke-width="0.95"/>
<path d="M88.9 659.21V663.51" stroke="#0a0a0a" stroke-width="2.9"/>
<rect x="85.6" y="664.39" width="5.9" height="4.3" fill="#b09400" stroke="#0a0a0a" stroke-width="0.95"/>
<path d="M88.7 664.39V668.69" stroke="#0a0a0a" stroke-width="2.9"/>
<rect x="85.6" y="669.57" width="5.9" height="4.3" fill="#a59800" stroke="#0a0a0a" stroke-width="0.95"/>
<path d="M88.7 669.57V673.87" stroke="#0a0a0a" stroke-width="2.9"/>
<rect x="85.5" y="674.75" width="5.6" height="4.3" fill="#999b00" stroke="#0a0a0a" stroke-width="0.95"/>
<path d="M88.4 674.75V679.05" stroke="#0a0a0a" stroke-width="2.9"/>
<rect x="84.6" y="679.93" width="8.2" height="4.3" fill="#8c9f00" stroke="#0a0a0a" stroke-width="0.95"/>
<path d="M87.3 679.93V684.23" stroke="#0a0a0a" stroke-width="2.9"/>
<rect x="85.5" y="685.11" width="4.8" height="4.3" fill="#7da200" stroke="#0a0a0a" stroke-width="0.95"/>
<path d="M87.6 685.11V689.41" stroke="#0a0a0a" stroke-width="2.9"/>
<rect x="85.4" y="690.29" width="4.1" height="4.3" fill="#6ba500" stroke="#0a0a0a" stroke-width="0.95"/>
<path d="M87.4 690.29V694.59" stroke="#0a0a0a" stroke-width="2.9"/>
<rect x="85.1" y="695.47" width="5.2" height="4.3" fill="#55a800" stroke="#0a0a0a" stroke-width="0.95"/>
<path d="M87.3 695.47V699.77" stroke="#0a0a0a" stroke-width="2.9"/>
<rect x="85.4" y="700.65" width="3.7" height="4.3" fill="#36ab00" stroke="#0a0a0a" stroke-width="0.95"/>
<path d="M87.2 700.65V704.95" stroke="#0a0a0a" stroke-width="2.9"/>
<rect x="84.9" y="705.83" width="8.7" height="4.3" fill="#00ad1e" stroke="#0a0a0a" stroke-width="0.95"/>
<path d="M87.5 705.83V710.13" stroke="#0a0a0a" stroke-width="2.9"/>
<rect x="85.4" y="711.01" width="3.7" height="4.3" fill="#00af3e" stroke="#0a0a0a" stroke-width="0.95"/>
<path d="M87.2 711.01V715.31" stroke="#0a0a0a" stroke-width="2.9"/>
<rect x="85.2" y="716.19" width="3.8" height="4.3" fill="#00b153" stroke="#0a0a0a" stroke-width="0.95"/>
<path d="M87.1 716.19V720.49" stroke="#0a0a0a" stroke-width="2.9"/>
<rect x="85.1" y="721.37" width="5.6" height="4.3" fill="#00b366" stroke="#0a0a0a" stroke-width="0.95"/>
<path d="M87.2 721.37V725.67" stroke="#0a0a0a" stroke-width="2.9"/>
<rect x="85.1" y="726.55" width="3.8" height="4.3" fill="#00b476" stroke="#0a0a0a" stroke-width="0.95"/>
<path d="M87 726.55V730.85" stroke="#0a0a0a" stroke-width="2.9"/>
<rect x="85.1" y="731.73" width="5.2" height="4.3" fill="#00b585" stroke="#0a0a0a" stroke-width="0.95"/>
<path d="M87.1 731.73V736.03" stroke="#0a0a0a" stroke-width="2.9"/>
<rect x="85.1" y="736.91" width="4.4" height="4.3" fill="#00b593" stroke="#0a0a0a" stroke-width="0.95"/>
<path d="M87 736.91V741.21" stroke="#0a0a0a" stroke-width="2.9"/>
<rect x="84.87" y="742.09" width="4.03" height="4.3" fill="#00b5a0" stroke="#0a0a0a" stroke-width="0.95"/>
<path d="M86.56 742.09V746.39" stroke="#0a0a0a" stroke-width="2.9"/>
<rect x="84.9" y="747.27" width="3.8" height="4.3" fill="#00b5ad" stroke="#0a0a0a" stroke-width="0.95"/>
<path d="M86.8 747.27V751.57" stroke="#0a0a0a" stroke-width="2.9"/>
<rect x="84.78" y="752.45" width="3.92" height="4.3" fill="#00b4b9" stroke="#0a0a0a" stroke-width="0.95"/>
<path d="M86.43 752.45V756.75" stroke="#0a0a0a" stroke-width="2.9"/>
<rect x="84.73" y="757.63" width="3.87" height="4.3" fill="#00b2c4" stroke="#0a0a0a" stroke-width="0.95"/>
<path d="M86.36 757.63V761.93" stroke="#0a0a0a" stroke-width="2.9"/>
<rect x="84.69" y="762.81" width="3.81" height="4.3" fill="#00b0ce" stroke="#0a0a0a" stroke-width="0.95"/>
<path d="M86.29 762.81V767.11" stroke="#0a0a0a" stroke-width="2.9"/>
<rect x="84.7" y="767.99" width="3.6" height="4.3" fill="#00add8" stroke="#0a0a0a" stroke-width="0.95"/>
<path d="M86.5 767.99V772.29" stroke="#0a0a0a" stroke-width="2.9"/>
<rect x="84.6" y="773.17" width="3.7" height="4.3" fill="#00aae0" stroke="#0a0a0a" stroke-width="0.95"/>
<path d="M86.15 773.17V777.47" stroke="#0a0a0a" stroke-width="2.9"/>
<rect x="84.55" y="778.35" width="3.67" height="4.3" fill="#00a5e8" stroke="#0a0a0a" stroke-width="0.95"/>
<path d="M86.1 778.35V782.65" stroke="#0a0a0a" stroke-width="2.9"/>
<rect x="84.51" y="783.53" width="3.65" height="4.3" fill="#00a1ee" stroke="#0a0a0a" stroke-width="0.95"/>
<path d="M86.04 783.53V787.83" stroke="#0a0a0a" stroke-width="2.9"/>
<rect x="84.46" y="788.71" width="3.62" height="4.3" fill="#009bf0" stroke="#0a0a0a" stroke-width="0.95"/>
<path d="M85.98 788.71V793.01" stroke="#0a0a0a" stroke-width="2.9"/>
<rect x="84.42" y="793.89" width="3.59" height="4.3" fill="#4e95f0" stroke="#0a0a0a" stroke-width="0.95"/>
<path d="M85.93 793.89V798.19" stroke="#0a0a0a" stroke-width="2.9"/>
<rect x="84.37" y="799.07" width="3.56" height="4.3" fill="#718ef0" stroke="#0a0a0a" stroke-width="0.95"/>
<path d="M85.87 799.07V803.37" stroke="#0a0a0a" stroke-width="2.9"/>
<rect x="84.33" y="804.25" width="3.54" height="4.3" fill="#8c87f0" stroke="#0a0a0a" stroke-width="0.95"/>
<path d="M85.81 804.25V808.55" stroke="#0a0a0a" stroke-width="2.9"/>
<rect x="84.28" y="809.43" width="3.51" height="4.3" fill="#a180f0" stroke="#0a0a0a" stroke-width="0.95"/>
<path d="M85.76 809.43V813.73" stroke="#0a0a0a" stroke-width="2.9"/>
<rect x="84.24" y="814.61" width="3.48" height="4.3" fill="#b378f0" stroke="#0a0a0a" stroke-width="0.95"/>
<path d="M85.7 814.61V818.91" stroke="#0a0a0a" stroke-width="2.9"/>
<rect x="84.19" y="819.79" width="3.45" height="4.3" fill="#c271f0" stroke="#0a0a0a" stroke-width="0.95"/>
<path d="M85.64 819.79V824.09" stroke="#0a0a0a" stroke-width="2.9"/>
<rect x="84.15" y="824.97" width="3.43" height="4.3" fill="#cf6beb" stroke="#0a0a0a" stroke-width="0.95"/>
<path d="M85.58 824.97V829.27" stroke="#0a0a0a" stroke-width="2.9"/>
<rect x="84.1" y="830.15" width="3.4" height="4.3" fill="#d965e4" stroke="#0a0a0a" stroke-width="0.95"/>
<path d="M85.53 830.15V834.45" stroke="#0a0a0a" stroke-width="2.9"/>
<rect x="84.08" y="835.33" width="3.38" height="4.3" fill="#e260dc" stroke="#0a0a0a" stroke-width="0.95"/>
<path d="M85.5 835.33V839.63" stroke="#0a0a0a" stroke-width="2.9"/>
<rect x="84" y="840.51" width="3.3" height="4.3" fill="#e85dd3" stroke="#0a0a0a" stroke-width="0.95"/>
<path d="M85.4 840.51V844.81" stroke="#0a0a0a" stroke-width="2.9"/>
<rect x="84.3" y="845.69" width="8" height="4.3" fill="#ed5bc8" stroke="#0a0a0a" stroke-width="0.95"/>
<path d="M85.6 845.69V849.99" stroke="#0a0a0a" stroke-width="2.9"/>
<rect x="84.01" y="850.87" width="3.31" height="4.3" fill="#f05bbd" stroke="#0a0a0a" stroke-width="0.95"/>
<path d="M85.4 850.87V855.17" stroke="#0a0a0a" stroke-width="2.9"/>
<rect x="83.99" y="856.05" width="3.29" height="4.3" fill="#f05cb0" stroke="#0a0a0a" stroke-width="0.95"/>
<path d="M85.37 856.05V860.35" stroke="#0a0a0a" stroke-width="2.9"/>
<rect x="83.97" y="861.23" width="3.27" height="4.3" fill="#f05fa3" stroke="#0a0a0a" stroke-width="0.95"/>
<path d="M85.34 861.23V865.53" stroke="#0a0a0a" stroke-width="2.9"/>
<rect x="83.94" y="866.41" width="3.24" height="4.3" fill="#f06296" stroke="#0a0a0a" stroke-width="0.95"/>
<path d="M85.31 866.41V870.71" stroke="#0a0a0a" stroke-width="2.9"/>
<rect x="83.9" y="871.59" width="3.2" height="4.3" fill="#f06687" stroke="#0a0a0a" stroke-width="0.95"/>
<path d="M85.3 871.59V875.89" stroke="#0a0a0a" stroke-width="2.9"/>
<rect x="83.9" y="876.77" width="3.2" height="4.3" fill="#ed6a77" stroke="#0a0a0a" stroke-width="0.95"/>
<path d="M85.24 876.77V881.07" stroke="#0a0a0a" stroke-width="2.9"/>
<path d="M297.2 625.1H329.7M124.3 635.46H142.7M120.3 671.72H132.1M116.3 682.08H122.7M112.3 687.26H126.7M150 707.98H159.4M130.1 847.84H148.1" stroke="#0a0a0a" stroke-width="1.2" stroke-dasharray="1.5 0.7" fill="none"/>
<path d="M82.3 625.1H131.5M296.4 625.1H200.2M82.3 630.28H90.3M115.4 630.28H101.2M82.3 635.46H89.3M110.9 635.46H99.4M82.3 640.64H87.7M104.6 640.64H95.4M82.3 645.82H87.5M103.4 645.82H94.7M82.3 651H87.1M99.8 651H93.1M82.3 656.18H86.3M99.4 656.18H92.7M82.3 661.36H85.9M98.6 661.36H91.9M82.3 666.54H85.6M99.4 666.54H91.9M82.3 671.72H85.6M98.9 671.72H91.9M82.3 676.9H85.5M98.2 676.9H91.5M82.3 682.08H84.6M104.3 682.08H93.2M82.3 687.26H85.5M96 687.26H90.7M82.3 692.44H85.4M94.4 692.44H89.9M82.3 697.62H85.1M96.9 697.62H90.7M82.3 702.8H85.4M94.4 702.8H89.5M82.3 707.98H84.9M106.3 707.98H94M82.3 713.16H85.4M96.3 713.16H89.5M82.3 718.34H85.2M94.4 718.34H89.4M82.3 723.52H85.1M97 723.52H91.1M82.3 728.7H85.1M93.5 728.7H89.3M82.3 733.88H85.1M96.6 733.88H90.7M82.3 739.06H85.1M95.4 739.06H89.9M82.3 744.24H84.87M93.53 744.24H89.3M82.3 749.42H84.9M92.3 749.42H89.1M82.3 754.6H84.78M93.36 754.6H89.1M82.3 759.78H84.73M93.27 759.78H89M82.3 764.96H84.69M93.18 764.96H88.9M82.3 770.14H84.7M91.5 770.14H88.7M82.3 775.32H84.6M93.3 775.32H88.7M82.3 780.5H84.55M93.3 780.5H88.63M82.3 785.68H84.51M91.9 785.68H88.55M82.3 790.86H84.46M92.9 790.86H88.48M82.3 796.04H84.42M93.3 796.04H88.41M82.3 801.22H84.37M92.9 801.22H88.34M82.3 806.4H84.33M92.9 806.4H88.26M82.3 811.58H84.28M92.5 811.58H88.19M82.3 816.76H84.24M91 816.76H88.12M82.3 821.94H84.19M91 821.94H88.05M82.3 827.12H84.15M91 827.12H87.97M82.3 832.3H84.1M91.3 832.3H87.9M82.3 837.48H84.08M90 837.48H87.86M82.3 842.66H84M91.9 842.66H87.7M82.3 847.84H84.3M102.9 847.84H92.7M82.3 853.02H84.01M90 853.02H87.72M82.3 858.2H83.99M90.55 858.2H87.68M82.3 863.38H83.97M90.56 863.38H87.63M82.3 868.56H83.94M90.57 868.56H87.59M82.3 873.74H83.9M91.1 873.74H87.5M82.3 878.92H83.9M90.6 878.92H87.5" stroke="#0a0a0a" stroke-width="1" stroke-dasharray="3.7 4.2" fill="none"/>
<path d="M82.3 623.85V626.35M296.4 623.85V626.35M82.3 629.03V631.53M115.4 629.03V631.53M82.3 634.21V636.71M110.9 634.21V636.71M82.3 639.39V641.89M104.6 639.39V641.89M82.3 644.57V647.07M103.4 644.57V647.07M82.3 649.75V652.25M99.8 649.75V652.25M82.3 654.93V657.43M99.4 654.93V657.43M82.3 660.11V662.61M98.6 660.11V662.61M82.3 665.29V667.79M99.4 665.29V667.79M82.3 670.47V672.97M98.9 670.47V672.97M82.3 675.65V678.15M98.2 675.65V678.15M82.3 680.83V683.33M104.3 680.83V683.33M82.3 686.01V688.51M96 686.01V688.51M82.3 691.19V693.69M94.4 691.19V693.69M82.3 696.37V698.87M96.9 696.37V698.87M82.3 701.55V704.05M94.4 701.55V704.05M82.3 706.73V709.23M106.3 706.73V709.23M82.3 711.91V714.41M96.3 711.91V714.41M82.3 717.09V719.59M94.4 717.09V719.59M82.3 722.27V724.77M97 722.27V724.77M82.3 727.45V729.95M93.5 727.45V729.95M82.3 732.63V735.13M96.6 732.63V735.13M82.3 737.81V740.31M95.4 737.81V740.31M82.3 742.99V745.49M93.53 742.99V745.49M82.3 748.17V750.67M92.3 748.17V750.67M82.3 753.35V755.85M93.36 753.35V755.85M82.3 758.53V761.03M93.27 758.53V761.03M82.3 763.71V766.21M93.18 763.71V766.21M82.3 768.89V771.39M91.5 768.89V771.39M82.3 774.07V776.57M93.3 774.07V776.57M82.3 779.25V781.75M93.3 779.25V781.75M82.3 784.43V786.93M91.9 784.43V786.93M82.3 789.61V792.11M92.9 789.61V792.11M82.3 794.79V797.29M93.3 794.79V797.29M82.3 799.97V802.47M92.9 799.97V802.47M82.3 805.15V807.65M92.9 805.15V807.65M82.3 810.33V812.83M92.5 810.33V812.83M82.3 815.51V818.01M91 815.51V818.01M82.3 820.69V823.19M91 820.69V823.19M82.3 825.87V828.37M91 825.87V828.37M82.3 831.05V833.55M91.3 831.05V833.55M82.3 836.23V838.73M90 836.23V838.73M82.3 841.41V843.91M91.9 841.41V843.91M82.3 846.59V849.09M102.9 846.59V849.09M82.3 851.77V854.27M90 851.77V854.27M82.3 856.95V859.45M90.55 856.95V859.45M82.3 862.13V864.63M90.56 862.13V864.63M82.3 867.31V869.81M90.57 867.31V869.81M82.3 872.49V874.99M91.1 872.49V874.99M82.3 877.67V880.17M90.6 877.67V880.17" stroke="#0a0a0a" stroke-width="0.95" fill="none"/>
<path d="M296.4 625.1H296.7M115.4 630.28H125.21M110.9 635.46H123.8M104.6 640.64H107.75M103.4 645.82H109.33M99.8 651H110.13M99.4 656.18H104.97M98.6 661.36H105.76M99.4 666.54H107.75M98.9 671.72H119.8M98.2 676.9H103.78M104.3 682.08H115.8M96 687.26H111.8M94.4 692.44H100.9M96.9 697.62H102.9M94.4 702.8H101.9M106.3 707.98H149.5M96.3 713.16H116.8M94.4 718.34H98.9M97 723.52H105.76M93.5 728.7H99.02M96.6 733.88H101M95.4 739.06H101M93.53 744.24H99.81M92.3 749.42H100.6M93.36 754.6H97.03M93.27 759.78H98.62M93.18 764.96H101.4M91.5 770.14H96.63M93.3 775.32H97.9M93.3 780.5H116.7M91.9 785.68H94.5M92.9 790.86H96.5M93.3 796.04H99.3M92.9 801.22H95.3M92.9 806.4H97.3M92.5 811.58H97.3M91 816.76H97.9M91 821.94H95.9M91 827.12H95.9M91.3 832.3H103.8M90 837.48H93.9M91.9 842.66H99.3M102.9 847.84H129.6M90 853.02H93.9M90.55 858.2H93.86M90.56 863.38H92.27M90.57 868.56H93.86M91.1 873.74H101.4M90.6 878.92H95.84" stroke="#0a0a0a" stroke-width="1.35" fill="none"/>
<path d="M333.85 625.1h1.1M337.05 625.1h1.1M340.25 625.1h1.1M343.45 625.1h1.1M346.65 625.1h1.1M349.45 625.1h1.1M364.05 625.1h1.1M366.95 625.1h1.1M370.45 625.1h1.1M373.45 625.1h1.1M383.15 625.1h1.1M386.45 625.1h1.1M389.95 625.1h1.1M394.45 625.1h1.1M397.45 625.1h1.1M401.45 625.1h1.1M404.45 625.1h1.1M406.95 625.1h1.1M431.45 625.1h1.1M462.45 625.1h1.1M467.85 625.1h1.1M481.45 625.1h1.1M487.85 625.1h1.1M506.95 625.1h1.1M510.05 625.1h1.1M519.45 625.1h1.1M523.45 625.1h1.1M531.35 625.1h1.1M533.85 625.1h1.1M536.05 625.1h1.1M553.45 625.1h1.1M575.75 625.1h1.1M578.35 625.1h1.1M624.05 625.1h1.1M693.25 625.1h1.1M721.75 625.1h1.1M138.05 630.28h1.1M145.45 635.46h1.1M148.45 635.46h1.1M151.45 635.46h1.1M154.05 635.46h1.1M157.95 635.46h1.1M165.95 635.46h1.1M167.95 635.46h1.1M175.85 635.46h1.1M177.85 635.46h1.1M181.75 635.46h1.1M186.75 635.46h1.1M194.65 635.46h1.1M202.65 635.46h1.1M210.95 635.46h1.1M238.95 635.46h1.1M110.37 640.64h1.1M111.96 651h1.1M109.18 666.54h1.1M137.05 671.72h1.1M140.65 671.72h1.1M144.05 671.72h1.1M150.55 671.72h1.1M156.35 671.72h1.1M176.15 671.72h1.1M183.65 671.72h1.1M124.75 682.08h1.1M139.05 687.26h1.1M141.05 687.26h1.1M146.35 687.26h1.1M151.55 687.26h1.1M163.25 687.26h1.1M164.85 687.26h1.1M103.35 692.44h1.1M110.85 692.44h1.1M106.95 697.62h1.1M109.25 697.62h1.1M117.25 697.62h1.1M163.25 707.98h1.1M165.85 707.98h1.1M168.85 707.98h1.1M173.75 707.98h1.1M175.15 707.98h1.1M178.35 707.98h1.1M184.25 707.98h1.1M186.25 707.98h1.1M188.05 707.98h1.1M196.15 707.98h1.1M198.55 707.98h1.1M206.15 707.98h1.1M208.15 707.98h1.1M222.75 707.98h1.1M122.15 713.16h1.1M130.75 713.16h1.1M144.65 713.16h1.1M146.95 713.16h1.1M148.95 713.16h1.1M151.95 713.16h1.1M185.65 713.16h1.1M103.35 718.34h1.1M108.39 723.52h1.1M98.86 770.14h1.1M118.55 780.5h1.1M122.55 780.5h1.1M125.15 780.5h1.1M127.75 780.5h1.1M133.05 780.5h1.1M143.55 780.5h1.1M147.55 780.5h1.1M148.95 780.5h1.1M176.15 780.5h1.1M98.35 811.58h1.1M100.75 811.58h1.1M98.75 821.94h1.1M97.35 827.12h1.1M107.85 832.3h1.1M112.25 832.3h1.1M113.95 832.3h1.1M115.75 832.3h1.1M118.55 832.3h1.1M129.05 832.3h1.1M131.65 832.3h1.1M134.05 832.3h1.1M140.65 832.3h1.1M157.05 832.3h1.1M150.95 847.84h1.1M153.45 847.84h1.1M155.85 847.84h1.1M160.85 847.84h1.1M162.85 847.84h1.1M167.35 847.84h1.1M168.75 847.84h1.1M170.15 847.84h1.1M185.05 847.84h1.1M187.65 847.84h1.1M192.55 847.84h1.1M195.55 847.84h1.1M197.55 847.84h1.1M199.55 847.84h1.1M201.55 847.84h1.1M203.45 847.84h1.1M207.05 847.84h1.1M215.45 847.84h1.1M219.35 847.84h1.1M220.95 847.84h1.1M241.35 847.84h1.1M261.85 847.84h1.1M265.85 847.84h1.1M283.35 847.84h1.1M310.45 847.84h1.1M323.75 847.84h1.1M344.55 847.84h1.1M93.31 863.38h1.1" stroke="#0a0a0a" stroke-width="1.15" fill="none"/>
</svg></body></html>
